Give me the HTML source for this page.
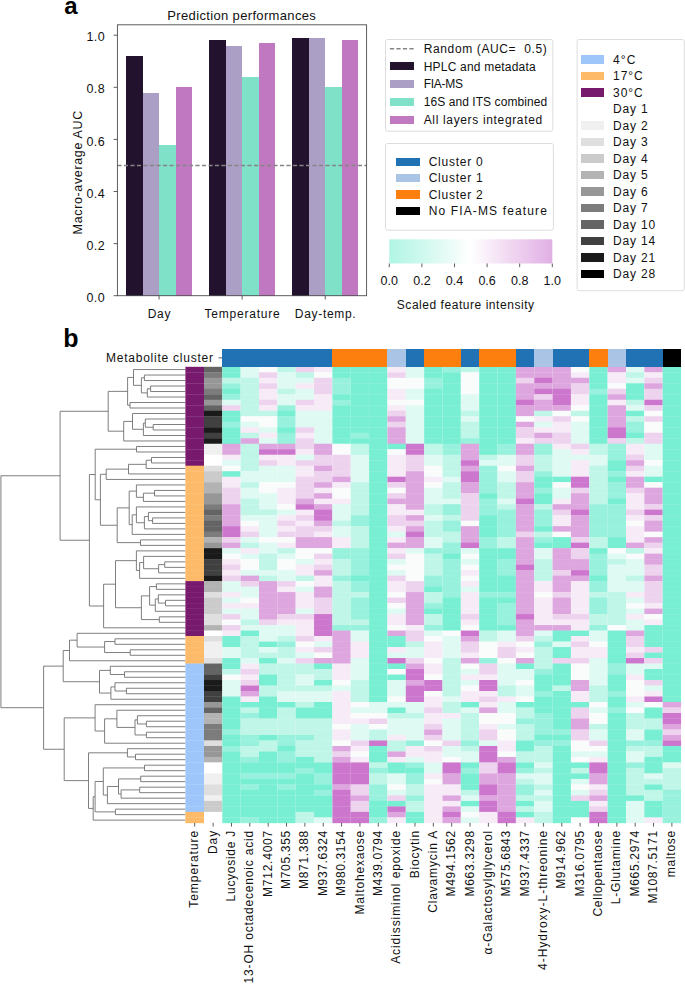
<!DOCTYPE html><html><head><meta charset="utf-8"><style>html,body{margin:0;padding:0;background:#fff;width:685px;height:984px;overflow:hidden}svg{display:block;font-family:"Liberation Sans",sans-serif}</style></head><body><svg width="685" height="984" viewBox="0 0 685 984" shape-rendering="crispEdges">
<rect width="685" height="984" fill="#fff"/>
<path d="M185.4 375.04H144.4V380.54H185.4M185.4 386.03H150.6V391.53H185.4M150.6 388.78H147.3V397.02H185.4M144.4 377.79H141.4V392.90H147.3M185.4 369.55H133.5V385.35H141.4M185.4 402.52H130.0V408.01H185.4M133.5 377.45H127.6V405.26H130.0M185.4 424.50H153.2V429.99H185.4M185.4 419.00H145.3V427.25H153.2M145.3 423.12H143.4V435.49H185.4M185.4 413.51H132.5V429.31H143.4M132.5 421.41H123.7V440.98H185.4M127.6 391.36H108.2V431.19H123.7M185.4 446.48H136.5V451.97H185.4M185.4 457.47H151.5V462.96H185.4M151.5 460.22H146.2V468.46H185.4M146.2 464.34H128.5V473.95H185.4M128.5 469.14H106.2V479.45H185.4M185.4 490.44H154.5V495.93H185.4M154.5 493.19H143.4V501.43H185.4M185.4 484.94H136.4V497.31H143.4M185.4 517.91H152.6V523.41H185.4M185.4 512.42H148.4V520.66H152.6M148.4 516.54H144.4V528.90H185.4M185.4 506.92H136.4V522.72H144.4M136.4 514.82H132.2V534.40H185.4M136.4 491.12H129.2V524.61H132.2M185.4 539.89H140.5V545.39H185.4M129.2 507.87H117.2V542.64H140.5M106.2 474.30H100.4V525.25H117.2M136.5 449.23H95.2V499.77H100.4M185.4 561.87H164.7V567.37H185.4M164.7 564.62H158.6V572.86H185.4M185.4 556.38H143.6V568.74H158.6M143.6 562.56H139.6V578.36H185.4M185.4 550.88H136.4V570.46H139.6M185.4 583.85H156.4V589.35H185.4M185.4 600.34H165.5V605.83H185.4M185.4 594.84H158.3V603.09H165.5M158.3 598.96H155.3V611.33H185.4M156.4 586.60H149.6V605.15H155.3M185.4 616.82H159.3V622.32H185.4M149.6 595.87H141.4V619.57H159.3M136.4 560.67H115.5V607.72H141.4M115.5 584.20H103.6V627.81H185.4M95.2 474.50H89.4V606.00H103.6M108.2 411.28H60.1V540.25H89.4M185.4 638.80H115.0V644.30H185.4M185.4 649.79H130.2V655.29H185.4M115.0 641.55H104.6V652.54H130.2M185.4 633.31H77.1V647.04H104.6M77.1 640.18H69.5V660.78H185.4M185.4 671.77H124.5V677.27H185.4M185.4 666.28H110.3V674.52H124.5M185.4 688.26H126.4V693.75H185.4M185.4 682.76H115.0V691.00H126.4M115.0 686.88H110.9V699.25H185.4M110.3 670.40H99.5V693.07H110.9M69.5 650.48H63.2V681.73H99.5M185.4 721.23H146.4V726.72H185.4M185.4 715.73H137.4V723.98H146.4M185.4 732.22H146.4V737.71H185.4M137.4 719.85H135.0V734.97H146.4M185.4 710.24H116.9V727.41H135.0M116.9 718.82H104.6V743.21H185.4M185.4 704.74H95.1V731.02H104.6M185.4 754.20H135.5V759.69H185.4M185.4 748.70H127.4V756.94H135.5M185.4 765.19H144.5V770.68H185.4M185.4 776.18H140.7V781.67H185.4M185.4 787.17H139.7V792.66H185.4M139.7 789.91H121.1V798.16H185.4M140.7 778.92H118.5V794.04H121.1M118.5 786.48H107.4V803.65H185.4M144.5 767.93H103.3V795.07H107.4M185.4 809.15H115.4V814.64H185.4M103.3 781.50H95.1V811.89H115.4M95.1 796.70H93.2V820.14H185.4M127.4 752.82H88.5V808.42H93.2M95.1 717.88H64.2V780.62H88.5M63.2 666.11H43.6V749.25H64.2M60.1 475.76H0.9V707.68H43.6" fill="none" stroke="#707070" stroke-width="0.9" shape-rendering="auto"/>
<g shape-rendering="auto"><rect x="185.4" y="366.80" width="18.60" height="5.795" fill="#771a6d"/><rect x="185.4" y="372.30" width="18.60" height="5.795" fill="#771a6d"/><rect x="185.4" y="377.79" width="18.60" height="5.795" fill="#771a6d"/><rect x="185.4" y="383.29" width="18.60" height="5.795" fill="#771a6d"/><rect x="185.4" y="388.78" width="18.60" height="5.795" fill="#771a6d"/><rect x="185.4" y="394.28" width="18.60" height="5.795" fill="#771a6d"/><rect x="185.4" y="399.77" width="18.60" height="5.795" fill="#771a6d"/><rect x="185.4" y="405.26" width="18.60" height="5.795" fill="#771a6d"/><rect x="185.4" y="410.76" width="18.60" height="5.795" fill="#771a6d"/><rect x="185.4" y="416.25" width="18.60" height="5.795" fill="#771a6d"/><rect x="185.4" y="421.75" width="18.60" height="5.795" fill="#771a6d"/><rect x="185.4" y="427.25" width="18.60" height="5.795" fill="#771a6d"/><rect x="185.4" y="432.74" width="18.60" height="5.795" fill="#771a6d"/><rect x="185.4" y="438.24" width="18.60" height="5.795" fill="#771a6d"/><rect x="185.4" y="443.73" width="18.60" height="5.795" fill="#771a6d"/><rect x="185.4" y="449.23" width="18.60" height="5.795" fill="#771a6d"/><rect x="185.4" y="454.72" width="18.60" height="5.795" fill="#771a6d"/><rect x="185.4" y="460.22" width="18.60" height="5.795" fill="#771a6d"/><rect x="185.4" y="465.71" width="18.60" height="5.795" fill="#fdbb69"/><rect x="185.4" y="471.21" width="18.60" height="5.795" fill="#fdbb69"/><rect x="185.4" y="476.70" width="18.60" height="5.795" fill="#fdbb69"/><rect x="185.4" y="482.19" width="18.60" height="5.795" fill="#fdbb69"/><rect x="185.4" y="487.69" width="18.60" height="5.795" fill="#fdbb69"/><rect x="185.4" y="493.19" width="18.60" height="5.795" fill="#fdbb69"/><rect x="185.4" y="498.68" width="18.60" height="5.795" fill="#fdbb69"/><rect x="185.4" y="504.18" width="18.60" height="5.795" fill="#fdbb69"/><rect x="185.4" y="509.67" width="18.60" height="5.795" fill="#fdbb69"/><rect x="185.4" y="515.16" width="18.60" height="5.795" fill="#fdbb69"/><rect x="185.4" y="520.66" width="18.60" height="5.795" fill="#fdbb69"/><rect x="185.4" y="526.15" width="18.60" height="5.795" fill="#fdbb69"/><rect x="185.4" y="531.65" width="18.60" height="5.795" fill="#fdbb69"/><rect x="185.4" y="537.14" width="18.60" height="5.795" fill="#fdbb69"/><rect x="185.4" y="542.64" width="18.60" height="5.795" fill="#fdbb69"/><rect x="185.4" y="548.13" width="18.60" height="5.795" fill="#fdbb69"/><rect x="185.4" y="553.63" width="18.60" height="5.795" fill="#fdbb69"/><rect x="185.4" y="559.12" width="18.60" height="5.795" fill="#fdbb69"/><rect x="185.4" y="564.62" width="18.60" height="5.795" fill="#fdbb69"/><rect x="185.4" y="570.12" width="18.60" height="5.795" fill="#fdbb69"/><rect x="185.4" y="575.61" width="18.60" height="5.795" fill="#fdbb69"/><rect x="185.4" y="581.11" width="18.60" height="5.795" fill="#771a6d"/><rect x="185.4" y="586.60" width="18.60" height="5.795" fill="#771a6d"/><rect x="185.4" y="592.10" width="18.60" height="5.795" fill="#771a6d"/><rect x="185.4" y="597.59" width="18.60" height="5.795" fill="#771a6d"/><rect x="185.4" y="603.09" width="18.60" height="5.795" fill="#771a6d"/><rect x="185.4" y="608.58" width="18.60" height="5.795" fill="#771a6d"/><rect x="185.4" y="614.08" width="18.60" height="5.795" fill="#771a6d"/><rect x="185.4" y="619.57" width="18.60" height="5.795" fill="#771a6d"/><rect x="185.4" y="625.07" width="18.60" height="5.795" fill="#771a6d"/><rect x="185.4" y="630.56" width="18.60" height="5.795" fill="#771a6d"/><rect x="185.4" y="636.06" width="18.60" height="5.795" fill="#fdbb69"/><rect x="185.4" y="641.55" width="18.60" height="5.795" fill="#fdbb69"/><rect x="185.4" y="647.05" width="18.60" height="5.795" fill="#fdbb69"/><rect x="185.4" y="652.54" width="18.60" height="5.795" fill="#fdbb69"/><rect x="185.4" y="658.04" width="18.60" height="5.795" fill="#fdbb69"/><rect x="185.4" y="663.53" width="18.60" height="5.795" fill="#9fc6fb"/><rect x="185.4" y="669.03" width="18.60" height="5.795" fill="#9fc6fb"/><rect x="185.4" y="674.52" width="18.60" height="5.795" fill="#9fc6fb"/><rect x="185.4" y="680.02" width="18.60" height="5.795" fill="#9fc6fb"/><rect x="185.4" y="685.51" width="18.60" height="5.795" fill="#9fc6fb"/><rect x="185.4" y="691.00" width="18.60" height="5.795" fill="#9fc6fb"/><rect x="185.4" y="696.50" width="18.60" height="5.795" fill="#9fc6fb"/><rect x="185.4" y="702.00" width="18.60" height="5.795" fill="#9fc6fb"/><rect x="185.4" y="707.49" width="18.60" height="5.795" fill="#9fc6fb"/><rect x="185.4" y="712.99" width="18.60" height="5.795" fill="#9fc6fb"/><rect x="185.4" y="718.48" width="18.60" height="5.795" fill="#9fc6fb"/><rect x="185.4" y="723.98" width="18.60" height="5.795" fill="#9fc6fb"/><rect x="185.4" y="729.47" width="18.60" height="5.795" fill="#9fc6fb"/><rect x="185.4" y="734.97" width="18.60" height="5.795" fill="#9fc6fb"/><rect x="185.4" y="740.46" width="18.60" height="5.795" fill="#9fc6fb"/><rect x="185.4" y="745.96" width="18.60" height="5.795" fill="#9fc6fb"/><rect x="185.4" y="751.45" width="18.60" height="5.795" fill="#9fc6fb"/><rect x="185.4" y="756.94" width="18.60" height="5.795" fill="#9fc6fb"/><rect x="185.4" y="762.44" width="18.60" height="5.795" fill="#9fc6fb"/><rect x="185.4" y="767.93" width="18.60" height="5.795" fill="#9fc6fb"/><rect x="185.4" y="773.43" width="18.60" height="5.795" fill="#9fc6fb"/><rect x="185.4" y="778.92" width="18.60" height="5.795" fill="#9fc6fb"/><rect x="185.4" y="784.42" width="18.60" height="5.795" fill="#9fc6fb"/><rect x="185.4" y="789.91" width="18.60" height="5.795" fill="#9fc6fb"/><rect x="185.4" y="795.41" width="18.60" height="5.795" fill="#9fc6fb"/><rect x="185.4" y="800.90" width="18.60" height="5.795" fill="#9fc6fb"/><rect x="185.4" y="806.40" width="18.60" height="5.795" fill="#9fc6fb"/><rect x="185.4" y="811.89" width="18.60" height="5.795" fill="#fdbb69"/><rect x="185.4" y="817.39" width="18.60" height="5.795" fill="#fdbb69"/><rect x="204.0" y="366.80" width="18.30" height="5.795" fill="#646464"/><rect x="204.0" y="372.30" width="18.30" height="5.795" fill="#7c7c7c"/><rect x="204.0" y="377.79" width="18.30" height="5.795" fill="#979797"/><rect x="204.0" y="383.29" width="18.30" height="5.795" fill="#979797"/><rect x="204.0" y="388.78" width="18.30" height="5.795" fill="#7c7c7c"/><rect x="204.0" y="394.28" width="18.30" height="5.795" fill="#646464"/><rect x="204.0" y="399.77" width="18.30" height="5.795" fill="#979797"/><rect x="204.0" y="405.26" width="18.30" height="5.795" fill="#646464"/><rect x="204.0" y="410.76" width="18.30" height="5.795" fill="#1a1a1a"/><rect x="204.0" y="416.25" width="18.30" height="5.795" fill="#404040"/><rect x="204.0" y="421.75" width="18.30" height="5.795" fill="#404040"/><rect x="204.0" y="427.25" width="18.30" height="5.795" fill="#1a1a1a"/><rect x="204.0" y="432.74" width="18.30" height="5.795" fill="#404040"/><rect x="204.0" y="438.24" width="18.30" height="5.795" fill="#1a1a1a"/><rect x="204.0" y="443.73" width="18.30" height="5.795" fill="#f0f0f0"/><rect x="204.0" y="449.23" width="18.30" height="5.795" fill="#f0f0f0"/><rect x="204.0" y="454.72" width="18.30" height="5.795" fill="#ffffff"/><rect x="204.0" y="460.22" width="18.30" height="5.795" fill="#ffffff"/><rect x="204.0" y="465.71" width="18.30" height="5.795" fill="#dfdfdf"/><rect x="204.0" y="471.21" width="18.30" height="5.795" fill="#cbcbcb"/><rect x="204.0" y="476.70" width="18.30" height="5.795" fill="#cbcbcb"/><rect x="204.0" y="482.19" width="18.30" height="5.795" fill="#b3b3b3"/><rect x="204.0" y="487.69" width="18.30" height="5.795" fill="#b3b3b3"/><rect x="204.0" y="493.19" width="18.30" height="5.795" fill="#979797"/><rect x="204.0" y="498.68" width="18.30" height="5.795" fill="#979797"/><rect x="204.0" y="504.18" width="18.30" height="5.795" fill="#7c7c7c"/><rect x="204.0" y="509.67" width="18.30" height="5.795" fill="#646464"/><rect x="204.0" y="515.16" width="18.30" height="5.795" fill="#7c7c7c"/><rect x="204.0" y="520.66" width="18.30" height="5.795" fill="#646464"/><rect x="204.0" y="526.15" width="18.30" height="5.795" fill="#646464"/><rect x="204.0" y="531.65" width="18.30" height="5.795" fill="#7c7c7c"/><rect x="204.0" y="537.14" width="18.30" height="5.795" fill="#b3b3b3"/><rect x="204.0" y="542.64" width="18.30" height="5.795" fill="#979797"/><rect x="204.0" y="548.13" width="18.30" height="5.795" fill="#1a1a1a"/><rect x="204.0" y="553.63" width="18.30" height="5.795" fill="#1a1a1a"/><rect x="204.0" y="559.12" width="18.30" height="5.795" fill="#404040"/><rect x="204.0" y="564.62" width="18.30" height="5.795" fill="#404040"/><rect x="204.0" y="570.12" width="18.30" height="5.795" fill="#404040"/><rect x="204.0" y="575.61" width="18.30" height="5.795" fill="#1a1a1a"/><rect x="204.0" y="581.11" width="18.30" height="5.795" fill="#b3b3b3"/><rect x="204.0" y="586.60" width="18.30" height="5.795" fill="#b3b3b3"/><rect x="204.0" y="592.10" width="18.30" height="5.795" fill="#dfdfdf"/><rect x="204.0" y="597.59" width="18.30" height="5.795" fill="#cbcbcb"/><rect x="204.0" y="603.09" width="18.30" height="5.795" fill="#cbcbcb"/><rect x="204.0" y="608.58" width="18.30" height="5.795" fill="#cbcbcb"/><rect x="204.0" y="614.08" width="18.30" height="5.795" fill="#dfdfdf"/><rect x="204.0" y="619.57" width="18.30" height="5.795" fill="#dfdfdf"/><rect x="204.0" y="625.07" width="18.30" height="5.795" fill="#b3b3b3"/><rect x="204.0" y="630.56" width="18.30" height="5.795" fill="#ffffff"/><rect x="204.0" y="636.06" width="18.30" height="5.795" fill="#dfdfdf"/><rect x="204.0" y="641.55" width="18.30" height="5.795" fill="#f0f0f0"/><rect x="204.0" y="647.05" width="18.30" height="5.795" fill="#f0f0f0"/><rect x="204.0" y="652.54" width="18.30" height="5.795" fill="#f0f0f0"/><rect x="204.0" y="658.04" width="18.30" height="5.795" fill="#dfdfdf"/><rect x="204.0" y="663.53" width="18.30" height="5.795" fill="#646464"/><rect x="204.0" y="669.03" width="18.30" height="5.795" fill="#646464"/><rect x="204.0" y="674.52" width="18.30" height="5.795" fill="#404040"/><rect x="204.0" y="680.02" width="18.30" height="5.795" fill="#1a1a1a"/><rect x="204.0" y="685.51" width="18.30" height="5.795" fill="#1a1a1a"/><rect x="204.0" y="691.00" width="18.30" height="5.795" fill="#404040"/><rect x="204.0" y="696.50" width="18.30" height="5.795" fill="#404040"/><rect x="204.0" y="702.00" width="18.30" height="5.795" fill="#979797"/><rect x="204.0" y="707.49" width="18.30" height="5.795" fill="#646464"/><rect x="204.0" y="712.99" width="18.30" height="5.795" fill="#b3b3b3"/><rect x="204.0" y="718.48" width="18.30" height="5.795" fill="#b3b3b3"/><rect x="204.0" y="723.98" width="18.30" height="5.795" fill="#7c7c7c"/><rect x="204.0" y="729.47" width="18.30" height="5.795" fill="#7c7c7c"/><rect x="204.0" y="734.97" width="18.30" height="5.795" fill="#7c7c7c"/><rect x="204.0" y="740.46" width="18.30" height="5.795" fill="#dfdfdf"/><rect x="204.0" y="745.96" width="18.30" height="5.795" fill="#979797"/><rect x="204.0" y="751.45" width="18.30" height="5.795" fill="#979797"/><rect x="204.0" y="756.94" width="18.30" height="5.795" fill="#b3b3b3"/><rect x="204.0" y="762.44" width="18.30" height="5.795" fill="#ffffff"/><rect x="204.0" y="767.93" width="18.30" height="5.795" fill="#ffffff"/><rect x="204.0" y="773.43" width="18.30" height="5.795" fill="#f0f0f0"/><rect x="204.0" y="778.92" width="18.30" height="5.795" fill="#f0f0f0"/><rect x="204.0" y="784.42" width="18.30" height="5.795" fill="#dfdfdf"/><rect x="204.0" y="789.91" width="18.30" height="5.795" fill="#dfdfdf"/><rect x="204.0" y="795.41" width="18.30" height="5.795" fill="#f0f0f0"/><rect x="204.0" y="800.90" width="18.30" height="5.795" fill="#cbcbcb"/><rect x="204.0" y="806.40" width="18.30" height="5.795" fill="#cbcbcb"/><rect x="204.0" y="811.89" width="18.30" height="5.795" fill="#ffffff"/><rect x="204.0" y="817.39" width="18.30" height="5.795" fill="#ffffff"/><rect x="222.30" y="366.80" width="18.35" height="5.795" fill="#78efd2"/><rect x="222.30" y="372.30" width="18.35" height="5.795" fill="#78efd2"/><rect x="222.30" y="377.79" width="18.35" height="5.795" fill="#c0f6e8"/><rect x="222.30" y="383.29" width="18.35" height="5.795" fill="#97f1dc"/><rect x="222.30" y="388.78" width="18.35" height="5.795" fill="#78efd2"/><rect x="222.30" y="394.28" width="18.35" height="5.795" fill="#97f1dc"/><rect x="222.30" y="399.77" width="18.35" height="5.795" fill="#dffaf3"/><rect x="222.30" y="405.26" width="18.35" height="5.795" fill="#eed3ee"/><rect x="222.30" y="410.76" width="18.35" height="5.795" fill="#78efd2"/><rect x="222.30" y="416.25" width="18.35" height="5.795" fill="#78efd2"/><rect x="222.30" y="421.75" width="18.35" height="5.795" fill="#97f1dc"/><rect x="222.30" y="427.25" width="18.35" height="5.795" fill="#78efd2"/><rect x="222.30" y="432.74" width="18.35" height="5.795" fill="#78efd2"/><rect x="222.30" y="438.24" width="18.35" height="5.795" fill="#78efd2"/><rect x="222.30" y="443.73" width="18.35" height="5.795" fill="#dea6de"/><rect x="222.30" y="449.23" width="18.35" height="5.795" fill="#dea6de"/><rect x="222.30" y="454.72" width="18.35" height="5.795" fill="#f6ebf6"/><rect x="222.30" y="460.22" width="18.35" height="5.795" fill="#dffaf3"/><rect x="222.30" y="465.71" width="18.35" height="5.795" fill="#fafcfc"/><rect x="222.30" y="471.21" width="18.35" height="5.795" fill="#78efd2"/><rect x="222.30" y="476.70" width="18.35" height="5.795" fill="#f6ebf6"/><rect x="222.30" y="482.19" width="18.35" height="5.795" fill="#f6ebf6"/><rect x="222.30" y="487.69" width="18.35" height="5.795" fill="#eed3ee"/><rect x="222.30" y="493.19" width="18.35" height="5.795" fill="#eed3ee"/><rect x="222.30" y="498.68" width="18.35" height="5.795" fill="#eed3ee"/><rect x="222.30" y="504.18" width="18.35" height="5.795" fill="#dea6de"/><rect x="222.30" y="509.67" width="18.35" height="5.795" fill="#dea6de"/><rect x="222.30" y="515.16" width="18.35" height="5.795" fill="#dea6de"/><rect x="222.30" y="520.66" width="18.35" height="5.795" fill="#dea6de"/><rect x="222.30" y="526.15" width="18.35" height="5.795" fill="#cd76cd"/><rect x="222.30" y="531.65" width="18.35" height="5.795" fill="#cd76cd"/><rect x="222.30" y="537.14" width="18.35" height="5.795" fill="#eed3ee"/><rect x="222.30" y="542.64" width="18.35" height="5.795" fill="#dea6de"/><rect x="222.30" y="548.13" width="18.35" height="5.795" fill="#dffaf3"/><rect x="222.30" y="553.63" width="18.35" height="5.795" fill="#fafcfc"/><rect x="222.30" y="559.12" width="18.35" height="5.795" fill="#f6ebf6"/><rect x="222.30" y="564.62" width="18.35" height="5.795" fill="#eed3ee"/><rect x="222.30" y="570.12" width="18.35" height="5.795" fill="#f6ebf6"/><rect x="222.30" y="575.61" width="18.35" height="5.795" fill="#eed3ee"/><rect x="222.30" y="581.11" width="18.35" height="5.795" fill="#dffaf3"/><rect x="222.30" y="586.60" width="18.35" height="5.795" fill="#dffaf3"/><rect x="222.30" y="592.10" width="18.35" height="5.795" fill="#f6ebf6"/><rect x="222.30" y="597.59" width="18.35" height="5.795" fill="#dffaf3"/><rect x="222.30" y="603.09" width="18.35" height="5.795" fill="#f6ebf6"/><rect x="222.30" y="608.58" width="18.35" height="5.795" fill="#dffaf3"/><rect x="222.30" y="614.08" width="18.35" height="5.795" fill="#eed3ee"/><rect x="222.30" y="619.57" width="18.35" height="5.795" fill="#fafcfc"/><rect x="222.30" y="625.07" width="18.35" height="5.795" fill="#eed3ee"/><rect x="222.30" y="630.56" width="18.35" height="5.795" fill="#f6ebf6"/><rect x="222.30" y="636.06" width="18.35" height="5.795" fill="#78efd2"/><rect x="222.30" y="641.55" width="18.35" height="5.795" fill="#78efd2"/><rect x="222.30" y="647.05" width="18.35" height="5.795" fill="#dffaf3"/><rect x="222.30" y="652.54" width="18.35" height="5.795" fill="#dffaf3"/><rect x="222.30" y="658.04" width="18.35" height="5.795" fill="#78efd2"/><rect x="222.30" y="663.53" width="18.35" height="5.795" fill="#78efd2"/><rect x="222.30" y="669.03" width="18.35" height="5.795" fill="#c0f6e8"/><rect x="222.30" y="674.52" width="18.35" height="5.795" fill="#fafcfc"/><rect x="222.30" y="680.02" width="18.35" height="5.795" fill="#dffaf3"/><rect x="222.30" y="685.51" width="18.35" height="5.795" fill="#dffaf3"/><rect x="222.30" y="691.00" width="18.35" height="5.795" fill="#dffaf3"/><rect x="222.30" y="696.50" width="18.35" height="5.795" fill="#78efd2"/><rect x="222.30" y="702.00" width="18.35" height="5.795" fill="#78efd2"/><rect x="222.30" y="707.49" width="18.35" height="5.795" fill="#78efd2"/><rect x="222.30" y="712.99" width="18.35" height="5.795" fill="#78efd2"/><rect x="222.30" y="718.48" width="18.35" height="5.795" fill="#78efd2"/><rect x="222.30" y="723.98" width="18.35" height="5.795" fill="#78efd2"/><rect x="222.30" y="729.47" width="18.35" height="5.795" fill="#97f1dc"/><rect x="222.30" y="734.97" width="18.35" height="5.795" fill="#78efd2"/><rect x="222.30" y="740.46" width="18.35" height="5.795" fill="#78efd2"/><rect x="222.30" y="745.96" width="18.35" height="5.795" fill="#97f1dc"/><rect x="222.30" y="751.45" width="18.35" height="5.795" fill="#78efd2"/><rect x="222.30" y="756.94" width="18.35" height="5.795" fill="#78efd2"/><rect x="222.30" y="762.44" width="18.35" height="5.795" fill="#78efd2"/><rect x="222.30" y="767.93" width="18.35" height="5.795" fill="#78efd2"/><rect x="222.30" y="773.43" width="18.35" height="5.795" fill="#78efd2"/><rect x="222.30" y="778.92" width="18.35" height="5.795" fill="#78efd2"/><rect x="222.30" y="784.42" width="18.35" height="5.795" fill="#78efd2"/><rect x="222.30" y="789.91" width="18.35" height="5.795" fill="#78efd2"/><rect x="222.30" y="795.41" width="18.35" height="5.795" fill="#78efd2"/><rect x="222.30" y="800.90" width="18.35" height="5.795" fill="#78efd2"/><rect x="222.30" y="806.40" width="18.35" height="5.795" fill="#78efd2"/><rect x="222.30" y="811.89" width="18.35" height="5.795" fill="#78efd2"/><rect x="222.30" y="817.39" width="18.35" height="5.795" fill="#78efd2"/><rect x="240.65" y="366.80" width="18.35" height="5.795" fill="#dffaf3"/><rect x="240.65" y="372.30" width="18.35" height="5.795" fill="#dffaf3"/><rect x="240.65" y="377.79" width="18.35" height="5.795" fill="#c0f6e8"/><rect x="240.65" y="383.29" width="18.35" height="5.795" fill="#c0f6e8"/><rect x="240.65" y="388.78" width="18.35" height="5.795" fill="#c0f6e8"/><rect x="240.65" y="394.28" width="18.35" height="5.795" fill="#c0f6e8"/><rect x="240.65" y="399.77" width="18.35" height="5.795" fill="#c0f6e8"/><rect x="240.65" y="405.26" width="18.35" height="5.795" fill="#c0f6e8"/><rect x="240.65" y="410.76" width="18.35" height="5.795" fill="#c0f6e8"/><rect x="240.65" y="416.25" width="18.35" height="5.795" fill="#fafcfc"/><rect x="240.65" y="421.75" width="18.35" height="5.795" fill="#dffaf3"/><rect x="240.65" y="427.25" width="18.35" height="5.795" fill="#f6ebf6"/><rect x="240.65" y="432.74" width="18.35" height="5.795" fill="#c0f6e8"/><rect x="240.65" y="438.24" width="18.35" height="5.795" fill="#dea6de"/><rect x="240.65" y="443.73" width="18.35" height="5.795" fill="#c0f6e8"/><rect x="240.65" y="449.23" width="18.35" height="5.795" fill="#c0f6e8"/><rect x="240.65" y="454.72" width="18.35" height="5.795" fill="#c0f6e8"/><rect x="240.65" y="460.22" width="18.35" height="5.795" fill="#c0f6e8"/><rect x="240.65" y="465.71" width="18.35" height="5.795" fill="#c0f6e8"/><rect x="240.65" y="471.21" width="18.35" height="5.795" fill="#dffaf3"/><rect x="240.65" y="476.70" width="18.35" height="5.795" fill="#dffaf3"/><rect x="240.65" y="482.19" width="18.35" height="5.795" fill="#c0f6e8"/><rect x="240.65" y="487.69" width="18.35" height="5.795" fill="#dffaf3"/><rect x="240.65" y="493.19" width="18.35" height="5.795" fill="#dffaf3"/><rect x="240.65" y="498.68" width="18.35" height="5.795" fill="#c0f6e8"/><rect x="240.65" y="504.18" width="18.35" height="5.795" fill="#c0f6e8"/><rect x="240.65" y="509.67" width="18.35" height="5.795" fill="#c0f6e8"/><rect x="240.65" y="515.16" width="18.35" height="5.795" fill="#dffaf3"/><rect x="240.65" y="520.66" width="18.35" height="5.795" fill="#fafcfc"/><rect x="240.65" y="526.15" width="18.35" height="5.795" fill="#f6ebf6"/><rect x="240.65" y="531.65" width="18.35" height="5.795" fill="#eed3ee"/><rect x="240.65" y="537.14" width="18.35" height="5.795" fill="#dffaf3"/><rect x="240.65" y="542.64" width="18.35" height="5.795" fill="#c0f6e8"/><rect x="240.65" y="548.13" width="18.35" height="5.795" fill="#f6ebf6"/><rect x="240.65" y="553.63" width="18.35" height="5.795" fill="#dffaf3"/><rect x="240.65" y="559.12" width="18.35" height="5.795" fill="#fafcfc"/><rect x="240.65" y="564.62" width="18.35" height="5.795" fill="#fafcfc"/><rect x="240.65" y="570.12" width="18.35" height="5.795" fill="#dffaf3"/><rect x="240.65" y="575.61" width="18.35" height="5.795" fill="#dea6de"/><rect x="240.65" y="581.11" width="18.35" height="5.795" fill="#eed3ee"/><rect x="240.65" y="586.60" width="18.35" height="5.795" fill="#dffaf3"/><rect x="240.65" y="592.10" width="18.35" height="5.795" fill="#dffaf3"/><rect x="240.65" y="597.59" width="18.35" height="5.795" fill="#fafcfc"/><rect x="240.65" y="603.09" width="18.35" height="5.795" fill="#f6ebf6"/><rect x="240.65" y="608.58" width="18.35" height="5.795" fill="#dffaf3"/><rect x="240.65" y="614.08" width="18.35" height="5.795" fill="#dffaf3"/><rect x="240.65" y="619.57" width="18.35" height="5.795" fill="#c0f6e8"/><rect x="240.65" y="625.07" width="18.35" height="5.795" fill="#dffaf3"/><rect x="240.65" y="630.56" width="18.35" height="5.795" fill="#78efd2"/><rect x="240.65" y="636.06" width="18.35" height="5.795" fill="#c0f6e8"/><rect x="240.65" y="641.55" width="18.35" height="5.795" fill="#c0f6e8"/><rect x="240.65" y="647.05" width="18.35" height="5.795" fill="#c0f6e8"/><rect x="240.65" y="652.54" width="18.35" height="5.795" fill="#c0f6e8"/><rect x="240.65" y="658.04" width="18.35" height="5.795" fill="#dffaf3"/><rect x="240.65" y="663.53" width="18.35" height="5.795" fill="#f6ebf6"/><rect x="240.65" y="669.03" width="18.35" height="5.795" fill="#eed3ee"/><rect x="240.65" y="674.52" width="18.35" height="5.795" fill="#f6ebf6"/><rect x="240.65" y="680.02" width="18.35" height="5.795" fill="#eed3ee"/><rect x="240.65" y="685.51" width="18.35" height="5.795" fill="#cd76cd"/><rect x="240.65" y="691.00" width="18.35" height="5.795" fill="#dea6de"/><rect x="240.65" y="696.50" width="18.35" height="5.795" fill="#f6ebf6"/><rect x="240.65" y="702.00" width="18.35" height="5.795" fill="#78efd2"/><rect x="240.65" y="707.49" width="18.35" height="5.795" fill="#c0f6e8"/><rect x="240.65" y="712.99" width="18.35" height="5.795" fill="#97f1dc"/><rect x="240.65" y="718.48" width="18.35" height="5.795" fill="#c0f6e8"/><rect x="240.65" y="723.98" width="18.35" height="5.795" fill="#c0f6e8"/><rect x="240.65" y="729.47" width="18.35" height="5.795" fill="#c0f6e8"/><rect x="240.65" y="734.97" width="18.35" height="5.795" fill="#97f1dc"/><rect x="240.65" y="740.46" width="18.35" height="5.795" fill="#97f1dc"/><rect x="240.65" y="745.96" width="18.35" height="5.795" fill="#c0f6e8"/><rect x="240.65" y="751.45" width="18.35" height="5.795" fill="#c0f6e8"/><rect x="240.65" y="756.94" width="18.35" height="5.795" fill="#97f1dc"/><rect x="240.65" y="762.44" width="18.35" height="5.795" fill="#78efd2"/><rect x="240.65" y="767.93" width="18.35" height="5.795" fill="#78efd2"/><rect x="240.65" y="773.43" width="18.35" height="5.795" fill="#97f1dc"/><rect x="240.65" y="778.92" width="18.35" height="5.795" fill="#78efd2"/><rect x="240.65" y="784.42" width="18.35" height="5.795" fill="#97f1dc"/><rect x="240.65" y="789.91" width="18.35" height="5.795" fill="#78efd2"/><rect x="240.65" y="795.41" width="18.35" height="5.795" fill="#78efd2"/><rect x="240.65" y="800.90" width="18.35" height="5.795" fill="#78efd2"/><rect x="240.65" y="806.40" width="18.35" height="5.795" fill="#78efd2"/><rect x="240.65" y="811.89" width="18.35" height="5.795" fill="#78efd2"/><rect x="240.65" y="817.39" width="18.35" height="5.795" fill="#97f1dc"/><rect x="259.00" y="366.80" width="18.35" height="5.795" fill="#fafcfc"/><rect x="259.00" y="372.30" width="18.35" height="5.795" fill="#eed3ee"/><rect x="259.00" y="377.79" width="18.35" height="5.795" fill="#f6ebf6"/><rect x="259.00" y="383.29" width="18.35" height="5.795" fill="#eed3ee"/><rect x="259.00" y="388.78" width="18.35" height="5.795" fill="#f6ebf6"/><rect x="259.00" y="394.28" width="18.35" height="5.795" fill="#f6ebf6"/><rect x="259.00" y="399.77" width="18.35" height="5.795" fill="#eed3ee"/><rect x="259.00" y="405.26" width="18.35" height="5.795" fill="#f6ebf6"/><rect x="259.00" y="410.76" width="18.35" height="5.795" fill="#c0f6e8"/><rect x="259.00" y="416.25" width="18.35" height="5.795" fill="#fafcfc"/><rect x="259.00" y="421.75" width="18.35" height="5.795" fill="#fafcfc"/><rect x="259.00" y="427.25" width="18.35" height="5.795" fill="#dffaf3"/><rect x="259.00" y="432.74" width="18.35" height="5.795" fill="#f6ebf6"/><rect x="259.00" y="438.24" width="18.35" height="5.795" fill="#dffaf3"/><rect x="259.00" y="443.73" width="18.35" height="5.795" fill="#dea6de"/><rect x="259.00" y="449.23" width="18.35" height="5.795" fill="#cd76cd"/><rect x="259.00" y="454.72" width="18.35" height="5.795" fill="#f6ebf6"/><rect x="259.00" y="460.22" width="18.35" height="5.795" fill="#eed3ee"/><rect x="259.00" y="465.71" width="18.35" height="5.795" fill="#dffaf3"/><rect x="259.00" y="471.21" width="18.35" height="5.795" fill="#dffaf3"/><rect x="259.00" y="476.70" width="18.35" height="5.795" fill="#dffaf3"/><rect x="259.00" y="482.19" width="18.35" height="5.795" fill="#fafcfc"/><rect x="259.00" y="487.69" width="18.35" height="5.795" fill="#fafcfc"/><rect x="259.00" y="493.19" width="18.35" height="5.795" fill="#dffaf3"/><rect x="259.00" y="498.68" width="18.35" height="5.795" fill="#dffaf3"/><rect x="259.00" y="504.18" width="18.35" height="5.795" fill="#dffaf3"/><rect x="259.00" y="509.67" width="18.35" height="5.795" fill="#c0f6e8"/><rect x="259.00" y="515.16" width="18.35" height="5.795" fill="#dffaf3"/><rect x="259.00" y="520.66" width="18.35" height="5.795" fill="#dffaf3"/><rect x="259.00" y="526.15" width="18.35" height="5.795" fill="#dffaf3"/><rect x="259.00" y="531.65" width="18.35" height="5.795" fill="#dffaf3"/><rect x="259.00" y="537.14" width="18.35" height="5.795" fill="#fafcfc"/><rect x="259.00" y="542.64" width="18.35" height="5.795" fill="#dffaf3"/><rect x="259.00" y="548.13" width="18.35" height="5.795" fill="#dffaf3"/><rect x="259.00" y="553.63" width="18.35" height="5.795" fill="#c0f6e8"/><rect x="259.00" y="559.12" width="18.35" height="5.795" fill="#c0f6e8"/><rect x="259.00" y="564.62" width="18.35" height="5.795" fill="#c0f6e8"/><rect x="259.00" y="570.12" width="18.35" height="5.795" fill="#dffaf3"/><rect x="259.00" y="575.61" width="18.35" height="5.795" fill="#c0f6e8"/><rect x="259.00" y="581.11" width="18.35" height="5.795" fill="#dea6de"/><rect x="259.00" y="586.60" width="18.35" height="5.795" fill="#dea6de"/><rect x="259.00" y="592.10" width="18.35" height="5.795" fill="#dea6de"/><rect x="259.00" y="597.59" width="18.35" height="5.795" fill="#dea6de"/><rect x="259.00" y="603.09" width="18.35" height="5.795" fill="#dea6de"/><rect x="259.00" y="608.58" width="18.35" height="5.795" fill="#dea6de"/><rect x="259.00" y="614.08" width="18.35" height="5.795" fill="#dea6de"/><rect x="259.00" y="619.57" width="18.35" height="5.795" fill="#eed3ee"/><rect x="259.00" y="625.07" width="18.35" height="5.795" fill="#dffaf3"/><rect x="259.00" y="630.56" width="18.35" height="5.795" fill="#dffaf3"/><rect x="259.00" y="636.06" width="18.35" height="5.795" fill="#dffaf3"/><rect x="259.00" y="641.55" width="18.35" height="5.795" fill="#78efd2"/><rect x="259.00" y="647.05" width="18.35" height="5.795" fill="#dffaf3"/><rect x="259.00" y="652.54" width="18.35" height="5.795" fill="#c0f6e8"/><rect x="259.00" y="658.04" width="18.35" height="5.795" fill="#78efd2"/><rect x="259.00" y="663.53" width="18.35" height="5.795" fill="#c0f6e8"/><rect x="259.00" y="669.03" width="18.35" height="5.795" fill="#c0f6e8"/><rect x="259.00" y="674.52" width="18.35" height="5.795" fill="#78efd2"/><rect x="259.00" y="680.02" width="18.35" height="5.795" fill="#78efd2"/><rect x="259.00" y="685.51" width="18.35" height="5.795" fill="#c0f6e8"/><rect x="259.00" y="691.00" width="18.35" height="5.795" fill="#c0f6e8"/><rect x="259.00" y="696.50" width="18.35" height="5.795" fill="#78efd2"/><rect x="259.00" y="702.00" width="18.35" height="5.795" fill="#78efd2"/><rect x="259.00" y="707.49" width="18.35" height="5.795" fill="#78efd2"/><rect x="259.00" y="712.99" width="18.35" height="5.795" fill="#78efd2"/><rect x="259.00" y="718.48" width="18.35" height="5.795" fill="#c0f6e8"/><rect x="259.00" y="723.98" width="18.35" height="5.795" fill="#c0f6e8"/><rect x="259.00" y="729.47" width="18.35" height="5.795" fill="#c0f6e8"/><rect x="259.00" y="734.97" width="18.35" height="5.795" fill="#78efd2"/><rect x="259.00" y="740.46" width="18.35" height="5.795" fill="#c0f6e8"/><rect x="259.00" y="745.96" width="18.35" height="5.795" fill="#c0f6e8"/><rect x="259.00" y="751.45" width="18.35" height="5.795" fill="#78efd2"/><rect x="259.00" y="756.94" width="18.35" height="5.795" fill="#78efd2"/><rect x="259.00" y="762.44" width="18.35" height="5.795" fill="#78efd2"/><rect x="259.00" y="767.93" width="18.35" height="5.795" fill="#78efd2"/><rect x="259.00" y="773.43" width="18.35" height="5.795" fill="#97f1dc"/><rect x="259.00" y="778.92" width="18.35" height="5.795" fill="#78efd2"/><rect x="259.00" y="784.42" width="18.35" height="5.795" fill="#78efd2"/><rect x="259.00" y="789.91" width="18.35" height="5.795" fill="#78efd2"/><rect x="259.00" y="795.41" width="18.35" height="5.795" fill="#78efd2"/><rect x="259.00" y="800.90" width="18.35" height="5.795" fill="#78efd2"/><rect x="259.00" y="806.40" width="18.35" height="5.795" fill="#78efd2"/><rect x="259.00" y="811.89" width="18.35" height="5.795" fill="#78efd2"/><rect x="259.00" y="817.39" width="18.35" height="5.795" fill="#78efd2"/><rect x="277.35" y="366.80" width="18.35" height="5.795" fill="#c0f6e8"/><rect x="277.35" y="372.30" width="18.35" height="5.795" fill="#dffaf3"/><rect x="277.35" y="377.79" width="18.35" height="5.795" fill="#dffaf3"/><rect x="277.35" y="383.29" width="18.35" height="5.795" fill="#dffaf3"/><rect x="277.35" y="388.78" width="18.35" height="5.795" fill="#c0f6e8"/><rect x="277.35" y="394.28" width="18.35" height="5.795" fill="#dffaf3"/><rect x="277.35" y="399.77" width="18.35" height="5.795" fill="#dffaf3"/><rect x="277.35" y="405.26" width="18.35" height="5.795" fill="#97f1dc"/><rect x="277.35" y="410.76" width="18.35" height="5.795" fill="#78efd2"/><rect x="277.35" y="416.25" width="18.35" height="5.795" fill="#97f1dc"/><rect x="277.35" y="421.75" width="18.35" height="5.795" fill="#97f1dc"/><rect x="277.35" y="427.25" width="18.35" height="5.795" fill="#78efd2"/><rect x="277.35" y="432.74" width="18.35" height="5.795" fill="#97f1dc"/><rect x="277.35" y="438.24" width="18.35" height="5.795" fill="#97f1dc"/><rect x="277.35" y="443.73" width="18.35" height="5.795" fill="#dea6de"/><rect x="277.35" y="449.23" width="18.35" height="5.795" fill="#cd76cd"/><rect x="277.35" y="454.72" width="18.35" height="5.795" fill="#f6ebf6"/><rect x="277.35" y="460.22" width="18.35" height="5.795" fill="#f6ebf6"/><rect x="277.35" y="465.71" width="18.35" height="5.795" fill="#dffaf3"/><rect x="277.35" y="471.21" width="18.35" height="5.795" fill="#dffaf3"/><rect x="277.35" y="476.70" width="18.35" height="5.795" fill="#dffaf3"/><rect x="277.35" y="482.19" width="18.35" height="5.795" fill="#fafcfc"/><rect x="277.35" y="487.69" width="18.35" height="5.795" fill="#f6ebf6"/><rect x="277.35" y="493.19" width="18.35" height="5.795" fill="#f6ebf6"/><rect x="277.35" y="498.68" width="18.35" height="5.795" fill="#f6ebf6"/><rect x="277.35" y="504.18" width="18.35" height="5.795" fill="#fafcfc"/><rect x="277.35" y="509.67" width="18.35" height="5.795" fill="#dffaf3"/><rect x="277.35" y="515.16" width="18.35" height="5.795" fill="#f6ebf6"/><rect x="277.35" y="520.66" width="18.35" height="5.795" fill="#eed3ee"/><rect x="277.35" y="526.15" width="18.35" height="5.795" fill="#f6ebf6"/><rect x="277.35" y="531.65" width="18.35" height="5.795" fill="#eed3ee"/><rect x="277.35" y="537.14" width="18.35" height="5.795" fill="#fafcfc"/><rect x="277.35" y="542.64" width="18.35" height="5.795" fill="#f6ebf6"/><rect x="277.35" y="548.13" width="18.35" height="5.795" fill="#c0f6e8"/><rect x="277.35" y="553.63" width="18.35" height="5.795" fill="#dffaf3"/><rect x="277.35" y="559.12" width="18.35" height="5.795" fill="#fafcfc"/><rect x="277.35" y="564.62" width="18.35" height="5.795" fill="#fafcfc"/><rect x="277.35" y="570.12" width="18.35" height="5.795" fill="#dffaf3"/><rect x="277.35" y="575.61" width="18.35" height="5.795" fill="#dffaf3"/><rect x="277.35" y="581.11" width="18.35" height="5.795" fill="#eed3ee"/><rect x="277.35" y="586.60" width="18.35" height="5.795" fill="#f6ebf6"/><rect x="277.35" y="592.10" width="18.35" height="5.795" fill="#dea6de"/><rect x="277.35" y="597.59" width="18.35" height="5.795" fill="#dea6de"/><rect x="277.35" y="603.09" width="18.35" height="5.795" fill="#dea6de"/><rect x="277.35" y="608.58" width="18.35" height="5.795" fill="#dea6de"/><rect x="277.35" y="614.08" width="18.35" height="5.795" fill="#eed3ee"/><rect x="277.35" y="619.57" width="18.35" height="5.795" fill="#f6ebf6"/><rect x="277.35" y="625.07" width="18.35" height="5.795" fill="#dffaf3"/><rect x="277.35" y="630.56" width="18.35" height="5.795" fill="#dffaf3"/><rect x="277.35" y="636.06" width="18.35" height="5.795" fill="#c0f6e8"/><rect x="277.35" y="641.55" width="18.35" height="5.795" fill="#97f1dc"/><rect x="277.35" y="647.05" width="18.35" height="5.795" fill="#c0f6e8"/><rect x="277.35" y="652.54" width="18.35" height="5.795" fill="#c0f6e8"/><rect x="277.35" y="658.04" width="18.35" height="5.795" fill="#dffaf3"/><rect x="277.35" y="663.53" width="18.35" height="5.795" fill="#c0f6e8"/><rect x="277.35" y="669.03" width="18.35" height="5.795" fill="#c0f6e8"/><rect x="277.35" y="674.52" width="18.35" height="5.795" fill="#c0f6e8"/><rect x="277.35" y="680.02" width="18.35" height="5.795" fill="#c0f6e8"/><rect x="277.35" y="685.51" width="18.35" height="5.795" fill="#c0f6e8"/><rect x="277.35" y="691.00" width="18.35" height="5.795" fill="#dffaf3"/><rect x="277.35" y="696.50" width="18.35" height="5.795" fill="#dffaf3"/><rect x="277.35" y="702.00" width="18.35" height="5.795" fill="#78efd2"/><rect x="277.35" y="707.49" width="18.35" height="5.795" fill="#c0f6e8"/><rect x="277.35" y="712.99" width="18.35" height="5.795" fill="#c0f6e8"/><rect x="277.35" y="718.48" width="18.35" height="5.795" fill="#c0f6e8"/><rect x="277.35" y="723.98" width="18.35" height="5.795" fill="#c0f6e8"/><rect x="277.35" y="729.47" width="18.35" height="5.795" fill="#c0f6e8"/><rect x="277.35" y="734.97" width="18.35" height="5.795" fill="#97f1dc"/><rect x="277.35" y="740.46" width="18.35" height="5.795" fill="#97f1dc"/><rect x="277.35" y="745.96" width="18.35" height="5.795" fill="#78efd2"/><rect x="277.35" y="751.45" width="18.35" height="5.795" fill="#97f1dc"/><rect x="277.35" y="756.94" width="18.35" height="5.795" fill="#97f1dc"/><rect x="277.35" y="762.44" width="18.35" height="5.795" fill="#78efd2"/><rect x="277.35" y="767.93" width="18.35" height="5.795" fill="#78efd2"/><rect x="277.35" y="773.43" width="18.35" height="5.795" fill="#97f1dc"/><rect x="277.35" y="778.92" width="18.35" height="5.795" fill="#78efd2"/><rect x="277.35" y="784.42" width="18.35" height="5.795" fill="#97f1dc"/><rect x="277.35" y="789.91" width="18.35" height="5.795" fill="#78efd2"/><rect x="277.35" y="795.41" width="18.35" height="5.795" fill="#78efd2"/><rect x="277.35" y="800.90" width="18.35" height="5.795" fill="#78efd2"/><rect x="277.35" y="806.40" width="18.35" height="5.795" fill="#78efd2"/><rect x="277.35" y="811.89" width="18.35" height="5.795" fill="#78efd2"/><rect x="277.35" y="817.39" width="18.35" height="5.795" fill="#78efd2"/><rect x="295.70" y="366.80" width="18.35" height="5.795" fill="#eed3ee"/><rect x="295.70" y="372.30" width="18.35" height="5.795" fill="#c0f6e8"/><rect x="295.70" y="377.79" width="18.35" height="5.795" fill="#dffaf3"/><rect x="295.70" y="383.29" width="18.35" height="5.795" fill="#f6ebf6"/><rect x="295.70" y="388.78" width="18.35" height="5.795" fill="#dffaf3"/><rect x="295.70" y="394.28" width="18.35" height="5.795" fill="#dffaf3"/><rect x="295.70" y="399.77" width="18.35" height="5.795" fill="#eed3ee"/><rect x="295.70" y="405.26" width="18.35" height="5.795" fill="#f6ebf6"/><rect x="295.70" y="410.76" width="18.35" height="5.795" fill="#dffaf3"/><rect x="295.70" y="416.25" width="18.35" height="5.795" fill="#dffaf3"/><rect x="295.70" y="421.75" width="18.35" height="5.795" fill="#dffaf3"/><rect x="295.70" y="427.25" width="18.35" height="5.795" fill="#eed3ee"/><rect x="295.70" y="432.74" width="18.35" height="5.795" fill="#f6ebf6"/><rect x="295.70" y="438.24" width="18.35" height="5.795" fill="#eed3ee"/><rect x="295.70" y="443.73" width="18.35" height="5.795" fill="#eed3ee"/><rect x="295.70" y="449.23" width="18.35" height="5.795" fill="#f6ebf6"/><rect x="295.70" y="454.72" width="18.35" height="5.795" fill="#dffaf3"/><rect x="295.70" y="460.22" width="18.35" height="5.795" fill="#eed3ee"/><rect x="295.70" y="465.71" width="18.35" height="5.795" fill="#f6ebf6"/><rect x="295.70" y="471.21" width="18.35" height="5.795" fill="#f6ebf6"/><rect x="295.70" y="476.70" width="18.35" height="5.795" fill="#eed3ee"/><rect x="295.70" y="482.19" width="18.35" height="5.795" fill="#eed3ee"/><rect x="295.70" y="487.69" width="18.35" height="5.795" fill="#eed3ee"/><rect x="295.70" y="493.19" width="18.35" height="5.795" fill="#eed3ee"/><rect x="295.70" y="498.68" width="18.35" height="5.795" fill="#dea6de"/><rect x="295.70" y="504.18" width="18.35" height="5.795" fill="#cd76cd"/><rect x="295.70" y="509.67" width="18.35" height="5.795" fill="#f6ebf6"/><rect x="295.70" y="515.16" width="18.35" height="5.795" fill="#eed3ee"/><rect x="295.70" y="520.66" width="18.35" height="5.795" fill="#f6ebf6"/><rect x="295.70" y="526.15" width="18.35" height="5.795" fill="#eed3ee"/><rect x="295.70" y="531.65" width="18.35" height="5.795" fill="#eed3ee"/><rect x="295.70" y="537.14" width="18.35" height="5.795" fill="#dea6de"/><rect x="295.70" y="542.64" width="18.35" height="5.795" fill="#dea6de"/><rect x="295.70" y="548.13" width="18.35" height="5.795" fill="#fafcfc"/><rect x="295.70" y="553.63" width="18.35" height="5.795" fill="#fafcfc"/><rect x="295.70" y="559.12" width="18.35" height="5.795" fill="#dffaf3"/><rect x="295.70" y="564.62" width="18.35" height="5.795" fill="#f6ebf6"/><rect x="295.70" y="570.12" width="18.35" height="5.795" fill="#f6ebf6"/><rect x="295.70" y="575.61" width="18.35" height="5.795" fill="#c0f6e8"/><rect x="295.70" y="581.11" width="18.35" height="5.795" fill="#fafcfc"/><rect x="295.70" y="586.60" width="18.35" height="5.795" fill="#dffaf3"/><rect x="295.70" y="592.10" width="18.35" height="5.795" fill="#f6ebf6"/><rect x="295.70" y="597.59" width="18.35" height="5.795" fill="#f6ebf6"/><rect x="295.70" y="603.09" width="18.35" height="5.795" fill="#f6ebf6"/><rect x="295.70" y="608.58" width="18.35" height="5.795" fill="#dffaf3"/><rect x="295.70" y="614.08" width="18.35" height="5.795" fill="#eed3ee"/><rect x="295.70" y="619.57" width="18.35" height="5.795" fill="#f6ebf6"/><rect x="295.70" y="625.07" width="18.35" height="5.795" fill="#f6ebf6"/><rect x="295.70" y="630.56" width="18.35" height="5.795" fill="#f6ebf6"/><rect x="295.70" y="636.06" width="18.35" height="5.795" fill="#eed3ee"/><rect x="295.70" y="641.55" width="18.35" height="5.795" fill="#fafcfc"/><rect x="295.70" y="647.05" width="18.35" height="5.795" fill="#f6ebf6"/><rect x="295.70" y="652.54" width="18.35" height="5.795" fill="#dffaf3"/><rect x="295.70" y="658.04" width="18.35" height="5.795" fill="#eed3ee"/><rect x="295.70" y="663.53" width="18.35" height="5.795" fill="#c0f6e8"/><rect x="295.70" y="669.03" width="18.35" height="5.795" fill="#c0f6e8"/><rect x="295.70" y="674.52" width="18.35" height="5.795" fill="#dffaf3"/><rect x="295.70" y="680.02" width="18.35" height="5.795" fill="#dffaf3"/><rect x="295.70" y="685.51" width="18.35" height="5.795" fill="#c0f6e8"/><rect x="295.70" y="691.00" width="18.35" height="5.795" fill="#dffaf3"/><rect x="295.70" y="696.50" width="18.35" height="5.795" fill="#dffaf3"/><rect x="295.70" y="702.00" width="18.35" height="5.795" fill="#c0f6e8"/><rect x="295.70" y="707.49" width="18.35" height="5.795" fill="#78efd2"/><rect x="295.70" y="712.99" width="18.35" height="5.795" fill="#78efd2"/><rect x="295.70" y="718.48" width="18.35" height="5.795" fill="#c0f6e8"/><rect x="295.70" y="723.98" width="18.35" height="5.795" fill="#c0f6e8"/><rect x="295.70" y="729.47" width="18.35" height="5.795" fill="#c0f6e8"/><rect x="295.70" y="734.97" width="18.35" height="5.795" fill="#97f1dc"/><rect x="295.70" y="740.46" width="18.35" height="5.795" fill="#c0f6e8"/><rect x="295.70" y="745.96" width="18.35" height="5.795" fill="#c0f6e8"/><rect x="295.70" y="751.45" width="18.35" height="5.795" fill="#c0f6e8"/><rect x="295.70" y="756.94" width="18.35" height="5.795" fill="#78efd2"/><rect x="295.70" y="762.44" width="18.35" height="5.795" fill="#78efd2"/><rect x="295.70" y="767.93" width="18.35" height="5.795" fill="#97f1dc"/><rect x="295.70" y="773.43" width="18.35" height="5.795" fill="#78efd2"/><rect x="295.70" y="778.92" width="18.35" height="5.795" fill="#78efd2"/><rect x="295.70" y="784.42" width="18.35" height="5.795" fill="#78efd2"/><rect x="295.70" y="789.91" width="18.35" height="5.795" fill="#78efd2"/><rect x="295.70" y="795.41" width="18.35" height="5.795" fill="#78efd2"/><rect x="295.70" y="800.90" width="18.35" height="5.795" fill="#78efd2"/><rect x="295.70" y="806.40" width="18.35" height="5.795" fill="#78efd2"/><rect x="295.70" y="811.89" width="18.35" height="5.795" fill="#c0f6e8"/><rect x="295.70" y="817.39" width="18.35" height="5.795" fill="#c0f6e8"/><rect x="314.05" y="366.80" width="18.35" height="5.795" fill="#f6ebf6"/><rect x="314.05" y="372.30" width="18.35" height="5.795" fill="#fafcfc"/><rect x="314.05" y="377.79" width="18.35" height="5.795" fill="#eed3ee"/><rect x="314.05" y="383.29" width="18.35" height="5.795" fill="#eed3ee"/><rect x="314.05" y="388.78" width="18.35" height="5.795" fill="#eed3ee"/><rect x="314.05" y="394.28" width="18.35" height="5.795" fill="#f6ebf6"/><rect x="314.05" y="399.77" width="18.35" height="5.795" fill="#f6ebf6"/><rect x="314.05" y="405.26" width="18.35" height="5.795" fill="#f6ebf6"/><rect x="314.05" y="410.76" width="18.35" height="5.795" fill="#dffaf3"/><rect x="314.05" y="416.25" width="18.35" height="5.795" fill="#dffaf3"/><rect x="314.05" y="421.75" width="18.35" height="5.795" fill="#dffaf3"/><rect x="314.05" y="427.25" width="18.35" height="5.795" fill="#dffaf3"/><rect x="314.05" y="432.74" width="18.35" height="5.795" fill="#dffaf3"/><rect x="314.05" y="438.24" width="18.35" height="5.795" fill="#dffaf3"/><rect x="314.05" y="443.73" width="18.35" height="5.795" fill="#dea6de"/><rect x="314.05" y="449.23" width="18.35" height="5.795" fill="#dea6de"/><rect x="314.05" y="454.72" width="18.35" height="5.795" fill="#eed3ee"/><rect x="314.05" y="460.22" width="18.35" height="5.795" fill="#eed3ee"/><rect x="314.05" y="465.71" width="18.35" height="5.795" fill="#dea6de"/><rect x="314.05" y="471.21" width="18.35" height="5.795" fill="#eed3ee"/><rect x="314.05" y="476.70" width="18.35" height="5.795" fill="#eed3ee"/><rect x="314.05" y="482.19" width="18.35" height="5.795" fill="#dea6de"/><rect x="314.05" y="487.69" width="18.35" height="5.795" fill="#f6ebf6"/><rect x="314.05" y="493.19" width="18.35" height="5.795" fill="#dea6de"/><rect x="314.05" y="498.68" width="18.35" height="5.795" fill="#f6ebf6"/><rect x="314.05" y="504.18" width="18.35" height="5.795" fill="#dea6de"/><rect x="314.05" y="509.67" width="18.35" height="5.795" fill="#cd76cd"/><rect x="314.05" y="515.16" width="18.35" height="5.795" fill="#cd76cd"/><rect x="314.05" y="520.66" width="18.35" height="5.795" fill="#dea6de"/><rect x="314.05" y="526.15" width="18.35" height="5.795" fill="#eed3ee"/><rect x="314.05" y="531.65" width="18.35" height="5.795" fill="#f6ebf6"/><rect x="314.05" y="537.14" width="18.35" height="5.795" fill="#dea6de"/><rect x="314.05" y="542.64" width="18.35" height="5.795" fill="#dea6de"/><rect x="314.05" y="548.13" width="18.35" height="5.795" fill="#fafcfc"/><rect x="314.05" y="553.63" width="18.35" height="5.795" fill="#eed3ee"/><rect x="314.05" y="559.12" width="18.35" height="5.795" fill="#f6ebf6"/><rect x="314.05" y="564.62" width="18.35" height="5.795" fill="#eed3ee"/><rect x="314.05" y="570.12" width="18.35" height="5.795" fill="#dea6de"/><rect x="314.05" y="575.61" width="18.35" height="5.795" fill="#f6ebf6"/><rect x="314.05" y="581.11" width="18.35" height="5.795" fill="#f6ebf6"/><rect x="314.05" y="586.60" width="18.35" height="5.795" fill="#dea6de"/><rect x="314.05" y="592.10" width="18.35" height="5.795" fill="#dea6de"/><rect x="314.05" y="597.59" width="18.35" height="5.795" fill="#eed3ee"/><rect x="314.05" y="603.09" width="18.35" height="5.795" fill="#eed3ee"/><rect x="314.05" y="608.58" width="18.35" height="5.795" fill="#eed3ee"/><rect x="314.05" y="614.08" width="18.35" height="5.795" fill="#cd76cd"/><rect x="314.05" y="619.57" width="18.35" height="5.795" fill="#cd76cd"/><rect x="314.05" y="625.07" width="18.35" height="5.795" fill="#cd76cd"/><rect x="314.05" y="630.56" width="18.35" height="5.795" fill="#cd76cd"/><rect x="314.05" y="636.06" width="18.35" height="5.795" fill="#f6ebf6"/><rect x="314.05" y="641.55" width="18.35" height="5.795" fill="#dffaf3"/><rect x="314.05" y="647.05" width="18.35" height="5.795" fill="#eed3ee"/><rect x="314.05" y="652.54" width="18.35" height="5.795" fill="#fafcfc"/><rect x="314.05" y="658.04" width="18.35" height="5.795" fill="#dea6de"/><rect x="314.05" y="663.53" width="18.35" height="5.795" fill="#78efd2"/><rect x="314.05" y="669.03" width="18.35" height="5.795" fill="#c0f6e8"/><rect x="314.05" y="674.52" width="18.35" height="5.795" fill="#c0f6e8"/><rect x="314.05" y="680.02" width="18.35" height="5.795" fill="#78efd2"/><rect x="314.05" y="685.51" width="18.35" height="5.795" fill="#c0f6e8"/><rect x="314.05" y="691.00" width="18.35" height="5.795" fill="#dffaf3"/><rect x="314.05" y="696.50" width="18.35" height="5.795" fill="#dffaf3"/><rect x="314.05" y="702.00" width="18.35" height="5.795" fill="#78efd2"/><rect x="314.05" y="707.49" width="18.35" height="5.795" fill="#78efd2"/><rect x="314.05" y="712.99" width="18.35" height="5.795" fill="#78efd2"/><rect x="314.05" y="718.48" width="18.35" height="5.795" fill="#c0f6e8"/><rect x="314.05" y="723.98" width="18.35" height="5.795" fill="#c0f6e8"/><rect x="314.05" y="729.47" width="18.35" height="5.795" fill="#c0f6e8"/><rect x="314.05" y="734.97" width="18.35" height="5.795" fill="#c0f6e8"/><rect x="314.05" y="740.46" width="18.35" height="5.795" fill="#c0f6e8"/><rect x="314.05" y="745.96" width="18.35" height="5.795" fill="#c0f6e8"/><rect x="314.05" y="751.45" width="18.35" height="5.795" fill="#c0f6e8"/><rect x="314.05" y="756.94" width="18.35" height="5.795" fill="#c0f6e8"/><rect x="314.05" y="762.44" width="18.35" height="5.795" fill="#78efd2"/><rect x="314.05" y="767.93" width="18.35" height="5.795" fill="#78efd2"/><rect x="314.05" y="773.43" width="18.35" height="5.795" fill="#97f1dc"/><rect x="314.05" y="778.92" width="18.35" height="5.795" fill="#97f1dc"/><rect x="314.05" y="784.42" width="18.35" height="5.795" fill="#78efd2"/><rect x="314.05" y="789.91" width="18.35" height="5.795" fill="#97f1dc"/><rect x="314.05" y="795.41" width="18.35" height="5.795" fill="#78efd2"/><rect x="314.05" y="800.90" width="18.35" height="5.795" fill="#78efd2"/><rect x="314.05" y="806.40" width="18.35" height="5.795" fill="#78efd2"/><rect x="314.05" y="811.89" width="18.35" height="5.795" fill="#78efd2"/><rect x="314.05" y="817.39" width="18.35" height="5.795" fill="#dffaf3"/><rect x="332.40" y="366.80" width="18.35" height="5.795" fill="#78efd2"/><rect x="332.40" y="372.30" width="18.35" height="5.795" fill="#78efd2"/><rect x="332.40" y="377.79" width="18.35" height="5.795" fill="#97f1dc"/><rect x="332.40" y="383.29" width="18.35" height="5.795" fill="#97f1dc"/><rect x="332.40" y="388.78" width="18.35" height="5.795" fill="#97f1dc"/><rect x="332.40" y="394.28" width="18.35" height="5.795" fill="#78efd2"/><rect x="332.40" y="399.77" width="18.35" height="5.795" fill="#97f1dc"/><rect x="332.40" y="405.26" width="18.35" height="5.795" fill="#78efd2"/><rect x="332.40" y="410.76" width="18.35" height="5.795" fill="#78efd2"/><rect x="332.40" y="416.25" width="18.35" height="5.795" fill="#78efd2"/><rect x="332.40" y="421.75" width="18.35" height="5.795" fill="#78efd2"/><rect x="332.40" y="427.25" width="18.35" height="5.795" fill="#78efd2"/><rect x="332.40" y="432.74" width="18.35" height="5.795" fill="#78efd2"/><rect x="332.40" y="438.24" width="18.35" height="5.795" fill="#78efd2"/><rect x="332.40" y="443.73" width="18.35" height="5.795" fill="#fafcfc"/><rect x="332.40" y="449.23" width="18.35" height="5.795" fill="#fafcfc"/><rect x="332.40" y="454.72" width="18.35" height="5.795" fill="#eed3ee"/><rect x="332.40" y="460.22" width="18.35" height="5.795" fill="#eed3ee"/><rect x="332.40" y="465.71" width="18.35" height="5.795" fill="#eed3ee"/><rect x="332.40" y="471.21" width="18.35" height="5.795" fill="#eed3ee"/><rect x="332.40" y="476.70" width="18.35" height="5.795" fill="#dea6de"/><rect x="332.40" y="482.19" width="18.35" height="5.795" fill="#f6ebf6"/><rect x="332.40" y="487.69" width="18.35" height="5.795" fill="#fafcfc"/><rect x="332.40" y="493.19" width="18.35" height="5.795" fill="#fafcfc"/><rect x="332.40" y="498.68" width="18.35" height="5.795" fill="#f6ebf6"/><rect x="332.40" y="504.18" width="18.35" height="5.795" fill="#dffaf3"/><rect x="332.40" y="509.67" width="18.35" height="5.795" fill="#dffaf3"/><rect x="332.40" y="515.16" width="18.35" height="5.795" fill="#dffaf3"/><rect x="332.40" y="520.66" width="18.35" height="5.795" fill="#c0f6e8"/><rect x="332.40" y="526.15" width="18.35" height="5.795" fill="#dffaf3"/><rect x="332.40" y="531.65" width="18.35" height="5.795" fill="#dffaf3"/><rect x="332.40" y="537.14" width="18.35" height="5.795" fill="#f6ebf6"/><rect x="332.40" y="542.64" width="18.35" height="5.795" fill="#f6ebf6"/><rect x="332.40" y="548.13" width="18.35" height="5.795" fill="#97f1dc"/><rect x="332.40" y="553.63" width="18.35" height="5.795" fill="#97f1dc"/><rect x="332.40" y="559.12" width="18.35" height="5.795" fill="#c0f6e8"/><rect x="332.40" y="564.62" width="18.35" height="5.795" fill="#c0f6e8"/><rect x="332.40" y="570.12" width="18.35" height="5.795" fill="#c0f6e8"/><rect x="332.40" y="575.61" width="18.35" height="5.795" fill="#97f1dc"/><rect x="332.40" y="581.11" width="18.35" height="5.795" fill="#c0f6e8"/><rect x="332.40" y="586.60" width="18.35" height="5.795" fill="#c0f6e8"/><rect x="332.40" y="592.10" width="18.35" height="5.795" fill="#c0f6e8"/><rect x="332.40" y="597.59" width="18.35" height="5.795" fill="#c0f6e8"/><rect x="332.40" y="603.09" width="18.35" height="5.795" fill="#c0f6e8"/><rect x="332.40" y="608.58" width="18.35" height="5.795" fill="#c0f6e8"/><rect x="332.40" y="614.08" width="18.35" height="5.795" fill="#c0f6e8"/><rect x="332.40" y="619.57" width="18.35" height="5.795" fill="#c0f6e8"/><rect x="332.40" y="625.07" width="18.35" height="5.795" fill="#97f1dc"/><rect x="332.40" y="630.56" width="18.35" height="5.795" fill="#dea6de"/><rect x="332.40" y="636.06" width="18.35" height="5.795" fill="#dea6de"/><rect x="332.40" y="641.55" width="18.35" height="5.795" fill="#dea6de"/><rect x="332.40" y="647.05" width="18.35" height="5.795" fill="#dea6de"/><rect x="332.40" y="652.54" width="18.35" height="5.795" fill="#dea6de"/><rect x="332.40" y="658.04" width="18.35" height="5.795" fill="#dea6de"/><rect x="332.40" y="663.53" width="18.35" height="5.795" fill="#f6ebf6"/><rect x="332.40" y="669.03" width="18.35" height="5.795" fill="#f6ebf6"/><rect x="332.40" y="674.52" width="18.35" height="5.795" fill="#f6ebf6"/><rect x="332.40" y="680.02" width="18.35" height="5.795" fill="#fafcfc"/><rect x="332.40" y="685.51" width="18.35" height="5.795" fill="#dffaf3"/><rect x="332.40" y="691.00" width="18.35" height="5.795" fill="#f6ebf6"/><rect x="332.40" y="696.50" width="18.35" height="5.795" fill="#f6ebf6"/><rect x="332.40" y="702.00" width="18.35" height="5.795" fill="#f6ebf6"/><rect x="332.40" y="707.49" width="18.35" height="5.795" fill="#f6ebf6"/><rect x="332.40" y="712.99" width="18.35" height="5.795" fill="#f6ebf6"/><rect x="332.40" y="718.48" width="18.35" height="5.795" fill="#f6ebf6"/><rect x="332.40" y="723.98" width="18.35" height="5.795" fill="#fafcfc"/><rect x="332.40" y="729.47" width="18.35" height="5.795" fill="#f6ebf6"/><rect x="332.40" y="734.97" width="18.35" height="5.795" fill="#f6ebf6"/><rect x="332.40" y="740.46" width="18.35" height="5.795" fill="#fafcfc"/><rect x="332.40" y="745.96" width="18.35" height="5.795" fill="#dea6de"/><rect x="332.40" y="751.45" width="18.35" height="5.795" fill="#eed3ee"/><rect x="332.40" y="756.94" width="18.35" height="5.795" fill="#dea6de"/><rect x="332.40" y="762.44" width="18.35" height="5.795" fill="#cd76cd"/><rect x="332.40" y="767.93" width="18.35" height="5.795" fill="#cd76cd"/><rect x="332.40" y="773.43" width="18.35" height="5.795" fill="#cd76cd"/><rect x="332.40" y="778.92" width="18.35" height="5.795" fill="#cd76cd"/><rect x="332.40" y="784.42" width="18.35" height="5.795" fill="#dea6de"/><rect x="332.40" y="789.91" width="18.35" height="5.795" fill="#cd76cd"/><rect x="332.40" y="795.41" width="18.35" height="5.795" fill="#cd76cd"/><rect x="332.40" y="800.90" width="18.35" height="5.795" fill="#cd76cd"/><rect x="332.40" y="806.40" width="18.35" height="5.795" fill="#cd76cd"/><rect x="332.40" y="811.89" width="18.35" height="5.795" fill="#cd76cd"/><rect x="332.40" y="817.39" width="18.35" height="5.795" fill="#cd76cd"/><rect x="350.75" y="366.80" width="18.35" height="5.795" fill="#78efd2"/><rect x="350.75" y="372.30" width="18.35" height="5.795" fill="#78efd2"/><rect x="350.75" y="377.79" width="18.35" height="5.795" fill="#78efd2"/><rect x="350.75" y="383.29" width="18.35" height="5.795" fill="#78efd2"/><rect x="350.75" y="388.78" width="18.35" height="5.795" fill="#78efd2"/><rect x="350.75" y="394.28" width="18.35" height="5.795" fill="#78efd2"/><rect x="350.75" y="399.77" width="18.35" height="5.795" fill="#78efd2"/><rect x="350.75" y="405.26" width="18.35" height="5.795" fill="#78efd2"/><rect x="350.75" y="410.76" width="18.35" height="5.795" fill="#78efd2"/><rect x="350.75" y="416.25" width="18.35" height="5.795" fill="#78efd2"/><rect x="350.75" y="421.75" width="18.35" height="5.795" fill="#78efd2"/><rect x="350.75" y="427.25" width="18.35" height="5.795" fill="#78efd2"/><rect x="350.75" y="432.74" width="18.35" height="5.795" fill="#97f1dc"/><rect x="350.75" y="438.24" width="18.35" height="5.795" fill="#78efd2"/><rect x="350.75" y="443.73" width="18.35" height="5.795" fill="#c0f6e8"/><rect x="350.75" y="449.23" width="18.35" height="5.795" fill="#c0f6e8"/><rect x="350.75" y="454.72" width="18.35" height="5.795" fill="#dffaf3"/><rect x="350.75" y="460.22" width="18.35" height="5.795" fill="#dffaf3"/><rect x="350.75" y="465.71" width="18.35" height="5.795" fill="#dffaf3"/><rect x="350.75" y="471.21" width="18.35" height="5.795" fill="#dffaf3"/><rect x="350.75" y="476.70" width="18.35" height="5.795" fill="#dffaf3"/><rect x="350.75" y="482.19" width="18.35" height="5.795" fill="#c0f6e8"/><rect x="350.75" y="487.69" width="18.35" height="5.795" fill="#c0f6e8"/><rect x="350.75" y="493.19" width="18.35" height="5.795" fill="#c0f6e8"/><rect x="350.75" y="498.68" width="18.35" height="5.795" fill="#c0f6e8"/><rect x="350.75" y="504.18" width="18.35" height="5.795" fill="#c0f6e8"/><rect x="350.75" y="509.67" width="18.35" height="5.795" fill="#c0f6e8"/><rect x="350.75" y="515.16" width="18.35" height="5.795" fill="#97f1dc"/><rect x="350.75" y="520.66" width="18.35" height="5.795" fill="#97f1dc"/><rect x="350.75" y="526.15" width="18.35" height="5.795" fill="#c0f6e8"/><rect x="350.75" y="531.65" width="18.35" height="5.795" fill="#c0f6e8"/><rect x="350.75" y="537.14" width="18.35" height="5.795" fill="#c0f6e8"/><rect x="350.75" y="542.64" width="18.35" height="5.795" fill="#c0f6e8"/><rect x="350.75" y="548.13" width="18.35" height="5.795" fill="#97f1dc"/><rect x="350.75" y="553.63" width="18.35" height="5.795" fill="#97f1dc"/><rect x="350.75" y="559.12" width="18.35" height="5.795" fill="#97f1dc"/><rect x="350.75" y="564.62" width="18.35" height="5.795" fill="#97f1dc"/><rect x="350.75" y="570.12" width="18.35" height="5.795" fill="#97f1dc"/><rect x="350.75" y="575.61" width="18.35" height="5.795" fill="#78efd2"/><rect x="350.75" y="581.11" width="18.35" height="5.795" fill="#97f1dc"/><rect x="350.75" y="586.60" width="18.35" height="5.795" fill="#97f1dc"/><rect x="350.75" y="592.10" width="18.35" height="5.795" fill="#c0f6e8"/><rect x="350.75" y="597.59" width="18.35" height="5.795" fill="#97f1dc"/><rect x="350.75" y="603.09" width="18.35" height="5.795" fill="#97f1dc"/><rect x="350.75" y="608.58" width="18.35" height="5.795" fill="#97f1dc"/><rect x="350.75" y="614.08" width="18.35" height="5.795" fill="#97f1dc"/><rect x="350.75" y="619.57" width="18.35" height="5.795" fill="#c0f6e8"/><rect x="350.75" y="625.07" width="18.35" height="5.795" fill="#97f1dc"/><rect x="350.75" y="630.56" width="18.35" height="5.795" fill="#dffaf3"/><rect x="350.75" y="636.06" width="18.35" height="5.795" fill="#dffaf3"/><rect x="350.75" y="641.55" width="18.35" height="5.795" fill="#f6ebf6"/><rect x="350.75" y="647.05" width="18.35" height="5.795" fill="#f6ebf6"/><rect x="350.75" y="652.54" width="18.35" height="5.795" fill="#f6ebf6"/><rect x="350.75" y="658.04" width="18.35" height="5.795" fill="#dffaf3"/><rect x="350.75" y="663.53" width="18.35" height="5.795" fill="#dffaf3"/><rect x="350.75" y="669.03" width="18.35" height="5.795" fill="#dffaf3"/><rect x="350.75" y="674.52" width="18.35" height="5.795" fill="#dffaf3"/><rect x="350.75" y="680.02" width="18.35" height="5.795" fill="#c0f6e8"/><rect x="350.75" y="685.51" width="18.35" height="5.795" fill="#c0f6e8"/><rect x="350.75" y="691.00" width="18.35" height="5.795" fill="#c0f6e8"/><rect x="350.75" y="696.50" width="18.35" height="5.795" fill="#c0f6e8"/><rect x="350.75" y="702.00" width="18.35" height="5.795" fill="#fafcfc"/><rect x="350.75" y="707.49" width="18.35" height="5.795" fill="#dffaf3"/><rect x="350.75" y="712.99" width="18.35" height="5.795" fill="#fafcfc"/><rect x="350.75" y="718.48" width="18.35" height="5.795" fill="#f6ebf6"/><rect x="350.75" y="723.98" width="18.35" height="5.795" fill="#dffaf3"/><rect x="350.75" y="729.47" width="18.35" height="5.795" fill="#dffaf3"/><rect x="350.75" y="734.97" width="18.35" height="5.795" fill="#dffaf3"/><rect x="350.75" y="740.46" width="18.35" height="5.795" fill="#eed3ee"/><rect x="350.75" y="745.96" width="18.35" height="5.795" fill="#f6ebf6"/><rect x="350.75" y="751.45" width="18.35" height="5.795" fill="#fafcfc"/><rect x="350.75" y="756.94" width="18.35" height="5.795" fill="#f6ebf6"/><rect x="350.75" y="762.44" width="18.35" height="5.795" fill="#cd76cd"/><rect x="350.75" y="767.93" width="18.35" height="5.795" fill="#cd76cd"/><rect x="350.75" y="773.43" width="18.35" height="5.795" fill="#cd76cd"/><rect x="350.75" y="778.92" width="18.35" height="5.795" fill="#cd76cd"/><rect x="350.75" y="784.42" width="18.35" height="5.795" fill="#eed3ee"/><rect x="350.75" y="789.91" width="18.35" height="5.795" fill="#eed3ee"/><rect x="350.75" y="795.41" width="18.35" height="5.795" fill="#dea6de"/><rect x="350.75" y="800.90" width="18.35" height="5.795" fill="#eed3ee"/><rect x="350.75" y="806.40" width="18.35" height="5.795" fill="#eed3ee"/><rect x="350.75" y="811.89" width="18.35" height="5.795" fill="#cd76cd"/><rect x="350.75" y="817.39" width="18.35" height="5.795" fill="#cd76cd"/><rect x="369.10" y="366.80" width="18.35" height="5.795" fill="#78efd2"/><rect x="369.10" y="372.30" width="18.35" height="5.795" fill="#78efd2"/><rect x="369.10" y="377.79" width="18.35" height="5.795" fill="#78efd2"/><rect x="369.10" y="383.29" width="18.35" height="5.795" fill="#78efd2"/><rect x="369.10" y="388.78" width="18.35" height="5.795" fill="#78efd2"/><rect x="369.10" y="394.28" width="18.35" height="5.795" fill="#78efd2"/><rect x="369.10" y="399.77" width="18.35" height="5.795" fill="#78efd2"/><rect x="369.10" y="405.26" width="18.35" height="5.795" fill="#78efd2"/><rect x="369.10" y="410.76" width="18.35" height="5.795" fill="#78efd2"/><rect x="369.10" y="416.25" width="18.35" height="5.795" fill="#78efd2"/><rect x="369.10" y="421.75" width="18.35" height="5.795" fill="#78efd2"/><rect x="369.10" y="427.25" width="18.35" height="5.795" fill="#78efd2"/><rect x="369.10" y="432.74" width="18.35" height="5.795" fill="#78efd2"/><rect x="369.10" y="438.24" width="18.35" height="5.795" fill="#78efd2"/><rect x="369.10" y="443.73" width="18.35" height="5.795" fill="#78efd2"/><rect x="369.10" y="449.23" width="18.35" height="5.795" fill="#78efd2"/><rect x="369.10" y="454.72" width="18.35" height="5.795" fill="#78efd2"/><rect x="369.10" y="460.22" width="18.35" height="5.795" fill="#78efd2"/><rect x="369.10" y="465.71" width="18.35" height="5.795" fill="#78efd2"/><rect x="369.10" y="471.21" width="18.35" height="5.795" fill="#78efd2"/><rect x="369.10" y="476.70" width="18.35" height="5.795" fill="#78efd2"/><rect x="369.10" y="482.19" width="18.35" height="5.795" fill="#78efd2"/><rect x="369.10" y="487.69" width="18.35" height="5.795" fill="#78efd2"/><rect x="369.10" y="493.19" width="18.35" height="5.795" fill="#78efd2"/><rect x="369.10" y="498.68" width="18.35" height="5.795" fill="#78efd2"/><rect x="369.10" y="504.18" width="18.35" height="5.795" fill="#78efd2"/><rect x="369.10" y="509.67" width="18.35" height="5.795" fill="#78efd2"/><rect x="369.10" y="515.16" width="18.35" height="5.795" fill="#78efd2"/><rect x="369.10" y="520.66" width="18.35" height="5.795" fill="#78efd2"/><rect x="369.10" y="526.15" width="18.35" height="5.795" fill="#78efd2"/><rect x="369.10" y="531.65" width="18.35" height="5.795" fill="#78efd2"/><rect x="369.10" y="537.14" width="18.35" height="5.795" fill="#78efd2"/><rect x="369.10" y="542.64" width="18.35" height="5.795" fill="#78efd2"/><rect x="369.10" y="548.13" width="18.35" height="5.795" fill="#78efd2"/><rect x="369.10" y="553.63" width="18.35" height="5.795" fill="#78efd2"/><rect x="369.10" y="559.12" width="18.35" height="5.795" fill="#78efd2"/><rect x="369.10" y="564.62" width="18.35" height="5.795" fill="#78efd2"/><rect x="369.10" y="570.12" width="18.35" height="5.795" fill="#78efd2"/><rect x="369.10" y="575.61" width="18.35" height="5.795" fill="#78efd2"/><rect x="369.10" y="581.11" width="18.35" height="5.795" fill="#78efd2"/><rect x="369.10" y="586.60" width="18.35" height="5.795" fill="#78efd2"/><rect x="369.10" y="592.10" width="18.35" height="5.795" fill="#78efd2"/><rect x="369.10" y="597.59" width="18.35" height="5.795" fill="#78efd2"/><rect x="369.10" y="603.09" width="18.35" height="5.795" fill="#78efd2"/><rect x="369.10" y="608.58" width="18.35" height="5.795" fill="#78efd2"/><rect x="369.10" y="614.08" width="18.35" height="5.795" fill="#78efd2"/><rect x="369.10" y="619.57" width="18.35" height="5.795" fill="#78efd2"/><rect x="369.10" y="625.07" width="18.35" height="5.795" fill="#78efd2"/><rect x="369.10" y="630.56" width="18.35" height="5.795" fill="#78efd2"/><rect x="369.10" y="636.06" width="18.35" height="5.795" fill="#78efd2"/><rect x="369.10" y="641.55" width="18.35" height="5.795" fill="#78efd2"/><rect x="369.10" y="647.05" width="18.35" height="5.795" fill="#78efd2"/><rect x="369.10" y="652.54" width="18.35" height="5.795" fill="#78efd2"/><rect x="369.10" y="658.04" width="18.35" height="5.795" fill="#78efd2"/><rect x="369.10" y="663.53" width="18.35" height="5.795" fill="#78efd2"/><rect x="369.10" y="669.03" width="18.35" height="5.795" fill="#78efd2"/><rect x="369.10" y="674.52" width="18.35" height="5.795" fill="#78efd2"/><rect x="369.10" y="680.02" width="18.35" height="5.795" fill="#78efd2"/><rect x="369.10" y="685.51" width="18.35" height="5.795" fill="#78efd2"/><rect x="369.10" y="691.00" width="18.35" height="5.795" fill="#78efd2"/><rect x="369.10" y="696.50" width="18.35" height="5.795" fill="#78efd2"/><rect x="369.10" y="702.00" width="18.35" height="5.795" fill="#dffaf3"/><rect x="369.10" y="707.49" width="18.35" height="5.795" fill="#dffaf3"/><rect x="369.10" y="712.99" width="18.35" height="5.795" fill="#fafcfc"/><rect x="369.10" y="718.48" width="18.35" height="5.795" fill="#eed3ee"/><rect x="369.10" y="723.98" width="18.35" height="5.795" fill="#fafcfc"/><rect x="369.10" y="729.47" width="18.35" height="5.795" fill="#c0f6e8"/><rect x="369.10" y="734.97" width="18.35" height="5.795" fill="#c0f6e8"/><rect x="369.10" y="740.46" width="18.35" height="5.795" fill="#cd76cd"/><rect x="369.10" y="745.96" width="18.35" height="5.795" fill="#78efd2"/><rect x="369.10" y="751.45" width="18.35" height="5.795" fill="#78efd2"/><rect x="369.10" y="756.94" width="18.35" height="5.795" fill="#78efd2"/><rect x="369.10" y="762.44" width="18.35" height="5.795" fill="#c0f6e8"/><rect x="369.10" y="767.93" width="18.35" height="5.795" fill="#97f1dc"/><rect x="369.10" y="773.43" width="18.35" height="5.795" fill="#c0f6e8"/><rect x="369.10" y="778.92" width="18.35" height="5.795" fill="#c0f6e8"/><rect x="369.10" y="784.42" width="18.35" height="5.795" fill="#97f1dc"/><rect x="369.10" y="789.91" width="18.35" height="5.795" fill="#97f1dc"/><rect x="369.10" y="795.41" width="18.35" height="5.795" fill="#97f1dc"/><rect x="369.10" y="800.90" width="18.35" height="5.795" fill="#78efd2"/><rect x="369.10" y="806.40" width="18.35" height="5.795" fill="#78efd2"/><rect x="369.10" y="811.89" width="18.35" height="5.795" fill="#78efd2"/><rect x="369.10" y="817.39" width="18.35" height="5.795" fill="#97f1dc"/><rect x="387.45" y="366.80" width="18.35" height="5.795" fill="#f6ebf6"/><rect x="387.45" y="372.30" width="18.35" height="5.795" fill="#eed3ee"/><rect x="387.45" y="377.79" width="18.35" height="5.795" fill="#fafcfc"/><rect x="387.45" y="383.29" width="18.35" height="5.795" fill="#fafcfc"/><rect x="387.45" y="388.78" width="18.35" height="5.795" fill="#f6ebf6"/><rect x="387.45" y="394.28" width="18.35" height="5.795" fill="#f6ebf6"/><rect x="387.45" y="399.77" width="18.35" height="5.795" fill="#fafcfc"/><rect x="387.45" y="405.26" width="18.35" height="5.795" fill="#f6ebf6"/><rect x="387.45" y="410.76" width="18.35" height="5.795" fill="#eed3ee"/><rect x="387.45" y="416.25" width="18.35" height="5.795" fill="#dea6de"/><rect x="387.45" y="421.75" width="18.35" height="5.795" fill="#eed3ee"/><rect x="387.45" y="427.25" width="18.35" height="5.795" fill="#dea6de"/><rect x="387.45" y="432.74" width="18.35" height="5.795" fill="#dea6de"/><rect x="387.45" y="438.24" width="18.35" height="5.795" fill="#dea6de"/><rect x="387.45" y="443.73" width="18.35" height="5.795" fill="#78efd2"/><rect x="387.45" y="449.23" width="18.35" height="5.795" fill="#fafcfc"/><rect x="387.45" y="454.72" width="18.35" height="5.795" fill="#f6ebf6"/><rect x="387.45" y="460.22" width="18.35" height="5.795" fill="#f6ebf6"/><rect x="387.45" y="465.71" width="18.35" height="5.795" fill="#f6ebf6"/><rect x="387.45" y="471.21" width="18.35" height="5.795" fill="#f6ebf6"/><rect x="387.45" y="476.70" width="18.35" height="5.795" fill="#cd76cd"/><rect x="387.45" y="482.19" width="18.35" height="5.795" fill="#eed3ee"/><rect x="387.45" y="487.69" width="18.35" height="5.795" fill="#fafcfc"/><rect x="387.45" y="493.19" width="18.35" height="5.795" fill="#eed3ee"/><rect x="387.45" y="498.68" width="18.35" height="5.795" fill="#dea6de"/><rect x="387.45" y="504.18" width="18.35" height="5.795" fill="#f6ebf6"/><rect x="387.45" y="509.67" width="18.35" height="5.795" fill="#f6ebf6"/><rect x="387.45" y="515.16" width="18.35" height="5.795" fill="#eed3ee"/><rect x="387.45" y="520.66" width="18.35" height="5.795" fill="#eed3ee"/><rect x="387.45" y="526.15" width="18.35" height="5.795" fill="#f6ebf6"/><rect x="387.45" y="531.65" width="18.35" height="5.795" fill="#dffaf3"/><rect x="387.45" y="537.14" width="18.35" height="5.795" fill="#f6ebf6"/><rect x="387.45" y="542.64" width="18.35" height="5.795" fill="#dea6de"/><rect x="387.45" y="548.13" width="18.35" height="5.795" fill="#f6ebf6"/><rect x="387.45" y="553.63" width="18.35" height="5.795" fill="#eed3ee"/><rect x="387.45" y="559.12" width="18.35" height="5.795" fill="#dffaf3"/><rect x="387.45" y="564.62" width="18.35" height="5.795" fill="#fafcfc"/><rect x="387.45" y="570.12" width="18.35" height="5.795" fill="#dffaf3"/><rect x="387.45" y="575.61" width="18.35" height="5.795" fill="#eed3ee"/><rect x="387.45" y="581.11" width="18.35" height="5.795" fill="#f6ebf6"/><rect x="387.45" y="586.60" width="18.35" height="5.795" fill="#f6ebf6"/><rect x="387.45" y="592.10" width="18.35" height="5.795" fill="#fafcfc"/><rect x="387.45" y="597.59" width="18.35" height="5.795" fill="#eed3ee"/><rect x="387.45" y="603.09" width="18.35" height="5.795" fill="#fafcfc"/><rect x="387.45" y="608.58" width="18.35" height="5.795" fill="#dffaf3"/><rect x="387.45" y="614.08" width="18.35" height="5.795" fill="#f6ebf6"/><rect x="387.45" y="619.57" width="18.35" height="5.795" fill="#f6ebf6"/><rect x="387.45" y="625.07" width="18.35" height="5.795" fill="#fafcfc"/><rect x="387.45" y="630.56" width="18.35" height="5.795" fill="#dea6de"/><rect x="387.45" y="636.06" width="18.35" height="5.795" fill="#78efd2"/><rect x="387.45" y="641.55" width="18.35" height="5.795" fill="#78efd2"/><rect x="387.45" y="647.05" width="18.35" height="5.795" fill="#f6ebf6"/><rect x="387.45" y="652.54" width="18.35" height="5.795" fill="#dffaf3"/><rect x="387.45" y="658.04" width="18.35" height="5.795" fill="#cd76cd"/><rect x="387.45" y="663.53" width="18.35" height="5.795" fill="#78efd2"/><rect x="387.45" y="669.03" width="18.35" height="5.795" fill="#fafcfc"/><rect x="387.45" y="674.52" width="18.35" height="5.795" fill="#78efd2"/><rect x="387.45" y="680.02" width="18.35" height="5.795" fill="#dffaf3"/><rect x="387.45" y="685.51" width="18.35" height="5.795" fill="#dffaf3"/><rect x="387.45" y="691.00" width="18.35" height="5.795" fill="#dffaf3"/><rect x="387.45" y="696.50" width="18.35" height="5.795" fill="#fafcfc"/><rect x="387.45" y="702.00" width="18.35" height="5.795" fill="#dffaf3"/><rect x="387.45" y="707.49" width="18.35" height="5.795" fill="#78efd2"/><rect x="387.45" y="712.99" width="18.35" height="5.795" fill="#c0f6e8"/><rect x="387.45" y="718.48" width="18.35" height="5.795" fill="#dffaf3"/><rect x="387.45" y="723.98" width="18.35" height="5.795" fill="#dffaf3"/><rect x="387.45" y="729.47" width="18.35" height="5.795" fill="#dffaf3"/><rect x="387.45" y="734.97" width="18.35" height="5.795" fill="#f6ebf6"/><rect x="387.45" y="740.46" width="18.35" height="5.795" fill="#c0f6e8"/><rect x="387.45" y="745.96" width="18.35" height="5.795" fill="#c0f6e8"/><rect x="387.45" y="751.45" width="18.35" height="5.795" fill="#dea6de"/><rect x="387.45" y="756.94" width="18.35" height="5.795" fill="#f6ebf6"/><rect x="387.45" y="762.44" width="18.35" height="5.795" fill="#78efd2"/><rect x="387.45" y="767.93" width="18.35" height="5.795" fill="#78efd2"/><rect x="387.45" y="773.43" width="18.35" height="5.795" fill="#dffaf3"/><rect x="387.45" y="778.92" width="18.35" height="5.795" fill="#dffaf3"/><rect x="387.45" y="784.42" width="18.35" height="5.795" fill="#fafcfc"/><rect x="387.45" y="789.91" width="18.35" height="5.795" fill="#dffaf3"/><rect x="387.45" y="795.41" width="18.35" height="5.795" fill="#eed3ee"/><rect x="387.45" y="800.90" width="18.35" height="5.795" fill="#78efd2"/><rect x="387.45" y="806.40" width="18.35" height="5.795" fill="#cd76cd"/><rect x="387.45" y="811.89" width="18.35" height="5.795" fill="#dea6de"/><rect x="387.45" y="817.39" width="18.35" height="5.795" fill="#f6ebf6"/><rect x="405.80" y="366.80" width="18.35" height="5.795" fill="#dffaf3"/><rect x="405.80" y="372.30" width="18.35" height="5.795" fill="#dffaf3"/><rect x="405.80" y="377.79" width="18.35" height="5.795" fill="#fafcfc"/><rect x="405.80" y="383.29" width="18.35" height="5.795" fill="#fafcfc"/><rect x="405.80" y="388.78" width="18.35" height="5.795" fill="#dffaf3"/><rect x="405.80" y="394.28" width="18.35" height="5.795" fill="#dffaf3"/><rect x="405.80" y="399.77" width="18.35" height="5.795" fill="#fafcfc"/><rect x="405.80" y="405.26" width="18.35" height="5.795" fill="#dffaf3"/><rect x="405.80" y="410.76" width="18.35" height="5.795" fill="#dffaf3"/><rect x="405.80" y="416.25" width="18.35" height="5.795" fill="#dffaf3"/><rect x="405.80" y="421.75" width="18.35" height="5.795" fill="#dffaf3"/><rect x="405.80" y="427.25" width="18.35" height="5.795" fill="#dffaf3"/><rect x="405.80" y="432.74" width="18.35" height="5.795" fill="#dffaf3"/><rect x="405.80" y="438.24" width="18.35" height="5.795" fill="#dffaf3"/><rect x="405.80" y="443.73" width="18.35" height="5.795" fill="#cd76cd"/><rect x="405.80" y="449.23" width="18.35" height="5.795" fill="#cd76cd"/><rect x="405.80" y="454.72" width="18.35" height="5.795" fill="#eed3ee"/><rect x="405.80" y="460.22" width="18.35" height="5.795" fill="#eed3ee"/><rect x="405.80" y="465.71" width="18.35" height="5.795" fill="#eed3ee"/><rect x="405.80" y="471.21" width="18.35" height="5.795" fill="#dea6de"/><rect x="405.80" y="476.70" width="18.35" height="5.795" fill="#dea6de"/><rect x="405.80" y="482.19" width="18.35" height="5.795" fill="#dea6de"/><rect x="405.80" y="487.69" width="18.35" height="5.795" fill="#dea6de"/><rect x="405.80" y="493.19" width="18.35" height="5.795" fill="#dea6de"/><rect x="405.80" y="498.68" width="18.35" height="5.795" fill="#dea6de"/><rect x="405.80" y="504.18" width="18.35" height="5.795" fill="#dea6de"/><rect x="405.80" y="509.67" width="18.35" height="5.795" fill="#f6ebf6"/><rect x="405.80" y="515.16" width="18.35" height="5.795" fill="#dea6de"/><rect x="405.80" y="520.66" width="18.35" height="5.795" fill="#eed3ee"/><rect x="405.80" y="526.15" width="18.35" height="5.795" fill="#dea6de"/><rect x="405.80" y="531.65" width="18.35" height="5.795" fill="#cd76cd"/><rect x="405.80" y="537.14" width="18.35" height="5.795" fill="#dea6de"/><rect x="405.80" y="542.64" width="18.35" height="5.795" fill="#dea6de"/><rect x="405.80" y="548.13" width="18.35" height="5.795" fill="#dffaf3"/><rect x="405.80" y="553.63" width="18.35" height="5.795" fill="#fafcfc"/><rect x="405.80" y="559.12" width="18.35" height="5.795" fill="#fafcfc"/><rect x="405.80" y="564.62" width="18.35" height="5.795" fill="#fafcfc"/><rect x="405.80" y="570.12" width="18.35" height="5.795" fill="#fafcfc"/><rect x="405.80" y="575.61" width="18.35" height="5.795" fill="#fafcfc"/><rect x="405.80" y="581.11" width="18.35" height="5.795" fill="#eed3ee"/><rect x="405.80" y="586.60" width="18.35" height="5.795" fill="#eed3ee"/><rect x="405.80" y="592.10" width="18.35" height="5.795" fill="#dea6de"/><rect x="405.80" y="597.59" width="18.35" height="5.795" fill="#dea6de"/><rect x="405.80" y="603.09" width="18.35" height="5.795" fill="#dea6de"/><rect x="405.80" y="608.58" width="18.35" height="5.795" fill="#dea6de"/><rect x="405.80" y="614.08" width="18.35" height="5.795" fill="#dea6de"/><rect x="405.80" y="619.57" width="18.35" height="5.795" fill="#dea6de"/><rect x="405.80" y="625.07" width="18.35" height="5.795" fill="#f6ebf6"/><rect x="405.80" y="630.56" width="18.35" height="5.795" fill="#eed3ee"/><rect x="405.80" y="636.06" width="18.35" height="5.795" fill="#eed3ee"/><rect x="405.80" y="641.55" width="18.35" height="5.795" fill="#c0f6e8"/><rect x="405.80" y="647.05" width="18.35" height="5.795" fill="#dffaf3"/><rect x="405.80" y="652.54" width="18.35" height="5.795" fill="#dffaf3"/><rect x="405.80" y="658.04" width="18.35" height="5.795" fill="#eed3ee"/><rect x="405.80" y="663.53" width="18.35" height="5.795" fill="#dea6de"/><rect x="405.80" y="669.03" width="18.35" height="5.795" fill="#cd76cd"/><rect x="405.80" y="674.52" width="18.35" height="5.795" fill="#cd76cd"/><rect x="405.80" y="680.02" width="18.35" height="5.795" fill="#dea6de"/><rect x="405.80" y="685.51" width="18.35" height="5.795" fill="#cd76cd"/><rect x="405.80" y="691.00" width="18.35" height="5.795" fill="#cd76cd"/><rect x="405.80" y="696.50" width="18.35" height="5.795" fill="#cd76cd"/><rect x="405.80" y="702.00" width="18.35" height="5.795" fill="#dffaf3"/><rect x="405.80" y="707.49" width="18.35" height="5.795" fill="#dffaf3"/><rect x="405.80" y="712.99" width="18.35" height="5.795" fill="#c0f6e8"/><rect x="405.80" y="718.48" width="18.35" height="5.795" fill="#dffaf3"/><rect x="405.80" y="723.98" width="18.35" height="5.795" fill="#dffaf3"/><rect x="405.80" y="729.47" width="18.35" height="5.795" fill="#dffaf3"/><rect x="405.80" y="734.97" width="18.35" height="5.795" fill="#dffaf3"/><rect x="405.80" y="740.46" width="18.35" height="5.795" fill="#97f1dc"/><rect x="405.80" y="745.96" width="18.35" height="5.795" fill="#f6ebf6"/><rect x="405.80" y="751.45" width="18.35" height="5.795" fill="#f6ebf6"/><rect x="405.80" y="756.94" width="18.35" height="5.795" fill="#dffaf3"/><rect x="405.80" y="762.44" width="18.35" height="5.795" fill="#97f1dc"/><rect x="405.80" y="767.93" width="18.35" height="5.795" fill="#78efd2"/><rect x="405.80" y="773.43" width="18.35" height="5.795" fill="#97f1dc"/><rect x="405.80" y="778.92" width="18.35" height="5.795" fill="#97f1dc"/><rect x="405.80" y="784.42" width="18.35" height="5.795" fill="#c0f6e8"/><rect x="405.80" y="789.91" width="18.35" height="5.795" fill="#c0f6e8"/><rect x="405.80" y="795.41" width="18.35" height="5.795" fill="#97f1dc"/><rect x="405.80" y="800.90" width="18.35" height="5.795" fill="#c0f6e8"/><rect x="405.80" y="806.40" width="18.35" height="5.795" fill="#c0f6e8"/><rect x="405.80" y="811.89" width="18.35" height="5.795" fill="#78efd2"/><rect x="405.80" y="817.39" width="18.35" height="5.795" fill="#78efd2"/><rect x="424.15" y="366.80" width="18.35" height="5.795" fill="#78efd2"/><rect x="424.15" y="372.30" width="18.35" height="5.795" fill="#78efd2"/><rect x="424.15" y="377.79" width="18.35" height="5.795" fill="#97f1dc"/><rect x="424.15" y="383.29" width="18.35" height="5.795" fill="#97f1dc"/><rect x="424.15" y="388.78" width="18.35" height="5.795" fill="#78efd2"/><rect x="424.15" y="394.28" width="18.35" height="5.795" fill="#78efd2"/><rect x="424.15" y="399.77" width="18.35" height="5.795" fill="#78efd2"/><rect x="424.15" y="405.26" width="18.35" height="5.795" fill="#78efd2"/><rect x="424.15" y="410.76" width="18.35" height="5.795" fill="#78efd2"/><rect x="424.15" y="416.25" width="18.35" height="5.795" fill="#78efd2"/><rect x="424.15" y="421.75" width="18.35" height="5.795" fill="#78efd2"/><rect x="424.15" y="427.25" width="18.35" height="5.795" fill="#78efd2"/><rect x="424.15" y="432.74" width="18.35" height="5.795" fill="#78efd2"/><rect x="424.15" y="438.24" width="18.35" height="5.795" fill="#78efd2"/><rect x="424.15" y="443.73" width="18.35" height="5.795" fill="#c0f6e8"/><rect x="424.15" y="449.23" width="18.35" height="5.795" fill="#c0f6e8"/><rect x="424.15" y="454.72" width="18.35" height="5.795" fill="#dffaf3"/><rect x="424.15" y="460.22" width="18.35" height="5.795" fill="#dffaf3"/><rect x="424.15" y="465.71" width="18.35" height="5.795" fill="#fafcfc"/><rect x="424.15" y="471.21" width="18.35" height="5.795" fill="#fafcfc"/><rect x="424.15" y="476.70" width="18.35" height="5.795" fill="#f6ebf6"/><rect x="424.15" y="482.19" width="18.35" height="5.795" fill="#fafcfc"/><rect x="424.15" y="487.69" width="18.35" height="5.795" fill="#dffaf3"/><rect x="424.15" y="493.19" width="18.35" height="5.795" fill="#dffaf3"/><rect x="424.15" y="498.68" width="18.35" height="5.795" fill="#dffaf3"/><rect x="424.15" y="504.18" width="18.35" height="5.795" fill="#c0f6e8"/><rect x="424.15" y="509.67" width="18.35" height="5.795" fill="#c0f6e8"/><rect x="424.15" y="515.16" width="18.35" height="5.795" fill="#dffaf3"/><rect x="424.15" y="520.66" width="18.35" height="5.795" fill="#c0f6e8"/><rect x="424.15" y="526.15" width="18.35" height="5.795" fill="#c0f6e8"/><rect x="424.15" y="531.65" width="18.35" height="5.795" fill="#c0f6e8"/><rect x="424.15" y="537.14" width="18.35" height="5.795" fill="#dffaf3"/><rect x="424.15" y="542.64" width="18.35" height="5.795" fill="#dffaf3"/><rect x="424.15" y="548.13" width="18.35" height="5.795" fill="#97f1dc"/><rect x="424.15" y="553.63" width="18.35" height="5.795" fill="#c0f6e8"/><rect x="424.15" y="559.12" width="18.35" height="5.795" fill="#c0f6e8"/><rect x="424.15" y="564.62" width="18.35" height="5.795" fill="#c0f6e8"/><rect x="424.15" y="570.12" width="18.35" height="5.795" fill="#c0f6e8"/><rect x="424.15" y="575.61" width="18.35" height="5.795" fill="#97f1dc"/><rect x="424.15" y="581.11" width="18.35" height="5.795" fill="#97f1dc"/><rect x="424.15" y="586.60" width="18.35" height="5.795" fill="#78efd2"/><rect x="424.15" y="592.10" width="18.35" height="5.795" fill="#c0f6e8"/><rect x="424.15" y="597.59" width="18.35" height="5.795" fill="#c0f6e8"/><rect x="424.15" y="603.09" width="18.35" height="5.795" fill="#97f1dc"/><rect x="424.15" y="608.58" width="18.35" height="5.795" fill="#78efd2"/><rect x="424.15" y="614.08" width="18.35" height="5.795" fill="#c0f6e8"/><rect x="424.15" y="619.57" width="18.35" height="5.795" fill="#c0f6e8"/><rect x="424.15" y="625.07" width="18.35" height="5.795" fill="#97f1dc"/><rect x="424.15" y="630.56" width="18.35" height="5.795" fill="#dffaf3"/><rect x="424.15" y="636.06" width="18.35" height="5.795" fill="#fafcfc"/><rect x="424.15" y="641.55" width="18.35" height="5.795" fill="#f6ebf6"/><rect x="424.15" y="647.05" width="18.35" height="5.795" fill="#f6ebf6"/><rect x="424.15" y="652.54" width="18.35" height="5.795" fill="#f6ebf6"/><rect x="424.15" y="658.04" width="18.35" height="5.795" fill="#fafcfc"/><rect x="424.15" y="663.53" width="18.35" height="5.795" fill="#f6ebf6"/><rect x="424.15" y="669.03" width="18.35" height="5.795" fill="#f6ebf6"/><rect x="424.15" y="674.52" width="18.35" height="5.795" fill="#fafcfc"/><rect x="424.15" y="680.02" width="18.35" height="5.795" fill="#cd76cd"/><rect x="424.15" y="685.51" width="18.35" height="5.795" fill="#cd76cd"/><rect x="424.15" y="691.00" width="18.35" height="5.795" fill="#fafcfc"/><rect x="424.15" y="696.50" width="18.35" height="5.795" fill="#f6ebf6"/><rect x="424.15" y="702.00" width="18.35" height="5.795" fill="#f6ebf6"/><rect x="424.15" y="707.49" width="18.35" height="5.795" fill="#eed3ee"/><rect x="424.15" y="712.99" width="18.35" height="5.795" fill="#f6ebf6"/><rect x="424.15" y="718.48" width="18.35" height="5.795" fill="#f6ebf6"/><rect x="424.15" y="723.98" width="18.35" height="5.795" fill="#eed3ee"/><rect x="424.15" y="729.47" width="18.35" height="5.795" fill="#dea6de"/><rect x="424.15" y="734.97" width="18.35" height="5.795" fill="#eed3ee"/><rect x="424.15" y="740.46" width="18.35" height="5.795" fill="#fafcfc"/><rect x="424.15" y="745.96" width="18.35" height="5.795" fill="#eed3ee"/><rect x="424.15" y="751.45" width="18.35" height="5.795" fill="#f6ebf6"/><rect x="424.15" y="756.94" width="18.35" height="5.795" fill="#f6ebf6"/><rect x="424.15" y="762.44" width="18.35" height="5.795" fill="#dffaf3"/><rect x="424.15" y="767.93" width="18.35" height="5.795" fill="#dffaf3"/><rect x="424.15" y="773.43" width="18.35" height="5.795" fill="#f6ebf6"/><rect x="424.15" y="778.92" width="18.35" height="5.795" fill="#fafcfc"/><rect x="424.15" y="784.42" width="18.35" height="5.795" fill="#f6ebf6"/><rect x="424.15" y="789.91" width="18.35" height="5.795" fill="#f6ebf6"/><rect x="424.15" y="795.41" width="18.35" height="5.795" fill="#f6ebf6"/><rect x="424.15" y="800.90" width="18.35" height="5.795" fill="#f6ebf6"/><rect x="424.15" y="806.40" width="18.35" height="5.795" fill="#f6ebf6"/><rect x="424.15" y="811.89" width="18.35" height="5.795" fill="#f6ebf6"/><rect x="424.15" y="817.39" width="18.35" height="5.795" fill="#f6ebf6"/><rect x="442.50" y="366.80" width="18.35" height="5.795" fill="#97f1dc"/><rect x="442.50" y="372.30" width="18.35" height="5.795" fill="#78efd2"/><rect x="442.50" y="377.79" width="18.35" height="5.795" fill="#78efd2"/><rect x="442.50" y="383.29" width="18.35" height="5.795" fill="#78efd2"/><rect x="442.50" y="388.78" width="18.35" height="5.795" fill="#78efd2"/><rect x="442.50" y="394.28" width="18.35" height="5.795" fill="#78efd2"/><rect x="442.50" y="399.77" width="18.35" height="5.795" fill="#78efd2"/><rect x="442.50" y="405.26" width="18.35" height="5.795" fill="#78efd2"/><rect x="442.50" y="410.76" width="18.35" height="5.795" fill="#78efd2"/><rect x="442.50" y="416.25" width="18.35" height="5.795" fill="#78efd2"/><rect x="442.50" y="421.75" width="18.35" height="5.795" fill="#78efd2"/><rect x="442.50" y="427.25" width="18.35" height="5.795" fill="#78efd2"/><rect x="442.50" y="432.74" width="18.35" height="5.795" fill="#78efd2"/><rect x="442.50" y="438.24" width="18.35" height="5.795" fill="#78efd2"/><rect x="442.50" y="443.73" width="18.35" height="5.795" fill="#97f1dc"/><rect x="442.50" y="449.23" width="18.35" height="5.795" fill="#97f1dc"/><rect x="442.50" y="454.72" width="18.35" height="5.795" fill="#c0f6e8"/><rect x="442.50" y="460.22" width="18.35" height="5.795" fill="#c0f6e8"/><rect x="442.50" y="465.71" width="18.35" height="5.795" fill="#c0f6e8"/><rect x="442.50" y="471.21" width="18.35" height="5.795" fill="#c0f6e8"/><rect x="442.50" y="476.70" width="18.35" height="5.795" fill="#dffaf3"/><rect x="442.50" y="482.19" width="18.35" height="5.795" fill="#c0f6e8"/><rect x="442.50" y="487.69" width="18.35" height="5.795" fill="#c0f6e8"/><rect x="442.50" y="493.19" width="18.35" height="5.795" fill="#c0f6e8"/><rect x="442.50" y="498.68" width="18.35" height="5.795" fill="#dffaf3"/><rect x="442.50" y="504.18" width="18.35" height="5.795" fill="#97f1dc"/><rect x="442.50" y="509.67" width="18.35" height="5.795" fill="#97f1dc"/><rect x="442.50" y="515.16" width="18.35" height="5.795" fill="#c0f6e8"/><rect x="442.50" y="520.66" width="18.35" height="5.795" fill="#97f1dc"/><rect x="442.50" y="526.15" width="18.35" height="5.795" fill="#97f1dc"/><rect x="442.50" y="531.65" width="18.35" height="5.795" fill="#c0f6e8"/><rect x="442.50" y="537.14" width="18.35" height="5.795" fill="#c0f6e8"/><rect x="442.50" y="542.64" width="18.35" height="5.795" fill="#97f1dc"/><rect x="442.50" y="548.13" width="18.35" height="5.795" fill="#97f1dc"/><rect x="442.50" y="553.63" width="18.35" height="5.795" fill="#78efd2"/><rect x="442.50" y="559.12" width="18.35" height="5.795" fill="#97f1dc"/><rect x="442.50" y="564.62" width="18.35" height="5.795" fill="#97f1dc"/><rect x="442.50" y="570.12" width="18.35" height="5.795" fill="#97f1dc"/><rect x="442.50" y="575.61" width="18.35" height="5.795" fill="#97f1dc"/><rect x="442.50" y="581.11" width="18.35" height="5.795" fill="#97f1dc"/><rect x="442.50" y="586.60" width="18.35" height="5.795" fill="#97f1dc"/><rect x="442.50" y="592.10" width="18.35" height="5.795" fill="#97f1dc"/><rect x="442.50" y="597.59" width="18.35" height="5.795" fill="#78efd2"/><rect x="442.50" y="603.09" width="18.35" height="5.795" fill="#78efd2"/><rect x="442.50" y="608.58" width="18.35" height="5.795" fill="#78efd2"/><rect x="442.50" y="614.08" width="18.35" height="5.795" fill="#78efd2"/><rect x="442.50" y="619.57" width="18.35" height="5.795" fill="#78efd2"/><rect x="442.50" y="625.07" width="18.35" height="5.795" fill="#78efd2"/><rect x="442.50" y="630.56" width="18.35" height="5.795" fill="#fafcfc"/><rect x="442.50" y="636.06" width="18.35" height="5.795" fill="#dffaf3"/><rect x="442.50" y="641.55" width="18.35" height="5.795" fill="#dffaf3"/><rect x="442.50" y="647.05" width="18.35" height="5.795" fill="#dffaf3"/><rect x="442.50" y="652.54" width="18.35" height="5.795" fill="#dffaf3"/><rect x="442.50" y="658.04" width="18.35" height="5.795" fill="#c0f6e8"/><rect x="442.50" y="663.53" width="18.35" height="5.795" fill="#c0f6e8"/><rect x="442.50" y="669.03" width="18.35" height="5.795" fill="#c0f6e8"/><rect x="442.50" y="674.52" width="18.35" height="5.795" fill="#c0f6e8"/><rect x="442.50" y="680.02" width="18.35" height="5.795" fill="#c0f6e8"/><rect x="442.50" y="685.51" width="18.35" height="5.795" fill="#c0f6e8"/><rect x="442.50" y="691.00" width="18.35" height="5.795" fill="#c0f6e8"/><rect x="442.50" y="696.50" width="18.35" height="5.795" fill="#dffaf3"/><rect x="442.50" y="702.00" width="18.35" height="5.795" fill="#c0f6e8"/><rect x="442.50" y="707.49" width="18.35" height="5.795" fill="#c0f6e8"/><rect x="442.50" y="712.99" width="18.35" height="5.795" fill="#f6ebf6"/><rect x="442.50" y="718.48" width="18.35" height="5.795" fill="#dffaf3"/><rect x="442.50" y="723.98" width="18.35" height="5.795" fill="#dffaf3"/><rect x="442.50" y="729.47" width="18.35" height="5.795" fill="#dffaf3"/><rect x="442.50" y="734.97" width="18.35" height="5.795" fill="#dffaf3"/><rect x="442.50" y="740.46" width="18.35" height="5.795" fill="#eed3ee"/><rect x="442.50" y="745.96" width="18.35" height="5.795" fill="#dffaf3"/><rect x="442.50" y="751.45" width="18.35" height="5.795" fill="#dffaf3"/><rect x="442.50" y="756.94" width="18.35" height="5.795" fill="#fafcfc"/><rect x="442.50" y="762.44" width="18.35" height="5.795" fill="#cd76cd"/><rect x="442.50" y="767.93" width="18.35" height="5.795" fill="#cd76cd"/><rect x="442.50" y="773.43" width="18.35" height="5.795" fill="#dea6de"/><rect x="442.50" y="778.92" width="18.35" height="5.795" fill="#dea6de"/><rect x="442.50" y="784.42" width="18.35" height="5.795" fill="#f6ebf6"/><rect x="442.50" y="789.91" width="18.35" height="5.795" fill="#f6ebf6"/><rect x="442.50" y="795.41" width="18.35" height="5.795" fill="#dea6de"/><rect x="442.50" y="800.90" width="18.35" height="5.795" fill="#f6ebf6"/><rect x="442.50" y="806.40" width="18.35" height="5.795" fill="#dea6de"/><rect x="442.50" y="811.89" width="18.35" height="5.795" fill="#cd76cd"/><rect x="442.50" y="817.39" width="18.35" height="5.795" fill="#dea6de"/><rect x="460.85" y="366.80" width="18.35" height="5.795" fill="#c0f6e8"/><rect x="460.85" y="372.30" width="18.35" height="5.795" fill="#fafcfc"/><rect x="460.85" y="377.79" width="18.35" height="5.795" fill="#fafcfc"/><rect x="460.85" y="383.29" width="18.35" height="5.795" fill="#fafcfc"/><rect x="460.85" y="388.78" width="18.35" height="5.795" fill="#fafcfc"/><rect x="460.85" y="394.28" width="18.35" height="5.795" fill="#dffaf3"/><rect x="460.85" y="399.77" width="18.35" height="5.795" fill="#dffaf3"/><rect x="460.85" y="405.26" width="18.35" height="5.795" fill="#dffaf3"/><rect x="460.85" y="410.76" width="18.35" height="5.795" fill="#c0f6e8"/><rect x="460.85" y="416.25" width="18.35" height="5.795" fill="#dffaf3"/><rect x="460.85" y="421.75" width="18.35" height="5.795" fill="#c0f6e8"/><rect x="460.85" y="427.25" width="18.35" height="5.795" fill="#c0f6e8"/><rect x="460.85" y="432.74" width="18.35" height="5.795" fill="#c0f6e8"/><rect x="460.85" y="438.24" width="18.35" height="5.795" fill="#97f1dc"/><rect x="460.85" y="443.73" width="18.35" height="5.795" fill="#dea6de"/><rect x="460.85" y="449.23" width="18.35" height="5.795" fill="#dea6de"/><rect x="460.85" y="454.72" width="18.35" height="5.795" fill="#dea6de"/><rect x="460.85" y="460.22" width="18.35" height="5.795" fill="#cd76cd"/><rect x="460.85" y="465.71" width="18.35" height="5.795" fill="#dea6de"/><rect x="460.85" y="471.21" width="18.35" height="5.795" fill="#cd76cd"/><rect x="460.85" y="476.70" width="18.35" height="5.795" fill="#cd76cd"/><rect x="460.85" y="482.19" width="18.35" height="5.795" fill="#dea6de"/><rect x="460.85" y="487.69" width="18.35" height="5.795" fill="#dea6de"/><rect x="460.85" y="493.19" width="18.35" height="5.795" fill="#eed3ee"/><rect x="460.85" y="498.68" width="18.35" height="5.795" fill="#eed3ee"/><rect x="460.85" y="504.18" width="18.35" height="5.795" fill="#eed3ee"/><rect x="460.85" y="509.67" width="18.35" height="5.795" fill="#eed3ee"/><rect x="460.85" y="515.16" width="18.35" height="5.795" fill="#eed3ee"/><rect x="460.85" y="520.66" width="18.35" height="5.795" fill="#fafcfc"/><rect x="460.85" y="526.15" width="18.35" height="5.795" fill="#dea6de"/><rect x="460.85" y="531.65" width="18.35" height="5.795" fill="#dea6de"/><rect x="460.85" y="537.14" width="18.35" height="5.795" fill="#dea6de"/><rect x="460.85" y="542.64" width="18.35" height="5.795" fill="#cd76cd"/><rect x="460.85" y="548.13" width="18.35" height="5.795" fill="#dffaf3"/><rect x="460.85" y="553.63" width="18.35" height="5.795" fill="#fafcfc"/><rect x="460.85" y="559.12" width="18.35" height="5.795" fill="#dffaf3"/><rect x="460.85" y="564.62" width="18.35" height="5.795" fill="#fafcfc"/><rect x="460.85" y="570.12" width="18.35" height="5.795" fill="#f6ebf6"/><rect x="460.85" y="575.61" width="18.35" height="5.795" fill="#fafcfc"/><rect x="460.85" y="581.11" width="18.35" height="5.795" fill="#f6ebf6"/><rect x="460.85" y="586.60" width="18.35" height="5.795" fill="#dffaf3"/><rect x="460.85" y="592.10" width="18.35" height="5.795" fill="#f6ebf6"/><rect x="460.85" y="597.59" width="18.35" height="5.795" fill="#f6ebf6"/><rect x="460.85" y="603.09" width="18.35" height="5.795" fill="#f6ebf6"/><rect x="460.85" y="608.58" width="18.35" height="5.795" fill="#f6ebf6"/><rect x="460.85" y="614.08" width="18.35" height="5.795" fill="#eed3ee"/><rect x="460.85" y="619.57" width="18.35" height="5.795" fill="#f6ebf6"/><rect x="460.85" y="625.07" width="18.35" height="5.795" fill="#fafcfc"/><rect x="460.85" y="630.56" width="18.35" height="5.795" fill="#cd76cd"/><rect x="460.85" y="636.06" width="18.35" height="5.795" fill="#dea6de"/><rect x="460.85" y="641.55" width="18.35" height="5.795" fill="#eed3ee"/><rect x="460.85" y="647.05" width="18.35" height="5.795" fill="#eed3ee"/><rect x="460.85" y="652.54" width="18.35" height="5.795" fill="#f6ebf6"/><rect x="460.85" y="658.04" width="18.35" height="5.795" fill="#dea6de"/><rect x="460.85" y="663.53" width="18.35" height="5.795" fill="#fafcfc"/><rect x="460.85" y="669.03" width="18.35" height="5.795" fill="#dffaf3"/><rect x="460.85" y="674.52" width="18.35" height="5.795" fill="#f6ebf6"/><rect x="460.85" y="680.02" width="18.35" height="5.795" fill="#dffaf3"/><rect x="460.85" y="685.51" width="18.35" height="5.795" fill="#fafcfc"/><rect x="460.85" y="691.00" width="18.35" height="5.795" fill="#f6ebf6"/><rect x="460.85" y="696.50" width="18.35" height="5.795" fill="#f6ebf6"/><rect x="460.85" y="702.00" width="18.35" height="5.795" fill="#78efd2"/><rect x="460.85" y="707.49" width="18.35" height="5.795" fill="#dffaf3"/><rect x="460.85" y="712.99" width="18.35" height="5.795" fill="#c0f6e8"/><rect x="460.85" y="718.48" width="18.35" height="5.795" fill="#c0f6e8"/><rect x="460.85" y="723.98" width="18.35" height="5.795" fill="#c0f6e8"/><rect x="460.85" y="729.47" width="18.35" height="5.795" fill="#c0f6e8"/><rect x="460.85" y="734.97" width="18.35" height="5.795" fill="#c0f6e8"/><rect x="460.85" y="740.46" width="18.35" height="5.795" fill="#97f1dc"/><rect x="460.85" y="745.96" width="18.35" height="5.795" fill="#c0f6e8"/><rect x="460.85" y="751.45" width="18.35" height="5.795" fill="#dffaf3"/><rect x="460.85" y="756.94" width="18.35" height="5.795" fill="#dffaf3"/><rect x="460.85" y="762.44" width="18.35" height="5.795" fill="#78efd2"/><rect x="460.85" y="767.93" width="18.35" height="5.795" fill="#97f1dc"/><rect x="460.85" y="773.43" width="18.35" height="5.795" fill="#78efd2"/><rect x="460.85" y="778.92" width="18.35" height="5.795" fill="#78efd2"/><rect x="460.85" y="784.42" width="18.35" height="5.795" fill="#78efd2"/><rect x="460.85" y="789.91" width="18.35" height="5.795" fill="#c0f6e8"/><rect x="460.85" y="795.41" width="18.35" height="5.795" fill="#dffaf3"/><rect x="460.85" y="800.90" width="18.35" height="5.795" fill="#78efd2"/><rect x="460.85" y="806.40" width="18.35" height="5.795" fill="#dffaf3"/><rect x="460.85" y="811.89" width="18.35" height="5.795" fill="#fafcfc"/><rect x="460.85" y="817.39" width="18.35" height="5.795" fill="#dffaf3"/><rect x="479.20" y="366.80" width="18.35" height="5.795" fill="#78efd2"/><rect x="479.20" y="372.30" width="18.35" height="5.795" fill="#78efd2"/><rect x="479.20" y="377.79" width="18.35" height="5.795" fill="#78efd2"/><rect x="479.20" y="383.29" width="18.35" height="5.795" fill="#78efd2"/><rect x="479.20" y="388.78" width="18.35" height="5.795" fill="#78efd2"/><rect x="479.20" y="394.28" width="18.35" height="5.795" fill="#78efd2"/><rect x="479.20" y="399.77" width="18.35" height="5.795" fill="#78efd2"/><rect x="479.20" y="405.26" width="18.35" height="5.795" fill="#78efd2"/><rect x="479.20" y="410.76" width="18.35" height="5.795" fill="#78efd2"/><rect x="479.20" y="416.25" width="18.35" height="5.795" fill="#78efd2"/><rect x="479.20" y="421.75" width="18.35" height="5.795" fill="#78efd2"/><rect x="479.20" y="427.25" width="18.35" height="5.795" fill="#78efd2"/><rect x="479.20" y="432.74" width="18.35" height="5.795" fill="#78efd2"/><rect x="479.20" y="438.24" width="18.35" height="5.795" fill="#78efd2"/><rect x="479.20" y="443.73" width="18.35" height="5.795" fill="#78efd2"/><rect x="479.20" y="449.23" width="18.35" height="5.795" fill="#78efd2"/><rect x="479.20" y="454.72" width="18.35" height="5.795" fill="#c0f6e8"/><rect x="479.20" y="460.22" width="18.35" height="5.795" fill="#dffaf3"/><rect x="479.20" y="465.71" width="18.35" height="5.795" fill="#97f1dc"/><rect x="479.20" y="471.21" width="18.35" height="5.795" fill="#97f1dc"/><rect x="479.20" y="476.70" width="18.35" height="5.795" fill="#97f1dc"/><rect x="479.20" y="482.19" width="18.35" height="5.795" fill="#97f1dc"/><rect x="479.20" y="487.69" width="18.35" height="5.795" fill="#97f1dc"/><rect x="479.20" y="493.19" width="18.35" height="5.795" fill="#78efd2"/><rect x="479.20" y="498.68" width="18.35" height="5.795" fill="#97f1dc"/><rect x="479.20" y="504.18" width="18.35" height="5.795" fill="#97f1dc"/><rect x="479.20" y="509.67" width="18.35" height="5.795" fill="#97f1dc"/><rect x="479.20" y="515.16" width="18.35" height="5.795" fill="#78efd2"/><rect x="479.20" y="520.66" width="18.35" height="5.795" fill="#78efd2"/><rect x="479.20" y="526.15" width="18.35" height="5.795" fill="#78efd2"/><rect x="479.20" y="531.65" width="18.35" height="5.795" fill="#78efd2"/><rect x="479.20" y="537.14" width="18.35" height="5.795" fill="#97f1dc"/><rect x="479.20" y="542.64" width="18.35" height="5.795" fill="#97f1dc"/><rect x="479.20" y="548.13" width="18.35" height="5.795" fill="#78efd2"/><rect x="479.20" y="553.63" width="18.35" height="5.795" fill="#78efd2"/><rect x="479.20" y="559.12" width="18.35" height="5.795" fill="#78efd2"/><rect x="479.20" y="564.62" width="18.35" height="5.795" fill="#78efd2"/><rect x="479.20" y="570.12" width="18.35" height="5.795" fill="#78efd2"/><rect x="479.20" y="575.61" width="18.35" height="5.795" fill="#78efd2"/><rect x="479.20" y="581.11" width="18.35" height="5.795" fill="#78efd2"/><rect x="479.20" y="586.60" width="18.35" height="5.795" fill="#78efd2"/><rect x="479.20" y="592.10" width="18.35" height="5.795" fill="#97f1dc"/><rect x="479.20" y="597.59" width="18.35" height="5.795" fill="#78efd2"/><rect x="479.20" y="603.09" width="18.35" height="5.795" fill="#78efd2"/><rect x="479.20" y="608.58" width="18.35" height="5.795" fill="#78efd2"/><rect x="479.20" y="614.08" width="18.35" height="5.795" fill="#78efd2"/><rect x="479.20" y="619.57" width="18.35" height="5.795" fill="#78efd2"/><rect x="479.20" y="625.07" width="18.35" height="5.795" fill="#78efd2"/><rect x="479.20" y="630.56" width="18.35" height="5.795" fill="#c0f6e8"/><rect x="479.20" y="636.06" width="18.35" height="5.795" fill="#c0f6e8"/><rect x="479.20" y="641.55" width="18.35" height="5.795" fill="#fafcfc"/><rect x="479.20" y="647.05" width="18.35" height="5.795" fill="#fafcfc"/><rect x="479.20" y="652.54" width="18.35" height="5.795" fill="#fafcfc"/><rect x="479.20" y="658.04" width="18.35" height="5.795" fill="#97f1dc"/><rect x="479.20" y="663.53" width="18.35" height="5.795" fill="#eed3ee"/><rect x="479.20" y="669.03" width="18.35" height="5.795" fill="#eed3ee"/><rect x="479.20" y="674.52" width="18.35" height="5.795" fill="#f6ebf6"/><rect x="479.20" y="680.02" width="18.35" height="5.795" fill="#cd76cd"/><rect x="479.20" y="685.51" width="18.35" height="5.795" fill="#cd76cd"/><rect x="479.20" y="691.00" width="18.35" height="5.795" fill="#f6ebf6"/><rect x="479.20" y="696.50" width="18.35" height="5.795" fill="#eed3ee"/><rect x="479.20" y="702.00" width="18.35" height="5.795" fill="#f6ebf6"/><rect x="479.20" y="707.49" width="18.35" height="5.795" fill="#dea6de"/><rect x="479.20" y="712.99" width="18.35" height="5.795" fill="#fafcfc"/><rect x="479.20" y="718.48" width="18.35" height="5.795" fill="#fafcfc"/><rect x="479.20" y="723.98" width="18.35" height="5.795" fill="#f6ebf6"/><rect x="479.20" y="729.47" width="18.35" height="5.795" fill="#eed3ee"/><rect x="479.20" y="734.97" width="18.35" height="5.795" fill="#eed3ee"/><rect x="479.20" y="740.46" width="18.35" height="5.795" fill="#dffaf3"/><rect x="479.20" y="745.96" width="18.35" height="5.795" fill="#cd76cd"/><rect x="479.20" y="751.45" width="18.35" height="5.795" fill="#cd76cd"/><rect x="479.20" y="756.94" width="18.35" height="5.795" fill="#cd76cd"/><rect x="479.20" y="762.44" width="18.35" height="5.795" fill="#eed3ee"/><rect x="479.20" y="767.93" width="18.35" height="5.795" fill="#eed3ee"/><rect x="479.20" y="773.43" width="18.35" height="5.795" fill="#dea6de"/><rect x="479.20" y="778.92" width="18.35" height="5.795" fill="#dea6de"/><rect x="479.20" y="784.42" width="18.35" height="5.795" fill="#cd76cd"/><rect x="479.20" y="789.91" width="18.35" height="5.795" fill="#cd76cd"/><rect x="479.20" y="795.41" width="18.35" height="5.795" fill="#dea6de"/><rect x="479.20" y="800.90" width="18.35" height="5.795" fill="#cd76cd"/><rect x="479.20" y="806.40" width="18.35" height="5.795" fill="#cd76cd"/><rect x="479.20" y="811.89" width="18.35" height="5.795" fill="#f6ebf6"/><rect x="479.20" y="817.39" width="18.35" height="5.795" fill="#f6ebf6"/><rect x="497.55" y="366.80" width="18.35" height="5.795" fill="#78efd2"/><rect x="497.55" y="372.30" width="18.35" height="5.795" fill="#78efd2"/><rect x="497.55" y="377.79" width="18.35" height="5.795" fill="#78efd2"/><rect x="497.55" y="383.29" width="18.35" height="5.795" fill="#78efd2"/><rect x="497.55" y="388.78" width="18.35" height="5.795" fill="#78efd2"/><rect x="497.55" y="394.28" width="18.35" height="5.795" fill="#78efd2"/><rect x="497.55" y="399.77" width="18.35" height="5.795" fill="#78efd2"/><rect x="497.55" y="405.26" width="18.35" height="5.795" fill="#78efd2"/><rect x="497.55" y="410.76" width="18.35" height="5.795" fill="#78efd2"/><rect x="497.55" y="416.25" width="18.35" height="5.795" fill="#78efd2"/><rect x="497.55" y="421.75" width="18.35" height="5.795" fill="#78efd2"/><rect x="497.55" y="427.25" width="18.35" height="5.795" fill="#78efd2"/><rect x="497.55" y="432.74" width="18.35" height="5.795" fill="#78efd2"/><rect x="497.55" y="438.24" width="18.35" height="5.795" fill="#78efd2"/><rect x="497.55" y="443.73" width="18.35" height="5.795" fill="#97f1dc"/><rect x="497.55" y="449.23" width="18.35" height="5.795" fill="#97f1dc"/><rect x="497.55" y="454.72" width="18.35" height="5.795" fill="#dffaf3"/><rect x="497.55" y="460.22" width="18.35" height="5.795" fill="#dffaf3"/><rect x="497.55" y="465.71" width="18.35" height="5.795" fill="#fafcfc"/><rect x="497.55" y="471.21" width="18.35" height="5.795" fill="#dffaf3"/><rect x="497.55" y="476.70" width="18.35" height="5.795" fill="#dffaf3"/><rect x="497.55" y="482.19" width="18.35" height="5.795" fill="#c0f6e8"/><rect x="497.55" y="487.69" width="18.35" height="5.795" fill="#c0f6e8"/><rect x="497.55" y="493.19" width="18.35" height="5.795" fill="#c0f6e8"/><rect x="497.55" y="498.68" width="18.35" height="5.795" fill="#dffaf3"/><rect x="497.55" y="504.18" width="18.35" height="5.795" fill="#c0f6e8"/><rect x="497.55" y="509.67" width="18.35" height="5.795" fill="#97f1dc"/><rect x="497.55" y="515.16" width="18.35" height="5.795" fill="#97f1dc"/><rect x="497.55" y="520.66" width="18.35" height="5.795" fill="#97f1dc"/><rect x="497.55" y="526.15" width="18.35" height="5.795" fill="#97f1dc"/><rect x="497.55" y="531.65" width="18.35" height="5.795" fill="#97f1dc"/><rect x="497.55" y="537.14" width="18.35" height="5.795" fill="#c0f6e8"/><rect x="497.55" y="542.64" width="18.35" height="5.795" fill="#c0f6e8"/><rect x="497.55" y="548.13" width="18.35" height="5.795" fill="#78efd2"/><rect x="497.55" y="553.63" width="18.35" height="5.795" fill="#78efd2"/><rect x="497.55" y="559.12" width="18.35" height="5.795" fill="#97f1dc"/><rect x="497.55" y="564.62" width="18.35" height="5.795" fill="#97f1dc"/><rect x="497.55" y="570.12" width="18.35" height="5.795" fill="#97f1dc"/><rect x="497.55" y="575.61" width="18.35" height="5.795" fill="#78efd2"/><rect x="497.55" y="581.11" width="18.35" height="5.795" fill="#78efd2"/><rect x="497.55" y="586.60" width="18.35" height="5.795" fill="#78efd2"/><rect x="497.55" y="592.10" width="18.35" height="5.795" fill="#97f1dc"/><rect x="497.55" y="597.59" width="18.35" height="5.795" fill="#78efd2"/><rect x="497.55" y="603.09" width="18.35" height="5.795" fill="#97f1dc"/><rect x="497.55" y="608.58" width="18.35" height="5.795" fill="#97f1dc"/><rect x="497.55" y="614.08" width="18.35" height="5.795" fill="#97f1dc"/><rect x="497.55" y="619.57" width="18.35" height="5.795" fill="#97f1dc"/><rect x="497.55" y="625.07" width="18.35" height="5.795" fill="#78efd2"/><rect x="497.55" y="630.56" width="18.35" height="5.795" fill="#dffaf3"/><rect x="497.55" y="636.06" width="18.35" height="5.795" fill="#dffaf3"/><rect x="497.55" y="641.55" width="18.35" height="5.795" fill="#f6ebf6"/><rect x="497.55" y="647.05" width="18.35" height="5.795" fill="#eed3ee"/><rect x="497.55" y="652.54" width="18.35" height="5.795" fill="#eed3ee"/><rect x="497.55" y="658.04" width="18.35" height="5.795" fill="#fafcfc"/><rect x="497.55" y="663.53" width="18.35" height="5.795" fill="#dffaf3"/><rect x="497.55" y="669.03" width="18.35" height="5.795" fill="#dffaf3"/><rect x="497.55" y="674.52" width="18.35" height="5.795" fill="#dffaf3"/><rect x="497.55" y="680.02" width="18.35" height="5.795" fill="#dffaf3"/><rect x="497.55" y="685.51" width="18.35" height="5.795" fill="#c0f6e8"/><rect x="497.55" y="691.00" width="18.35" height="5.795" fill="#c0f6e8"/><rect x="497.55" y="696.50" width="18.35" height="5.795" fill="#f6ebf6"/><rect x="497.55" y="702.00" width="18.35" height="5.795" fill="#dffaf3"/><rect x="497.55" y="707.49" width="18.35" height="5.795" fill="#dffaf3"/><rect x="497.55" y="712.99" width="18.35" height="5.795" fill="#fafcfc"/><rect x="497.55" y="718.48" width="18.35" height="5.795" fill="#fafcfc"/><rect x="497.55" y="723.98" width="18.35" height="5.795" fill="#dffaf3"/><rect x="497.55" y="729.47" width="18.35" height="5.795" fill="#fafcfc"/><rect x="497.55" y="734.97" width="18.35" height="5.795" fill="#fafcfc"/><rect x="497.55" y="740.46" width="18.35" height="5.795" fill="#f6ebf6"/><rect x="497.55" y="745.96" width="18.35" height="5.795" fill="#f6ebf6"/><rect x="497.55" y="751.45" width="18.35" height="5.795" fill="#fafcfc"/><rect x="497.55" y="756.94" width="18.35" height="5.795" fill="#dea6de"/><rect x="497.55" y="762.44" width="18.35" height="5.795" fill="#cd76cd"/><rect x="497.55" y="767.93" width="18.35" height="5.795" fill="#cd76cd"/><rect x="497.55" y="773.43" width="18.35" height="5.795" fill="#dea6de"/><rect x="497.55" y="778.92" width="18.35" height="5.795" fill="#dea6de"/><rect x="497.55" y="784.42" width="18.35" height="5.795" fill="#dea6de"/><rect x="497.55" y="789.91" width="18.35" height="5.795" fill="#dea6de"/><rect x="497.55" y="795.41" width="18.35" height="5.795" fill="#dea6de"/><rect x="497.55" y="800.90" width="18.35" height="5.795" fill="#dea6de"/><rect x="497.55" y="806.40" width="18.35" height="5.795" fill="#dea6de"/><rect x="497.55" y="811.89" width="18.35" height="5.795" fill="#cd76cd"/><rect x="497.55" y="817.39" width="18.35" height="5.795" fill="#cd76cd"/><rect x="515.90" y="366.80" width="18.35" height="5.795" fill="#dea6de"/><rect x="515.90" y="372.30" width="18.35" height="5.795" fill="#dea6de"/><rect x="515.90" y="377.79" width="18.35" height="5.795" fill="#eed3ee"/><rect x="515.90" y="383.29" width="18.35" height="5.795" fill="#dea6de"/><rect x="515.90" y="388.78" width="18.35" height="5.795" fill="#dea6de"/><rect x="515.90" y="394.28" width="18.35" height="5.795" fill="#dea6de"/><rect x="515.90" y="399.77" width="18.35" height="5.795" fill="#cd76cd"/><rect x="515.90" y="405.26" width="18.35" height="5.795" fill="#dea6de"/><rect x="515.90" y="410.76" width="18.35" height="5.795" fill="#dea6de"/><rect x="515.90" y="416.25" width="18.35" height="5.795" fill="#fafcfc"/><rect x="515.90" y="421.75" width="18.35" height="5.795" fill="#dea6de"/><rect x="515.90" y="427.25" width="18.35" height="5.795" fill="#eed3ee"/><rect x="515.90" y="432.74" width="18.35" height="5.795" fill="#eed3ee"/><rect x="515.90" y="438.24" width="18.35" height="5.795" fill="#f6ebf6"/><rect x="515.90" y="443.73" width="18.35" height="5.795" fill="#dea6de"/><rect x="515.90" y="449.23" width="18.35" height="5.795" fill="#dea6de"/><rect x="515.90" y="454.72" width="18.35" height="5.795" fill="#eed3ee"/><rect x="515.90" y="460.22" width="18.35" height="5.795" fill="#eed3ee"/><rect x="515.90" y="465.71" width="18.35" height="5.795" fill="#dea6de"/><rect x="515.90" y="471.21" width="18.35" height="5.795" fill="#eed3ee"/><rect x="515.90" y="476.70" width="18.35" height="5.795" fill="#eed3ee"/><rect x="515.90" y="482.19" width="18.35" height="5.795" fill="#dea6de"/><rect x="515.90" y="487.69" width="18.35" height="5.795" fill="#dea6de"/><rect x="515.90" y="493.19" width="18.35" height="5.795" fill="#dea6de"/><rect x="515.90" y="498.68" width="18.35" height="5.795" fill="#cd76cd"/><rect x="515.90" y="504.18" width="18.35" height="5.795" fill="#dea6de"/><rect x="515.90" y="509.67" width="18.35" height="5.795" fill="#dea6de"/><rect x="515.90" y="515.16" width="18.35" height="5.795" fill="#dea6de"/><rect x="515.90" y="520.66" width="18.35" height="5.795" fill="#dea6de"/><rect x="515.90" y="526.15" width="18.35" height="5.795" fill="#dea6de"/><rect x="515.90" y="531.65" width="18.35" height="5.795" fill="#eed3ee"/><rect x="515.90" y="537.14" width="18.35" height="5.795" fill="#dea6de"/><rect x="515.90" y="542.64" width="18.35" height="5.795" fill="#dea6de"/><rect x="515.90" y="548.13" width="18.35" height="5.795" fill="#dea6de"/><rect x="515.90" y="553.63" width="18.35" height="5.795" fill="#dea6de"/><rect x="515.90" y="559.12" width="18.35" height="5.795" fill="#dea6de"/><rect x="515.90" y="564.62" width="18.35" height="5.795" fill="#cd76cd"/><rect x="515.90" y="570.12" width="18.35" height="5.795" fill="#dea6de"/><rect x="515.90" y="575.61" width="18.35" height="5.795" fill="#dea6de"/><rect x="515.90" y="581.11" width="18.35" height="5.795" fill="#dea6de"/><rect x="515.90" y="586.60" width="18.35" height="5.795" fill="#dea6de"/><rect x="515.90" y="592.10" width="18.35" height="5.795" fill="#dea6de"/><rect x="515.90" y="597.59" width="18.35" height="5.795" fill="#dea6de"/><rect x="515.90" y="603.09" width="18.35" height="5.795" fill="#dea6de"/><rect x="515.90" y="608.58" width="18.35" height="5.795" fill="#dea6de"/><rect x="515.90" y="614.08" width="18.35" height="5.795" fill="#cd76cd"/><rect x="515.90" y="619.57" width="18.35" height="5.795" fill="#dea6de"/><rect x="515.90" y="625.07" width="18.35" height="5.795" fill="#dea6de"/><rect x="515.90" y="630.56" width="18.35" height="5.795" fill="#dea6de"/><rect x="515.90" y="636.06" width="18.35" height="5.795" fill="#eed3ee"/><rect x="515.90" y="641.55" width="18.35" height="5.795" fill="#fafcfc"/><rect x="515.90" y="647.05" width="18.35" height="5.795" fill="#f6ebf6"/><rect x="515.90" y="652.54" width="18.35" height="5.795" fill="#fafcfc"/><rect x="515.90" y="658.04" width="18.35" height="5.795" fill="#dea6de"/><rect x="515.90" y="663.53" width="18.35" height="5.795" fill="#78efd2"/><rect x="515.90" y="669.03" width="18.35" height="5.795" fill="#dffaf3"/><rect x="515.90" y="674.52" width="18.35" height="5.795" fill="#dffaf3"/><rect x="515.90" y="680.02" width="18.35" height="5.795" fill="#fafcfc"/><rect x="515.90" y="685.51" width="18.35" height="5.795" fill="#dffaf3"/><rect x="515.90" y="691.00" width="18.35" height="5.795" fill="#dffaf3"/><rect x="515.90" y="696.50" width="18.35" height="5.795" fill="#fafcfc"/><rect x="515.90" y="702.00" width="18.35" height="5.795" fill="#78efd2"/><rect x="515.90" y="707.49" width="18.35" height="5.795" fill="#c0f6e8"/><rect x="515.90" y="712.99" width="18.35" height="5.795" fill="#c0f6e8"/><rect x="515.90" y="718.48" width="18.35" height="5.795" fill="#97f1dc"/><rect x="515.90" y="723.98" width="18.35" height="5.795" fill="#c0f6e8"/><rect x="515.90" y="729.47" width="18.35" height="5.795" fill="#c0f6e8"/><rect x="515.90" y="734.97" width="18.35" height="5.795" fill="#c0f6e8"/><rect x="515.90" y="740.46" width="18.35" height="5.795" fill="#78efd2"/><rect x="515.90" y="745.96" width="18.35" height="5.795" fill="#78efd2"/><rect x="515.90" y="751.45" width="18.35" height="5.795" fill="#c0f6e8"/><rect x="515.90" y="756.94" width="18.35" height="5.795" fill="#c0f6e8"/><rect x="515.90" y="762.44" width="18.35" height="5.795" fill="#78efd2"/><rect x="515.90" y="767.93" width="18.35" height="5.795" fill="#97f1dc"/><rect x="515.90" y="773.43" width="18.35" height="5.795" fill="#dffaf3"/><rect x="515.90" y="778.92" width="18.35" height="5.795" fill="#c0f6e8"/><rect x="515.90" y="784.42" width="18.35" height="5.795" fill="#97f1dc"/><rect x="515.90" y="789.91" width="18.35" height="5.795" fill="#97f1dc"/><rect x="515.90" y="795.41" width="18.35" height="5.795" fill="#c0f6e8"/><rect x="515.90" y="800.90" width="18.35" height="5.795" fill="#78efd2"/><rect x="515.90" y="806.40" width="18.35" height="5.795" fill="#c0f6e8"/><rect x="515.90" y="811.89" width="18.35" height="5.795" fill="#78efd2"/><rect x="515.90" y="817.39" width="18.35" height="5.795" fill="#f6ebf6"/><rect x="534.25" y="366.80" width="18.35" height="5.795" fill="#dea6de"/><rect x="534.25" y="372.30" width="18.35" height="5.795" fill="#dea6de"/><rect x="534.25" y="377.79" width="18.35" height="5.795" fill="#cd76cd"/><rect x="534.25" y="383.29" width="18.35" height="5.795" fill="#dea6de"/><rect x="534.25" y="388.78" width="18.35" height="5.795" fill="#cd76cd"/><rect x="534.25" y="394.28" width="18.35" height="5.795" fill="#eed3ee"/><rect x="534.25" y="399.77" width="18.35" height="5.795" fill="#dea6de"/><rect x="534.25" y="405.26" width="18.35" height="5.795" fill="#dea6de"/><rect x="534.25" y="410.76" width="18.35" height="5.795" fill="#c0f6e8"/><rect x="534.25" y="416.25" width="18.35" height="5.795" fill="#f6ebf6"/><rect x="534.25" y="421.75" width="18.35" height="5.795" fill="#dffaf3"/><rect x="534.25" y="427.25" width="18.35" height="5.795" fill="#f6ebf6"/><rect x="534.25" y="432.74" width="18.35" height="5.795" fill="#dea6de"/><rect x="534.25" y="438.24" width="18.35" height="5.795" fill="#eed3ee"/><rect x="534.25" y="443.73" width="18.35" height="5.795" fill="#97f1dc"/><rect x="534.25" y="449.23" width="18.35" height="5.795" fill="#97f1dc"/><rect x="534.25" y="454.72" width="18.35" height="5.795" fill="#c0f6e8"/><rect x="534.25" y="460.22" width="18.35" height="5.795" fill="#c0f6e8"/><rect x="534.25" y="465.71" width="18.35" height="5.795" fill="#c0f6e8"/><rect x="534.25" y="471.21" width="18.35" height="5.795" fill="#97f1dc"/><rect x="534.25" y="476.70" width="18.35" height="5.795" fill="#78efd2"/><rect x="534.25" y="482.19" width="18.35" height="5.795" fill="#78efd2"/><rect x="534.25" y="487.69" width="18.35" height="5.795" fill="#97f1dc"/><rect x="534.25" y="493.19" width="18.35" height="5.795" fill="#78efd2"/><rect x="534.25" y="498.68" width="18.35" height="5.795" fill="#78efd2"/><rect x="534.25" y="504.18" width="18.35" height="5.795" fill="#c0f6e8"/><rect x="534.25" y="509.67" width="18.35" height="5.795" fill="#97f1dc"/><rect x="534.25" y="515.16" width="18.35" height="5.795" fill="#97f1dc"/><rect x="534.25" y="520.66" width="18.35" height="5.795" fill="#97f1dc"/><rect x="534.25" y="526.15" width="18.35" height="5.795" fill="#78efd2"/><rect x="534.25" y="531.65" width="18.35" height="5.795" fill="#c0f6e8"/><rect x="534.25" y="537.14" width="18.35" height="5.795" fill="#97f1dc"/><rect x="534.25" y="542.64" width="18.35" height="5.795" fill="#78efd2"/><rect x="534.25" y="548.13" width="18.35" height="5.795" fill="#dffaf3"/><rect x="534.25" y="553.63" width="18.35" height="5.795" fill="#dffaf3"/><rect x="534.25" y="559.12" width="18.35" height="5.795" fill="#c0f6e8"/><rect x="534.25" y="564.62" width="18.35" height="5.795" fill="#c0f6e8"/><rect x="534.25" y="570.12" width="18.35" height="5.795" fill="#c0f6e8"/><rect x="534.25" y="575.61" width="18.35" height="5.795" fill="#c0f6e8"/><rect x="534.25" y="581.11" width="18.35" height="5.795" fill="#f6ebf6"/><rect x="534.25" y="586.60" width="18.35" height="5.795" fill="#f6ebf6"/><rect x="534.25" y="592.10" width="18.35" height="5.795" fill="#fafcfc"/><rect x="534.25" y="597.59" width="18.35" height="5.795" fill="#f6ebf6"/><rect x="534.25" y="603.09" width="18.35" height="5.795" fill="#f6ebf6"/><rect x="534.25" y="608.58" width="18.35" height="5.795" fill="#f6ebf6"/><rect x="534.25" y="614.08" width="18.35" height="5.795" fill="#f6ebf6"/><rect x="534.25" y="619.57" width="18.35" height="5.795" fill="#f6ebf6"/><rect x="534.25" y="625.07" width="18.35" height="5.795" fill="#dea6de"/><rect x="534.25" y="630.56" width="18.35" height="5.795" fill="#dffaf3"/><rect x="534.25" y="636.06" width="18.35" height="5.795" fill="#c0f6e8"/><rect x="534.25" y="641.55" width="18.35" height="5.795" fill="#97f1dc"/><rect x="534.25" y="647.05" width="18.35" height="5.795" fill="#c0f6e8"/><rect x="534.25" y="652.54" width="18.35" height="5.795" fill="#c0f6e8"/><rect x="534.25" y="658.04" width="18.35" height="5.795" fill="#c0f6e8"/><rect x="534.25" y="663.53" width="18.35" height="5.795" fill="#c0f6e8"/><rect x="534.25" y="669.03" width="18.35" height="5.795" fill="#97f1dc"/><rect x="534.25" y="674.52" width="18.35" height="5.795" fill="#78efd2"/><rect x="534.25" y="680.02" width="18.35" height="5.795" fill="#78efd2"/><rect x="534.25" y="685.51" width="18.35" height="5.795" fill="#78efd2"/><rect x="534.25" y="691.00" width="18.35" height="5.795" fill="#97f1dc"/><rect x="534.25" y="696.50" width="18.35" height="5.795" fill="#78efd2"/><rect x="534.25" y="702.00" width="18.35" height="5.795" fill="#78efd2"/><rect x="534.25" y="707.49" width="18.35" height="5.795" fill="#78efd2"/><rect x="534.25" y="712.99" width="18.35" height="5.795" fill="#97f1dc"/><rect x="534.25" y="718.48" width="18.35" height="5.795" fill="#97f1dc"/><rect x="534.25" y="723.98" width="18.35" height="5.795" fill="#97f1dc"/><rect x="534.25" y="729.47" width="18.35" height="5.795" fill="#97f1dc"/><rect x="534.25" y="734.97" width="18.35" height="5.795" fill="#78efd2"/><rect x="534.25" y="740.46" width="18.35" height="5.795" fill="#97f1dc"/><rect x="534.25" y="745.96" width="18.35" height="5.795" fill="#c0f6e8"/><rect x="534.25" y="751.45" width="18.35" height="5.795" fill="#c0f6e8"/><rect x="534.25" y="756.94" width="18.35" height="5.795" fill="#c0f6e8"/><rect x="534.25" y="762.44" width="18.35" height="5.795" fill="#dffaf3"/><rect x="534.25" y="767.93" width="18.35" height="5.795" fill="#c0f6e8"/><rect x="534.25" y="773.43" width="18.35" height="5.795" fill="#dffaf3"/><rect x="534.25" y="778.92" width="18.35" height="5.795" fill="#dffaf3"/><rect x="534.25" y="784.42" width="18.35" height="5.795" fill="#c0f6e8"/><rect x="534.25" y="789.91" width="18.35" height="5.795" fill="#dffaf3"/><rect x="534.25" y="795.41" width="18.35" height="5.795" fill="#c0f6e8"/><rect x="534.25" y="800.90" width="18.35" height="5.795" fill="#dffaf3"/><rect x="534.25" y="806.40" width="18.35" height="5.795" fill="#dffaf3"/><rect x="534.25" y="811.89" width="18.35" height="5.795" fill="#c0f6e8"/><rect x="534.25" y="817.39" width="18.35" height="5.795" fill="#c0f6e8"/><rect x="552.60" y="366.80" width="18.35" height="5.795" fill="#dea6de"/><rect x="552.60" y="372.30" width="18.35" height="5.795" fill="#dea6de"/><rect x="552.60" y="377.79" width="18.35" height="5.795" fill="#dea6de"/><rect x="552.60" y="383.29" width="18.35" height="5.795" fill="#dea6de"/><rect x="552.60" y="388.78" width="18.35" height="5.795" fill="#cd76cd"/><rect x="552.60" y="394.28" width="18.35" height="5.795" fill="#cd76cd"/><rect x="552.60" y="399.77" width="18.35" height="5.795" fill="#cd76cd"/><rect x="552.60" y="405.26" width="18.35" height="5.795" fill="#dea6de"/><rect x="552.60" y="410.76" width="18.35" height="5.795" fill="#fafcfc"/><rect x="552.60" y="416.25" width="18.35" height="5.795" fill="#eed3ee"/><rect x="552.60" y="421.75" width="18.35" height="5.795" fill="#f6ebf6"/><rect x="552.60" y="427.25" width="18.35" height="5.795" fill="#f6ebf6"/><rect x="552.60" y="432.74" width="18.35" height="5.795" fill="#eed3ee"/><rect x="552.60" y="438.24" width="18.35" height="5.795" fill="#eed3ee"/><rect x="552.60" y="443.73" width="18.35" height="5.795" fill="#f6ebf6"/><rect x="552.60" y="449.23" width="18.35" height="5.795" fill="#dffaf3"/><rect x="552.60" y="454.72" width="18.35" height="5.795" fill="#dffaf3"/><rect x="552.60" y="460.22" width="18.35" height="5.795" fill="#dffaf3"/><rect x="552.60" y="465.71" width="18.35" height="5.795" fill="#dffaf3"/><rect x="552.60" y="471.21" width="18.35" height="5.795" fill="#dffaf3"/><rect x="552.60" y="476.70" width="18.35" height="5.795" fill="#78efd2"/><rect x="552.60" y="482.19" width="18.35" height="5.795" fill="#fafcfc"/><rect x="552.60" y="487.69" width="18.35" height="5.795" fill="#dffaf3"/><rect x="552.60" y="493.19" width="18.35" height="5.795" fill="#dffaf3"/><rect x="552.60" y="498.68" width="18.35" height="5.795" fill="#f6ebf6"/><rect x="552.60" y="504.18" width="18.35" height="5.795" fill="#dea6de"/><rect x="552.60" y="509.67" width="18.35" height="5.795" fill="#eed3ee"/><rect x="552.60" y="515.16" width="18.35" height="5.795" fill="#f6ebf6"/><rect x="552.60" y="520.66" width="18.35" height="5.795" fill="#f6ebf6"/><rect x="552.60" y="526.15" width="18.35" height="5.795" fill="#dea6de"/><rect x="552.60" y="531.65" width="18.35" height="5.795" fill="#fafcfc"/><rect x="552.60" y="537.14" width="18.35" height="5.795" fill="#78efd2"/><rect x="552.60" y="542.64" width="18.35" height="5.795" fill="#78efd2"/><rect x="552.60" y="548.13" width="18.35" height="5.795" fill="#dea6de"/><rect x="552.60" y="553.63" width="18.35" height="5.795" fill="#dea6de"/><rect x="552.60" y="559.12" width="18.35" height="5.795" fill="#dea6de"/><rect x="552.60" y="564.62" width="18.35" height="5.795" fill="#dea6de"/><rect x="552.60" y="570.12" width="18.35" height="5.795" fill="#eed3ee"/><rect x="552.60" y="575.61" width="18.35" height="5.795" fill="#dea6de"/><rect x="552.60" y="581.11" width="18.35" height="5.795" fill="#dea6de"/><rect x="552.60" y="586.60" width="18.35" height="5.795" fill="#dea6de"/><rect x="552.60" y="592.10" width="18.35" height="5.795" fill="#eed3ee"/><rect x="552.60" y="597.59" width="18.35" height="5.795" fill="#dea6de"/><rect x="552.60" y="603.09" width="18.35" height="5.795" fill="#dea6de"/><rect x="552.60" y="608.58" width="18.35" height="5.795" fill="#dea6de"/><rect x="552.60" y="614.08" width="18.35" height="5.795" fill="#eed3ee"/><rect x="552.60" y="619.57" width="18.35" height="5.795" fill="#f6ebf6"/><rect x="552.60" y="625.07" width="18.35" height="5.795" fill="#dea6de"/><rect x="552.60" y="630.56" width="18.35" height="5.795" fill="#78efd2"/><rect x="552.60" y="636.06" width="18.35" height="5.795" fill="#78efd2"/><rect x="552.60" y="641.55" width="18.35" height="5.795" fill="#dffaf3"/><rect x="552.60" y="647.05" width="18.35" height="5.795" fill="#78efd2"/><rect x="552.60" y="652.54" width="18.35" height="5.795" fill="#78efd2"/><rect x="552.60" y="658.04" width="18.35" height="5.795" fill="#eed3ee"/><rect x="552.60" y="663.53" width="18.35" height="5.795" fill="#78efd2"/><rect x="552.60" y="669.03" width="18.35" height="5.795" fill="#78efd2"/><rect x="552.60" y="674.52" width="18.35" height="5.795" fill="#78efd2"/><rect x="552.60" y="680.02" width="18.35" height="5.795" fill="#78efd2"/><rect x="552.60" y="685.51" width="18.35" height="5.795" fill="#c0f6e8"/><rect x="552.60" y="691.00" width="18.35" height="5.795" fill="#78efd2"/><rect x="552.60" y="696.50" width="18.35" height="5.795" fill="#78efd2"/><rect x="552.60" y="702.00" width="18.35" height="5.795" fill="#78efd2"/><rect x="552.60" y="707.49" width="18.35" height="5.795" fill="#78efd2"/><rect x="552.60" y="712.99" width="18.35" height="5.795" fill="#78efd2"/><rect x="552.60" y="718.48" width="18.35" height="5.795" fill="#78efd2"/><rect x="552.60" y="723.98" width="18.35" height="5.795" fill="#78efd2"/><rect x="552.60" y="729.47" width="18.35" height="5.795" fill="#97f1dc"/><rect x="552.60" y="734.97" width="18.35" height="5.795" fill="#78efd2"/><rect x="552.60" y="740.46" width="18.35" height="5.795" fill="#97f1dc"/><rect x="552.60" y="745.96" width="18.35" height="5.795" fill="#78efd2"/><rect x="552.60" y="751.45" width="18.35" height="5.795" fill="#78efd2"/><rect x="552.60" y="756.94" width="18.35" height="5.795" fill="#78efd2"/><rect x="552.60" y="762.44" width="18.35" height="5.795" fill="#78efd2"/><rect x="552.60" y="767.93" width="18.35" height="5.795" fill="#78efd2"/><rect x="552.60" y="773.43" width="18.35" height="5.795" fill="#78efd2"/><rect x="552.60" y="778.92" width="18.35" height="5.795" fill="#78efd2"/><rect x="552.60" y="784.42" width="18.35" height="5.795" fill="#78efd2"/><rect x="552.60" y="789.91" width="18.35" height="5.795" fill="#78efd2"/><rect x="552.60" y="795.41" width="18.35" height="5.795" fill="#78efd2"/><rect x="552.60" y="800.90" width="18.35" height="5.795" fill="#78efd2"/><rect x="552.60" y="806.40" width="18.35" height="5.795" fill="#78efd2"/><rect x="552.60" y="811.89" width="18.35" height="5.795" fill="#78efd2"/><rect x="552.60" y="817.39" width="18.35" height="5.795" fill="#78efd2"/><rect x="570.95" y="366.80" width="18.35" height="5.795" fill="#fafcfc"/><rect x="570.95" y="372.30" width="18.35" height="5.795" fill="#f6ebf6"/><rect x="570.95" y="377.79" width="18.35" height="5.795" fill="#dea6de"/><rect x="570.95" y="383.29" width="18.35" height="5.795" fill="#eed3ee"/><rect x="570.95" y="388.78" width="18.35" height="5.795" fill="#eed3ee"/><rect x="570.95" y="394.28" width="18.35" height="5.795" fill="#f6ebf6"/><rect x="570.95" y="399.77" width="18.35" height="5.795" fill="#f6ebf6"/><rect x="570.95" y="405.26" width="18.35" height="5.795" fill="#fafcfc"/><rect x="570.95" y="410.76" width="18.35" height="5.795" fill="#c0f6e8"/><rect x="570.95" y="416.25" width="18.35" height="5.795" fill="#fafcfc"/><rect x="570.95" y="421.75" width="18.35" height="5.795" fill="#dffaf3"/><rect x="570.95" y="427.25" width="18.35" height="5.795" fill="#dffaf3"/><rect x="570.95" y="432.74" width="18.35" height="5.795" fill="#dffaf3"/><rect x="570.95" y="438.24" width="18.35" height="5.795" fill="#dffaf3"/><rect x="570.95" y="443.73" width="18.35" height="5.795" fill="#eed3ee"/><rect x="570.95" y="449.23" width="18.35" height="5.795" fill="#f6ebf6"/><rect x="570.95" y="454.72" width="18.35" height="5.795" fill="#dffaf3"/><rect x="570.95" y="460.22" width="18.35" height="5.795" fill="#f6ebf6"/><rect x="570.95" y="465.71" width="18.35" height="5.795" fill="#f6ebf6"/><rect x="570.95" y="471.21" width="18.35" height="5.795" fill="#f6ebf6"/><rect x="570.95" y="476.70" width="18.35" height="5.795" fill="#cd76cd"/><rect x="570.95" y="482.19" width="18.35" height="5.795" fill="#cd76cd"/><rect x="570.95" y="487.69" width="18.35" height="5.795" fill="#eed3ee"/><rect x="570.95" y="493.19" width="18.35" height="5.795" fill="#dea6de"/><rect x="570.95" y="498.68" width="18.35" height="5.795" fill="#dea6de"/><rect x="570.95" y="504.18" width="18.35" height="5.795" fill="#dea6de"/><rect x="570.95" y="509.67" width="18.35" height="5.795" fill="#cd76cd"/><rect x="570.95" y="515.16" width="18.35" height="5.795" fill="#dea6de"/><rect x="570.95" y="520.66" width="18.35" height="5.795" fill="#dea6de"/><rect x="570.95" y="526.15" width="18.35" height="5.795" fill="#dea6de"/><rect x="570.95" y="531.65" width="18.35" height="5.795" fill="#dea6de"/><rect x="570.95" y="537.14" width="18.35" height="5.795" fill="#eed3ee"/><rect x="570.95" y="542.64" width="18.35" height="5.795" fill="#cd76cd"/><rect x="570.95" y="548.13" width="18.35" height="5.795" fill="#eed3ee"/><rect x="570.95" y="553.63" width="18.35" height="5.795" fill="#eed3ee"/><rect x="570.95" y="559.12" width="18.35" height="5.795" fill="#dea6de"/><rect x="570.95" y="564.62" width="18.35" height="5.795" fill="#dea6de"/><rect x="570.95" y="570.12" width="18.35" height="5.795" fill="#cd76cd"/><rect x="570.95" y="575.61" width="18.35" height="5.795" fill="#dea6de"/><rect x="570.95" y="581.11" width="18.35" height="5.795" fill="#f6ebf6"/><rect x="570.95" y="586.60" width="18.35" height="5.795" fill="#f6ebf6"/><rect x="570.95" y="592.10" width="18.35" height="5.795" fill="#f6ebf6"/><rect x="570.95" y="597.59" width="18.35" height="5.795" fill="#f6ebf6"/><rect x="570.95" y="603.09" width="18.35" height="5.795" fill="#f6ebf6"/><rect x="570.95" y="608.58" width="18.35" height="5.795" fill="#f6ebf6"/><rect x="570.95" y="614.08" width="18.35" height="5.795" fill="#eed3ee"/><rect x="570.95" y="619.57" width="18.35" height="5.795" fill="#f6ebf6"/><rect x="570.95" y="625.07" width="18.35" height="5.795" fill="#f6ebf6"/><rect x="570.95" y="630.56" width="18.35" height="5.795" fill="#78efd2"/><rect x="570.95" y="636.06" width="18.35" height="5.795" fill="#f6ebf6"/><rect x="570.95" y="641.55" width="18.35" height="5.795" fill="#eed3ee"/><rect x="570.95" y="647.05" width="18.35" height="5.795" fill="#f6ebf6"/><rect x="570.95" y="652.54" width="18.35" height="5.795" fill="#f6ebf6"/><rect x="570.95" y="658.04" width="18.35" height="5.795" fill="#eed3ee"/><rect x="570.95" y="663.53" width="18.35" height="5.795" fill="#fafcfc"/><rect x="570.95" y="669.03" width="18.35" height="5.795" fill="#fafcfc"/><rect x="570.95" y="674.52" width="18.35" height="5.795" fill="#fafcfc"/><rect x="570.95" y="680.02" width="18.35" height="5.795" fill="#dea6de"/><rect x="570.95" y="685.51" width="18.35" height="5.795" fill="#dea6de"/><rect x="570.95" y="691.00" width="18.35" height="5.795" fill="#f6ebf6"/><rect x="570.95" y="696.50" width="18.35" height="5.795" fill="#f6ebf6"/><rect x="570.95" y="702.00" width="18.35" height="5.795" fill="#78efd2"/><rect x="570.95" y="707.49" width="18.35" height="5.795" fill="#eed3ee"/><rect x="570.95" y="712.99" width="18.35" height="5.795" fill="#eed3ee"/><rect x="570.95" y="718.48" width="18.35" height="5.795" fill="#dea6de"/><rect x="570.95" y="723.98" width="18.35" height="5.795" fill="#dea6de"/><rect x="570.95" y="729.47" width="18.35" height="5.795" fill="#eed3ee"/><rect x="570.95" y="734.97" width="18.35" height="5.795" fill="#eed3ee"/><rect x="570.95" y="740.46" width="18.35" height="5.795" fill="#fafcfc"/><rect x="570.95" y="745.96" width="18.35" height="5.795" fill="#fafcfc"/><rect x="570.95" y="751.45" width="18.35" height="5.795" fill="#dffaf3"/><rect x="570.95" y="756.94" width="18.35" height="5.795" fill="#fafcfc"/><rect x="570.95" y="762.44" width="18.35" height="5.795" fill="#78efd2"/><rect x="570.95" y="767.93" width="18.35" height="5.795" fill="#c0f6e8"/><rect x="570.95" y="773.43" width="18.35" height="5.795" fill="#78efd2"/><rect x="570.95" y="778.92" width="18.35" height="5.795" fill="#dffaf3"/><rect x="570.95" y="784.42" width="18.35" height="5.795" fill="#fafcfc"/><rect x="570.95" y="789.91" width="18.35" height="5.795" fill="#dffaf3"/><rect x="570.95" y="795.41" width="18.35" height="5.795" fill="#eed3ee"/><rect x="570.95" y="800.90" width="18.35" height="5.795" fill="#78efd2"/><rect x="570.95" y="806.40" width="18.35" height="5.795" fill="#78efd2"/><rect x="570.95" y="811.89" width="18.35" height="5.795" fill="#78efd2"/><rect x="570.95" y="817.39" width="18.35" height="5.795" fill="#fafcfc"/><rect x="589.30" y="366.80" width="18.35" height="5.795" fill="#78efd2"/><rect x="589.30" y="372.30" width="18.35" height="5.795" fill="#78efd2"/><rect x="589.30" y="377.79" width="18.35" height="5.795" fill="#78efd2"/><rect x="589.30" y="383.29" width="18.35" height="5.795" fill="#78efd2"/><rect x="589.30" y="388.78" width="18.35" height="5.795" fill="#97f1dc"/><rect x="589.30" y="394.28" width="18.35" height="5.795" fill="#78efd2"/><rect x="589.30" y="399.77" width="18.35" height="5.795" fill="#78efd2"/><rect x="589.30" y="405.26" width="18.35" height="5.795" fill="#78efd2"/><rect x="589.30" y="410.76" width="18.35" height="5.795" fill="#78efd2"/><rect x="589.30" y="416.25" width="18.35" height="5.795" fill="#78efd2"/><rect x="589.30" y="421.75" width="18.35" height="5.795" fill="#78efd2"/><rect x="589.30" y="427.25" width="18.35" height="5.795" fill="#78efd2"/><rect x="589.30" y="432.74" width="18.35" height="5.795" fill="#78efd2"/><rect x="589.30" y="438.24" width="18.35" height="5.795" fill="#78efd2"/><rect x="589.30" y="443.73" width="18.35" height="5.795" fill="#c0f6e8"/><rect x="589.30" y="449.23" width="18.35" height="5.795" fill="#c0f6e8"/><rect x="589.30" y="454.72" width="18.35" height="5.795" fill="#dffaf3"/><rect x="589.30" y="460.22" width="18.35" height="5.795" fill="#dffaf3"/><rect x="589.30" y="465.71" width="18.35" height="5.795" fill="#c0f6e8"/><rect x="589.30" y="471.21" width="18.35" height="5.795" fill="#c0f6e8"/><rect x="589.30" y="476.70" width="18.35" height="5.795" fill="#c0f6e8"/><rect x="589.30" y="482.19" width="18.35" height="5.795" fill="#c0f6e8"/><rect x="589.30" y="487.69" width="18.35" height="5.795" fill="#c0f6e8"/><rect x="589.30" y="493.19" width="18.35" height="5.795" fill="#c0f6e8"/><rect x="589.30" y="498.68" width="18.35" height="5.795" fill="#c0f6e8"/><rect x="589.30" y="504.18" width="18.35" height="5.795" fill="#97f1dc"/><rect x="589.30" y="509.67" width="18.35" height="5.795" fill="#97f1dc"/><rect x="589.30" y="515.16" width="18.35" height="5.795" fill="#97f1dc"/><rect x="589.30" y="520.66" width="18.35" height="5.795" fill="#97f1dc"/><rect x="589.30" y="526.15" width="18.35" height="5.795" fill="#97f1dc"/><rect x="589.30" y="531.65" width="18.35" height="5.795" fill="#97f1dc"/><rect x="589.30" y="537.14" width="18.35" height="5.795" fill="#c0f6e8"/><rect x="589.30" y="542.64" width="18.35" height="5.795" fill="#c0f6e8"/><rect x="589.30" y="548.13" width="18.35" height="5.795" fill="#78efd2"/><rect x="589.30" y="553.63" width="18.35" height="5.795" fill="#97f1dc"/><rect x="589.30" y="559.12" width="18.35" height="5.795" fill="#97f1dc"/><rect x="589.30" y="564.62" width="18.35" height="5.795" fill="#97f1dc"/><rect x="589.30" y="570.12" width="18.35" height="5.795" fill="#97f1dc"/><rect x="589.30" y="575.61" width="18.35" height="5.795" fill="#78efd2"/><rect x="589.30" y="581.11" width="18.35" height="5.795" fill="#97f1dc"/><rect x="589.30" y="586.60" width="18.35" height="5.795" fill="#97f1dc"/><rect x="589.30" y="592.10" width="18.35" height="5.795" fill="#c0f6e8"/><rect x="589.30" y="597.59" width="18.35" height="5.795" fill="#97f1dc"/><rect x="589.30" y="603.09" width="18.35" height="5.795" fill="#97f1dc"/><rect x="589.30" y="608.58" width="18.35" height="5.795" fill="#97f1dc"/><rect x="589.30" y="614.08" width="18.35" height="5.795" fill="#c0f6e8"/><rect x="589.30" y="619.57" width="18.35" height="5.795" fill="#c0f6e8"/><rect x="589.30" y="625.07" width="18.35" height="5.795" fill="#97f1dc"/><rect x="589.30" y="630.56" width="18.35" height="5.795" fill="#dffaf3"/><rect x="589.30" y="636.06" width="18.35" height="5.795" fill="#dffaf3"/><rect x="589.30" y="641.55" width="18.35" height="5.795" fill="#fafcfc"/><rect x="589.30" y="647.05" width="18.35" height="5.795" fill="#f6ebf6"/><rect x="589.30" y="652.54" width="18.35" height="5.795" fill="#f6ebf6"/><rect x="589.30" y="658.04" width="18.35" height="5.795" fill="#dffaf3"/><rect x="589.30" y="663.53" width="18.35" height="5.795" fill="#dffaf3"/><rect x="589.30" y="669.03" width="18.35" height="5.795" fill="#dffaf3"/><rect x="589.30" y="674.52" width="18.35" height="5.795" fill="#dffaf3"/><rect x="589.30" y="680.02" width="18.35" height="5.795" fill="#dffaf3"/><rect x="589.30" y="685.51" width="18.35" height="5.795" fill="#c0f6e8"/><rect x="589.30" y="691.00" width="18.35" height="5.795" fill="#c0f6e8"/><rect x="589.30" y="696.50" width="18.35" height="5.795" fill="#c0f6e8"/><rect x="589.30" y="702.00" width="18.35" height="5.795" fill="#fafcfc"/><rect x="589.30" y="707.49" width="18.35" height="5.795" fill="#dffaf3"/><rect x="589.30" y="712.99" width="18.35" height="5.795" fill="#fafcfc"/><rect x="589.30" y="718.48" width="18.35" height="5.795" fill="#fafcfc"/><rect x="589.30" y="723.98" width="18.35" height="5.795" fill="#c0f6e8"/><rect x="589.30" y="729.47" width="18.35" height="5.795" fill="#dffaf3"/><rect x="589.30" y="734.97" width="18.35" height="5.795" fill="#dffaf3"/><rect x="589.30" y="740.46" width="18.35" height="5.795" fill="#eed3ee"/><rect x="589.30" y="745.96" width="18.35" height="5.795" fill="#fafcfc"/><rect x="589.30" y="751.45" width="18.35" height="5.795" fill="#dffaf3"/><rect x="589.30" y="756.94" width="18.35" height="5.795" fill="#f6ebf6"/><rect x="589.30" y="762.44" width="18.35" height="5.795" fill="#cd76cd"/><rect x="589.30" y="767.93" width="18.35" height="5.795" fill="#cd76cd"/><rect x="589.30" y="773.43" width="18.35" height="5.795" fill="#dea6de"/><rect x="589.30" y="778.92" width="18.35" height="5.795" fill="#dea6de"/><rect x="589.30" y="784.42" width="18.35" height="5.795" fill="#f6ebf6"/><rect x="589.30" y="789.91" width="18.35" height="5.795" fill="#eed3ee"/><rect x="589.30" y="795.41" width="18.35" height="5.795" fill="#dea6de"/><rect x="589.30" y="800.90" width="18.35" height="5.795" fill="#f6ebf6"/><rect x="589.30" y="806.40" width="18.35" height="5.795" fill="#eed3ee"/><rect x="589.30" y="811.89" width="18.35" height="5.795" fill="#cd76cd"/><rect x="589.30" y="817.39" width="18.35" height="5.795" fill="#cd76cd"/><rect x="607.65" y="366.80" width="18.35" height="5.795" fill="#dea6de"/><rect x="607.65" y="372.30" width="18.35" height="5.795" fill="#f6ebf6"/><rect x="607.65" y="377.79" width="18.35" height="5.795" fill="#f6ebf6"/><rect x="607.65" y="383.29" width="18.35" height="5.795" fill="#fafcfc"/><rect x="607.65" y="388.78" width="18.35" height="5.795" fill="#eed3ee"/><rect x="607.65" y="394.28" width="18.35" height="5.795" fill="#dea6de"/><rect x="607.65" y="399.77" width="18.35" height="5.795" fill="#f6ebf6"/><rect x="607.65" y="405.26" width="18.35" height="5.795" fill="#dea6de"/><rect x="607.65" y="410.76" width="18.35" height="5.795" fill="#dea6de"/><rect x="607.65" y="416.25" width="18.35" height="5.795" fill="#dea6de"/><rect x="607.65" y="421.75" width="18.35" height="5.795" fill="#dea6de"/><rect x="607.65" y="427.25" width="18.35" height="5.795" fill="#cd76cd"/><rect x="607.65" y="432.74" width="18.35" height="5.795" fill="#cd76cd"/><rect x="607.65" y="438.24" width="18.35" height="5.795" fill="#eed3ee"/><rect x="607.65" y="443.73" width="18.35" height="5.795" fill="#97f1dc"/><rect x="607.65" y="449.23" width="18.35" height="5.795" fill="#97f1dc"/><rect x="607.65" y="454.72" width="18.35" height="5.795" fill="#97f1dc"/><rect x="607.65" y="460.22" width="18.35" height="5.795" fill="#78efd2"/><rect x="607.65" y="465.71" width="18.35" height="5.795" fill="#78efd2"/><rect x="607.65" y="471.21" width="18.35" height="5.795" fill="#97f1dc"/><rect x="607.65" y="476.70" width="18.35" height="5.795" fill="#78efd2"/><rect x="607.65" y="482.19" width="18.35" height="5.795" fill="#97f1dc"/><rect x="607.65" y="487.69" width="18.35" height="5.795" fill="#97f1dc"/><rect x="607.65" y="493.19" width="18.35" height="5.795" fill="#97f1dc"/><rect x="607.65" y="498.68" width="18.35" height="5.795" fill="#78efd2"/><rect x="607.65" y="504.18" width="18.35" height="5.795" fill="#97f1dc"/><rect x="607.65" y="509.67" width="18.35" height="5.795" fill="#97f1dc"/><rect x="607.65" y="515.16" width="18.35" height="5.795" fill="#97f1dc"/><rect x="607.65" y="520.66" width="18.35" height="5.795" fill="#97f1dc"/><rect x="607.65" y="526.15" width="18.35" height="5.795" fill="#97f1dc"/><rect x="607.65" y="531.65" width="18.35" height="5.795" fill="#97f1dc"/><rect x="607.65" y="537.14" width="18.35" height="5.795" fill="#78efd2"/><rect x="607.65" y="542.64" width="18.35" height="5.795" fill="#78efd2"/><rect x="607.65" y="548.13" width="18.35" height="5.795" fill="#fafcfc"/><rect x="607.65" y="553.63" width="18.35" height="5.795" fill="#dffaf3"/><rect x="607.65" y="559.12" width="18.35" height="5.795" fill="#c0f6e8"/><rect x="607.65" y="564.62" width="18.35" height="5.795" fill="#dffaf3"/><rect x="607.65" y="570.12" width="18.35" height="5.795" fill="#dffaf3"/><rect x="607.65" y="575.61" width="18.35" height="5.795" fill="#dffaf3"/><rect x="607.65" y="581.11" width="18.35" height="5.795" fill="#dffaf3"/><rect x="607.65" y="586.60" width="18.35" height="5.795" fill="#dffaf3"/><rect x="607.65" y="592.10" width="18.35" height="5.795" fill="#c0f6e8"/><rect x="607.65" y="597.59" width="18.35" height="5.795" fill="#c0f6e8"/><rect x="607.65" y="603.09" width="18.35" height="5.795" fill="#c0f6e8"/><rect x="607.65" y="608.58" width="18.35" height="5.795" fill="#c0f6e8"/><rect x="607.65" y="614.08" width="18.35" height="5.795" fill="#c0f6e8"/><rect x="607.65" y="619.57" width="18.35" height="5.795" fill="#c0f6e8"/><rect x="607.65" y="625.07" width="18.35" height="5.795" fill="#fafcfc"/><rect x="607.65" y="630.56" width="18.35" height="5.795" fill="#78efd2"/><rect x="607.65" y="636.06" width="18.35" height="5.795" fill="#78efd2"/><rect x="607.65" y="641.55" width="18.35" height="5.795" fill="#78efd2"/><rect x="607.65" y="647.05" width="18.35" height="5.795" fill="#78efd2"/><rect x="607.65" y="652.54" width="18.35" height="5.795" fill="#78efd2"/><rect x="607.65" y="658.04" width="18.35" height="5.795" fill="#78efd2"/><rect x="607.65" y="663.53" width="18.35" height="5.795" fill="#97f1dc"/><rect x="607.65" y="669.03" width="18.35" height="5.795" fill="#97f1dc"/><rect x="607.65" y="674.52" width="18.35" height="5.795" fill="#78efd2"/><rect x="607.65" y="680.02" width="18.35" height="5.795" fill="#78efd2"/><rect x="607.65" y="685.51" width="18.35" height="5.795" fill="#78efd2"/><rect x="607.65" y="691.00" width="18.35" height="5.795" fill="#97f1dc"/><rect x="607.65" y="696.50" width="18.35" height="5.795" fill="#78efd2"/><rect x="607.65" y="702.00" width="18.35" height="5.795" fill="#78efd2"/><rect x="607.65" y="707.49" width="18.35" height="5.795" fill="#97f1dc"/><rect x="607.65" y="712.99" width="18.35" height="5.795" fill="#78efd2"/><rect x="607.65" y="718.48" width="18.35" height="5.795" fill="#78efd2"/><rect x="607.65" y="723.98" width="18.35" height="5.795" fill="#78efd2"/><rect x="607.65" y="729.47" width="18.35" height="5.795" fill="#78efd2"/><rect x="607.65" y="734.97" width="18.35" height="5.795" fill="#78efd2"/><rect x="607.65" y="740.46" width="18.35" height="5.795" fill="#78efd2"/><rect x="607.65" y="745.96" width="18.35" height="5.795" fill="#78efd2"/><rect x="607.65" y="751.45" width="18.35" height="5.795" fill="#78efd2"/><rect x="607.65" y="756.94" width="18.35" height="5.795" fill="#78efd2"/><rect x="607.65" y="762.44" width="18.35" height="5.795" fill="#78efd2"/><rect x="607.65" y="767.93" width="18.35" height="5.795" fill="#78efd2"/><rect x="607.65" y="773.43" width="18.35" height="5.795" fill="#78efd2"/><rect x="607.65" y="778.92" width="18.35" height="5.795" fill="#78efd2"/><rect x="607.65" y="784.42" width="18.35" height="5.795" fill="#78efd2"/><rect x="607.65" y="789.91" width="18.35" height="5.795" fill="#78efd2"/><rect x="607.65" y="795.41" width="18.35" height="5.795" fill="#78efd2"/><rect x="607.65" y="800.90" width="18.35" height="5.795" fill="#78efd2"/><rect x="607.65" y="806.40" width="18.35" height="5.795" fill="#78efd2"/><rect x="607.65" y="811.89" width="18.35" height="5.795" fill="#78efd2"/><rect x="607.65" y="817.39" width="18.35" height="5.795" fill="#78efd2"/><rect x="626.00" y="366.80" width="18.35" height="5.795" fill="#dffaf3"/><rect x="626.00" y="372.30" width="18.35" height="5.795" fill="#c0f6e8"/><rect x="626.00" y="377.79" width="18.35" height="5.795" fill="#dffaf3"/><rect x="626.00" y="383.29" width="18.35" height="5.795" fill="#78efd2"/><rect x="626.00" y="388.78" width="18.35" height="5.795" fill="#78efd2"/><rect x="626.00" y="394.28" width="18.35" height="5.795" fill="#78efd2"/><rect x="626.00" y="399.77" width="18.35" height="5.795" fill="#c0f6e8"/><rect x="626.00" y="405.26" width="18.35" height="5.795" fill="#dffaf3"/><rect x="626.00" y="410.76" width="18.35" height="5.795" fill="#78efd2"/><rect x="626.00" y="416.25" width="18.35" height="5.795" fill="#c0f6e8"/><rect x="626.00" y="421.75" width="18.35" height="5.795" fill="#97f1dc"/><rect x="626.00" y="427.25" width="18.35" height="5.795" fill="#97f1dc"/><rect x="626.00" y="432.74" width="18.35" height="5.795" fill="#78efd2"/><rect x="626.00" y="438.24" width="18.35" height="5.795" fill="#c0f6e8"/><rect x="626.00" y="443.73" width="18.35" height="5.795" fill="#f6ebf6"/><rect x="626.00" y="449.23" width="18.35" height="5.795" fill="#f6ebf6"/><rect x="626.00" y="454.72" width="18.35" height="5.795" fill="#eed3ee"/><rect x="626.00" y="460.22" width="18.35" height="5.795" fill="#dea6de"/><rect x="626.00" y="465.71" width="18.35" height="5.795" fill="#eed3ee"/><rect x="626.00" y="471.21" width="18.35" height="5.795" fill="#f6ebf6"/><rect x="626.00" y="476.70" width="18.35" height="5.795" fill="#dea6de"/><rect x="626.00" y="482.19" width="18.35" height="5.795" fill="#dea6de"/><rect x="626.00" y="487.69" width="18.35" height="5.795" fill="#eed3ee"/><rect x="626.00" y="493.19" width="18.35" height="5.795" fill="#f6ebf6"/><rect x="626.00" y="498.68" width="18.35" height="5.795" fill="#f6ebf6"/><rect x="626.00" y="504.18" width="18.35" height="5.795" fill="#f6ebf6"/><rect x="626.00" y="509.67" width="18.35" height="5.795" fill="#eed3ee"/><rect x="626.00" y="515.16" width="18.35" height="5.795" fill="#f6ebf6"/><rect x="626.00" y="520.66" width="18.35" height="5.795" fill="#fafcfc"/><rect x="626.00" y="526.15" width="18.35" height="5.795" fill="#f6ebf6"/><rect x="626.00" y="531.65" width="18.35" height="5.795" fill="#f6ebf6"/><rect x="626.00" y="537.14" width="18.35" height="5.795" fill="#f6ebf6"/><rect x="626.00" y="542.64" width="18.35" height="5.795" fill="#dea6de"/><rect x="626.00" y="548.13" width="18.35" height="5.795" fill="#c0f6e8"/><rect x="626.00" y="553.63" width="18.35" height="5.795" fill="#fafcfc"/><rect x="626.00" y="559.12" width="18.35" height="5.795" fill="#dffaf3"/><rect x="626.00" y="564.62" width="18.35" height="5.795" fill="#dffaf3"/><rect x="626.00" y="570.12" width="18.35" height="5.795" fill="#dffaf3"/><rect x="626.00" y="575.61" width="18.35" height="5.795" fill="#c0f6e8"/><rect x="626.00" y="581.11" width="18.35" height="5.795" fill="#dffaf3"/><rect x="626.00" y="586.60" width="18.35" height="5.795" fill="#dffaf3"/><rect x="626.00" y="592.10" width="18.35" height="5.795" fill="#f6ebf6"/><rect x="626.00" y="597.59" width="18.35" height="5.795" fill="#dffaf3"/><rect x="626.00" y="603.09" width="18.35" height="5.795" fill="#fafcfc"/><rect x="626.00" y="608.58" width="18.35" height="5.795" fill="#dffaf3"/><rect x="626.00" y="614.08" width="18.35" height="5.795" fill="#f6ebf6"/><rect x="626.00" y="619.57" width="18.35" height="5.795" fill="#dffaf3"/><rect x="626.00" y="625.07" width="18.35" height="5.795" fill="#dffaf3"/><rect x="626.00" y="630.56" width="18.35" height="5.795" fill="#dea6de"/><rect x="626.00" y="636.06" width="18.35" height="5.795" fill="#eed3ee"/><rect x="626.00" y="641.55" width="18.35" height="5.795" fill="#eed3ee"/><rect x="626.00" y="647.05" width="18.35" height="5.795" fill="#f6ebf6"/><rect x="626.00" y="652.54" width="18.35" height="5.795" fill="#eed3ee"/><rect x="626.00" y="658.04" width="18.35" height="5.795" fill="#cd76cd"/><rect x="626.00" y="663.53" width="18.35" height="5.795" fill="#dffaf3"/><rect x="626.00" y="669.03" width="18.35" height="5.795" fill="#dffaf3"/><rect x="626.00" y="674.52" width="18.35" height="5.795" fill="#f6ebf6"/><rect x="626.00" y="680.02" width="18.35" height="5.795" fill="#fafcfc"/><rect x="626.00" y="685.51" width="18.35" height="5.795" fill="#fafcfc"/><rect x="626.00" y="691.00" width="18.35" height="5.795" fill="#fafcfc"/><rect x="626.00" y="696.50" width="18.35" height="5.795" fill="#f6ebf6"/><rect x="626.00" y="702.00" width="18.35" height="5.795" fill="#dffaf3"/><rect x="626.00" y="707.49" width="18.35" height="5.795" fill="#fafcfc"/><rect x="626.00" y="712.99" width="18.35" height="5.795" fill="#c0f6e8"/><rect x="626.00" y="718.48" width="18.35" height="5.795" fill="#c0f6e8"/><rect x="626.00" y="723.98" width="18.35" height="5.795" fill="#c0f6e8"/><rect x="626.00" y="729.47" width="18.35" height="5.795" fill="#dffaf3"/><rect x="626.00" y="734.97" width="18.35" height="5.795" fill="#dffaf3"/><rect x="626.00" y="740.46" width="18.35" height="5.795" fill="#97f1dc"/><rect x="626.00" y="745.96" width="18.35" height="5.795" fill="#c0f6e8"/><rect x="626.00" y="751.45" width="18.35" height="5.795" fill="#dffaf3"/><rect x="626.00" y="756.94" width="18.35" height="5.795" fill="#dffaf3"/><rect x="626.00" y="762.44" width="18.35" height="5.795" fill="#97f1dc"/><rect x="626.00" y="767.93" width="18.35" height="5.795" fill="#c0f6e8"/><rect x="626.00" y="773.43" width="18.35" height="5.795" fill="#c0f6e8"/><rect x="626.00" y="778.92" width="18.35" height="5.795" fill="#c0f6e8"/><rect x="626.00" y="784.42" width="18.35" height="5.795" fill="#c0f6e8"/><rect x="626.00" y="789.91" width="18.35" height="5.795" fill="#c0f6e8"/><rect x="626.00" y="795.41" width="18.35" height="5.795" fill="#78efd2"/><rect x="626.00" y="800.90" width="18.35" height="5.795" fill="#dffaf3"/><rect x="626.00" y="806.40" width="18.35" height="5.795" fill="#dffaf3"/><rect x="626.00" y="811.89" width="18.35" height="5.795" fill="#dffaf3"/><rect x="626.00" y="817.39" width="18.35" height="5.795" fill="#dffaf3"/><rect x="644.35" y="366.80" width="18.35" height="5.795" fill="#dea6de"/><rect x="644.35" y="372.30" width="18.35" height="5.795" fill="#f6ebf6"/><rect x="644.35" y="377.79" width="18.35" height="5.795" fill="#eed3ee"/><rect x="644.35" y="383.29" width="18.35" height="5.795" fill="#dea6de"/><rect x="644.35" y="388.78" width="18.35" height="5.795" fill="#eed3ee"/><rect x="644.35" y="394.28" width="18.35" height="5.795" fill="#eed3ee"/><rect x="644.35" y="399.77" width="18.35" height="5.795" fill="#cd76cd"/><rect x="644.35" y="405.26" width="18.35" height="5.795" fill="#eed3ee"/><rect x="644.35" y="410.76" width="18.35" height="5.795" fill="#fafcfc"/><rect x="644.35" y="416.25" width="18.35" height="5.795" fill="#eed3ee"/><rect x="644.35" y="421.75" width="18.35" height="5.795" fill="#fafcfc"/><rect x="644.35" y="427.25" width="18.35" height="5.795" fill="#fafcfc"/><rect x="644.35" y="432.74" width="18.35" height="5.795" fill="#eed3ee"/><rect x="644.35" y="438.24" width="18.35" height="5.795" fill="#eed3ee"/><rect x="644.35" y="443.73" width="18.35" height="5.795" fill="#dffaf3"/><rect x="644.35" y="449.23" width="18.35" height="5.795" fill="#dffaf3"/><rect x="644.35" y="454.72" width="18.35" height="5.795" fill="#dffaf3"/><rect x="644.35" y="460.22" width="18.35" height="5.795" fill="#fafcfc"/><rect x="644.35" y="465.71" width="18.35" height="5.795" fill="#dffaf3"/><rect x="644.35" y="471.21" width="18.35" height="5.795" fill="#dffaf3"/><rect x="644.35" y="476.70" width="18.35" height="5.795" fill="#78efd2"/><rect x="644.35" y="482.19" width="18.35" height="5.795" fill="#fafcfc"/><rect x="644.35" y="487.69" width="18.35" height="5.795" fill="#dea6de"/><rect x="644.35" y="493.19" width="18.35" height="5.795" fill="#dea6de"/><rect x="644.35" y="498.68" width="18.35" height="5.795" fill="#dea6de"/><rect x="644.35" y="504.18" width="18.35" height="5.795" fill="#eed3ee"/><rect x="644.35" y="509.67" width="18.35" height="5.795" fill="#cd76cd"/><rect x="644.35" y="515.16" width="18.35" height="5.795" fill="#eed3ee"/><rect x="644.35" y="520.66" width="18.35" height="5.795" fill="#dea6de"/><rect x="644.35" y="526.15" width="18.35" height="5.795" fill="#dea6de"/><rect x="644.35" y="531.65" width="18.35" height="5.795" fill="#fafcfc"/><rect x="644.35" y="537.14" width="18.35" height="5.795" fill="#dea6de"/><rect x="644.35" y="542.64" width="18.35" height="5.795" fill="#eed3ee"/><rect x="644.35" y="548.13" width="18.35" height="5.795" fill="#f6ebf6"/><rect x="644.35" y="553.63" width="18.35" height="5.795" fill="#dea6de"/><rect x="644.35" y="559.12" width="18.35" height="5.795" fill="#dea6de"/><rect x="644.35" y="564.62" width="18.35" height="5.795" fill="#eed3ee"/><rect x="644.35" y="570.12" width="18.35" height="5.795" fill="#eed3ee"/><rect x="644.35" y="575.61" width="18.35" height="5.795" fill="#dea6de"/><rect x="644.35" y="581.11" width="18.35" height="5.795" fill="#eed3ee"/><rect x="644.35" y="586.60" width="18.35" height="5.795" fill="#eed3ee"/><rect x="644.35" y="592.10" width="18.35" height="5.795" fill="#eed3ee"/><rect x="644.35" y="597.59" width="18.35" height="5.795" fill="#eed3ee"/><rect x="644.35" y="603.09" width="18.35" height="5.795" fill="#f6ebf6"/><rect x="644.35" y="608.58" width="18.35" height="5.795" fill="#dea6de"/><rect x="644.35" y="614.08" width="18.35" height="5.795" fill="#fafcfc"/><rect x="644.35" y="619.57" width="18.35" height="5.795" fill="#f6ebf6"/><rect x="644.35" y="625.07" width="18.35" height="5.795" fill="#78efd2"/><rect x="644.35" y="630.56" width="18.35" height="5.795" fill="#78efd2"/><rect x="644.35" y="636.06" width="18.35" height="5.795" fill="#78efd2"/><rect x="644.35" y="641.55" width="18.35" height="5.795" fill="#78efd2"/><rect x="644.35" y="647.05" width="18.35" height="5.795" fill="#eed3ee"/><rect x="644.35" y="652.54" width="18.35" height="5.795" fill="#78efd2"/><rect x="644.35" y="658.04" width="18.35" height="5.795" fill="#eed3ee"/><rect x="644.35" y="663.53" width="18.35" height="5.795" fill="#dffaf3"/><rect x="644.35" y="669.03" width="18.35" height="5.795" fill="#78efd2"/><rect x="644.35" y="674.52" width="18.35" height="5.795" fill="#78efd2"/><rect x="644.35" y="680.02" width="18.35" height="5.795" fill="#eed3ee"/><rect x="644.35" y="685.51" width="18.35" height="5.795" fill="#dffaf3"/><rect x="644.35" y="691.00" width="18.35" height="5.795" fill="#f6ebf6"/><rect x="644.35" y="696.50" width="18.35" height="5.795" fill="#cd76cd"/><rect x="644.35" y="702.00" width="18.35" height="5.795" fill="#fafcfc"/><rect x="644.35" y="707.49" width="18.35" height="5.795" fill="#78efd2"/><rect x="644.35" y="712.99" width="18.35" height="5.795" fill="#78efd2"/><rect x="644.35" y="718.48" width="18.35" height="5.795" fill="#c0f6e8"/><rect x="644.35" y="723.98" width="18.35" height="5.795" fill="#c0f6e8"/><rect x="644.35" y="729.47" width="18.35" height="5.795" fill="#78efd2"/><rect x="644.35" y="734.97" width="18.35" height="5.795" fill="#78efd2"/><rect x="644.35" y="740.46" width="18.35" height="5.795" fill="#97f1dc"/><rect x="644.35" y="745.96" width="18.35" height="5.795" fill="#c0f6e8"/><rect x="644.35" y="751.45" width="18.35" height="5.795" fill="#c0f6e8"/><rect x="644.35" y="756.94" width="18.35" height="5.795" fill="#78efd2"/><rect x="644.35" y="762.44" width="18.35" height="5.795" fill="#78efd2"/><rect x="644.35" y="767.93" width="18.35" height="5.795" fill="#78efd2"/><rect x="644.35" y="773.43" width="18.35" height="5.795" fill="#dffaf3"/><rect x="644.35" y="778.92" width="18.35" height="5.795" fill="#c0f6e8"/><rect x="644.35" y="784.42" width="18.35" height="5.795" fill="#78efd2"/><rect x="644.35" y="789.91" width="18.35" height="5.795" fill="#c0f6e8"/><rect x="644.35" y="795.41" width="18.35" height="5.795" fill="#c0f6e8"/><rect x="644.35" y="800.90" width="18.35" height="5.795" fill="#78efd2"/><rect x="644.35" y="806.40" width="18.35" height="5.795" fill="#78efd2"/><rect x="644.35" y="811.89" width="18.35" height="5.795" fill="#78efd2"/><rect x="644.35" y="817.39" width="18.35" height="5.795" fill="#f6ebf6"/><rect x="662.70" y="366.80" width="18.35" height="5.795" fill="#78efd2"/><rect x="662.70" y="372.30" width="18.35" height="5.795" fill="#78efd2"/><rect x="662.70" y="377.79" width="18.35" height="5.795" fill="#78efd2"/><rect x="662.70" y="383.29" width="18.35" height="5.795" fill="#78efd2"/><rect x="662.70" y="388.78" width="18.35" height="5.795" fill="#78efd2"/><rect x="662.70" y="394.28" width="18.35" height="5.795" fill="#78efd2"/><rect x="662.70" y="399.77" width="18.35" height="5.795" fill="#78efd2"/><rect x="662.70" y="405.26" width="18.35" height="5.795" fill="#78efd2"/><rect x="662.70" y="410.76" width="18.35" height="5.795" fill="#78efd2"/><rect x="662.70" y="416.25" width="18.35" height="5.795" fill="#78efd2"/><rect x="662.70" y="421.75" width="18.35" height="5.795" fill="#78efd2"/><rect x="662.70" y="427.25" width="18.35" height="5.795" fill="#78efd2"/><rect x="662.70" y="432.74" width="18.35" height="5.795" fill="#78efd2"/><rect x="662.70" y="438.24" width="18.35" height="5.795" fill="#78efd2"/><rect x="662.70" y="443.73" width="18.35" height="5.795" fill="#78efd2"/><rect x="662.70" y="449.23" width="18.35" height="5.795" fill="#78efd2"/><rect x="662.70" y="454.72" width="18.35" height="5.795" fill="#78efd2"/><rect x="662.70" y="460.22" width="18.35" height="5.795" fill="#78efd2"/><rect x="662.70" y="465.71" width="18.35" height="5.795" fill="#78efd2"/><rect x="662.70" y="471.21" width="18.35" height="5.795" fill="#78efd2"/><rect x="662.70" y="476.70" width="18.35" height="5.795" fill="#78efd2"/><rect x="662.70" y="482.19" width="18.35" height="5.795" fill="#78efd2"/><rect x="662.70" y="487.69" width="18.35" height="5.795" fill="#78efd2"/><rect x="662.70" y="493.19" width="18.35" height="5.795" fill="#78efd2"/><rect x="662.70" y="498.68" width="18.35" height="5.795" fill="#78efd2"/><rect x="662.70" y="504.18" width="18.35" height="5.795" fill="#78efd2"/><rect x="662.70" y="509.67" width="18.35" height="5.795" fill="#78efd2"/><rect x="662.70" y="515.16" width="18.35" height="5.795" fill="#78efd2"/><rect x="662.70" y="520.66" width="18.35" height="5.795" fill="#78efd2"/><rect x="662.70" y="526.15" width="18.35" height="5.795" fill="#78efd2"/><rect x="662.70" y="531.65" width="18.35" height="5.795" fill="#78efd2"/><rect x="662.70" y="537.14" width="18.35" height="5.795" fill="#78efd2"/><rect x="662.70" y="542.64" width="18.35" height="5.795" fill="#78efd2"/><rect x="662.70" y="548.13" width="18.35" height="5.795" fill="#78efd2"/><rect x="662.70" y="553.63" width="18.35" height="5.795" fill="#78efd2"/><rect x="662.70" y="559.12" width="18.35" height="5.795" fill="#78efd2"/><rect x="662.70" y="564.62" width="18.35" height="5.795" fill="#78efd2"/><rect x="662.70" y="570.12" width="18.35" height="5.795" fill="#78efd2"/><rect x="662.70" y="575.61" width="18.35" height="5.795" fill="#78efd2"/><rect x="662.70" y="581.11" width="18.35" height="5.795" fill="#78efd2"/><rect x="662.70" y="586.60" width="18.35" height="5.795" fill="#78efd2"/><rect x="662.70" y="592.10" width="18.35" height="5.795" fill="#78efd2"/><rect x="662.70" y="597.59" width="18.35" height="5.795" fill="#78efd2"/><rect x="662.70" y="603.09" width="18.35" height="5.795" fill="#78efd2"/><rect x="662.70" y="608.58" width="18.35" height="5.795" fill="#78efd2"/><rect x="662.70" y="614.08" width="18.35" height="5.795" fill="#78efd2"/><rect x="662.70" y="619.57" width="18.35" height="5.795" fill="#78efd2"/><rect x="662.70" y="625.07" width="18.35" height="5.795" fill="#78efd2"/><rect x="662.70" y="630.56" width="18.35" height="5.795" fill="#78efd2"/><rect x="662.70" y="636.06" width="18.35" height="5.795" fill="#78efd2"/><rect x="662.70" y="641.55" width="18.35" height="5.795" fill="#78efd2"/><rect x="662.70" y="647.05" width="18.35" height="5.795" fill="#78efd2"/><rect x="662.70" y="652.54" width="18.35" height="5.795" fill="#78efd2"/><rect x="662.70" y="658.04" width="18.35" height="5.795" fill="#78efd2"/><rect x="662.70" y="663.53" width="18.35" height="5.795" fill="#78efd2"/><rect x="662.70" y="669.03" width="18.35" height="5.795" fill="#78efd2"/><rect x="662.70" y="674.52" width="18.35" height="5.795" fill="#78efd2"/><rect x="662.70" y="680.02" width="18.35" height="5.795" fill="#78efd2"/><rect x="662.70" y="685.51" width="18.35" height="5.795" fill="#78efd2"/><rect x="662.70" y="691.00" width="18.35" height="5.795" fill="#78efd2"/><rect x="662.70" y="696.50" width="18.35" height="5.795" fill="#78efd2"/><rect x="662.70" y="702.00" width="18.35" height="5.795" fill="#dea6de"/><rect x="662.70" y="707.49" width="18.35" height="5.795" fill="#eed3ee"/><rect x="662.70" y="712.99" width="18.35" height="5.795" fill="#cd76cd"/><rect x="662.70" y="718.48" width="18.35" height="5.795" fill="#cd76cd"/><rect x="662.70" y="723.98" width="18.35" height="5.795" fill="#dea6de"/><rect x="662.70" y="729.47" width="18.35" height="5.795" fill="#eed3ee"/><rect x="662.70" y="734.97" width="18.35" height="5.795" fill="#dea6de"/><rect x="662.70" y="740.46" width="18.35" height="5.795" fill="#cd76cd"/><rect x="662.70" y="745.96" width="18.35" height="5.795" fill="#78efd2"/><rect x="662.70" y="751.45" width="18.35" height="5.795" fill="#78efd2"/><rect x="662.70" y="756.94" width="18.35" height="5.795" fill="#78efd2"/><rect x="662.70" y="762.44" width="18.35" height="5.795" fill="#dffaf3"/><rect x="662.70" y="767.93" width="18.35" height="5.795" fill="#c0f6e8"/><rect x="662.70" y="773.43" width="18.35" height="5.795" fill="#c0f6e8"/><rect x="662.70" y="778.92" width="18.35" height="5.795" fill="#c0f6e8"/><rect x="662.70" y="784.42" width="18.35" height="5.795" fill="#c0f6e8"/><rect x="662.70" y="789.91" width="18.35" height="5.795" fill="#97f1dc"/><rect x="662.70" y="795.41" width="18.35" height="5.795" fill="#97f1dc"/><rect x="662.70" y="800.90" width="18.35" height="5.795" fill="#97f1dc"/><rect x="662.70" y="806.40" width="18.35" height="5.795" fill="#97f1dc"/><rect x="662.70" y="811.89" width="18.35" height="5.795" fill="#97f1dc"/><rect x="662.70" y="817.39" width="18.35" height="5.795" fill="#97f1dc"/></g>
<rect x="222.30" y="349.0" width="110.10" height="17.80" fill="#2171b5"/>
<rect x="332.40" y="349.0" width="55.05" height="17.80" fill="#fd7f0e"/>
<rect x="387.45" y="349.0" width="18.35" height="17.80" fill="#aac4e6"/>
<rect x="405.80" y="349.0" width="18.35" height="17.80" fill="#2171b5"/>
<rect x="424.15" y="349.0" width="36.70" height="17.80" fill="#fd7f0e"/>
<rect x="460.85" y="349.0" width="18.35" height="17.80" fill="#2171b5"/>
<rect x="479.20" y="349.0" width="36.70" height="17.80" fill="#fd7f0e"/>
<rect x="515.90" y="349.0" width="18.35" height="17.80" fill="#2171b5"/>
<rect x="534.25" y="349.0" width="18.35" height="17.80" fill="#aac4e6"/>
<rect x="552.60" y="349.0" width="36.70" height="17.80" fill="#2171b5"/>
<rect x="589.30" y="349.0" width="18.35" height="17.80" fill="#fd7f0e"/>
<rect x="607.65" y="349.0" width="18.35" height="17.80" fill="#aac4e6"/>
<rect x="626.00" y="349.0" width="36.70" height="17.80" fill="#2171b5"/>
<rect x="662.70" y="349.0" width="18.35" height="17.80" fill="#000000"/>
<g font-family="Liberation Sans, sans-serif" shape-rendering="auto">
<rect x="126.05" y="56.04" width="16.5" height="239.66" fill="#22122e" shape-rendering="crispEdges"/>
<rect x="142.55" y="92.51" width="16.5" height="203.19" fill="#ab9fc6" shape-rendering="crispEdges"/>
<rect x="159.05" y="144.61" width="16.5" height="151.09" fill="#80e1c9" shape-rendering="crispEdges"/>
<rect x="175.55" y="87.30" width="16.5" height="208.40" fill="#c079c0" shape-rendering="crispEdges"/>
<rect x="209.15" y="40.41" width="16.5" height="255.29" fill="#22122e" shape-rendering="crispEdges"/>
<rect x="225.65" y="45.62" width="16.5" height="250.08" fill="#ab9fc6" shape-rendering="crispEdges"/>
<rect x="242.15" y="76.88" width="16.5" height="218.82" fill="#80e1c9" shape-rendering="crispEdges"/>
<rect x="258.65" y="43.01" width="16.5" height="252.69" fill="#c079c0" shape-rendering="crispEdges"/>
<rect x="292.25" y="37.81" width="16.5" height="257.89" fill="#22122e" shape-rendering="crispEdges"/>
<rect x="308.75" y="37.81" width="16.5" height="257.89" fill="#ab9fc6" shape-rendering="crispEdges"/>
<rect x="325.25" y="87.30" width="16.5" height="208.40" fill="#80e1c9" shape-rendering="crispEdges"/>
<rect x="341.75" y="40.41" width="16.5" height="255.29" fill="#c079c0" shape-rendering="crispEdges"/>
<line x1="117.4" y1="165.45" x2="366.6" y2="165.45" stroke="#858585" stroke-width="1.4" stroke-dasharray="4.2 2.3"/>
<rect x="117.4" y="24.8" width="249.20" height="270.90" fill="none" stroke="#4d4d4d" stroke-width="0.9"/>
<line x1="113.60" y1="295.70" x2="117.4" y2="295.70" stroke="#4d4d4d" stroke-width="0.9"/>
<text x="104.60" y="301.80" font-size="12.5" text-anchor="end" fill="#111111" textLength="18.00" lengthAdjust="spacing" >0.0</text>
<line x1="113.60" y1="243.60" x2="117.4" y2="243.60" stroke="#4d4d4d" stroke-width="0.9"/>
<text x="104.60" y="249.70" font-size="12.5" text-anchor="end" fill="#111111" textLength="18.00" lengthAdjust="spacing" >0.2</text>
<line x1="113.60" y1="191.50" x2="117.4" y2="191.50" stroke="#4d4d4d" stroke-width="0.9"/>
<text x="104.60" y="197.60" font-size="12.5" text-anchor="end" fill="#111111" textLength="18.00" lengthAdjust="spacing" >0.4</text>
<line x1="113.60" y1="139.40" x2="117.4" y2="139.40" stroke="#4d4d4d" stroke-width="0.9"/>
<text x="104.60" y="145.50" font-size="12.5" text-anchor="end" fill="#111111" textLength="18.00" lengthAdjust="spacing" >0.6</text>
<line x1="113.60" y1="87.30" x2="117.4" y2="87.30" stroke="#4d4d4d" stroke-width="0.9"/>
<text x="104.60" y="93.40" font-size="12.5" text-anchor="end" fill="#111111" textLength="18.00" lengthAdjust="spacing" >0.8</text>
<line x1="113.60" y1="35.20" x2="117.4" y2="35.20" stroke="#4d4d4d" stroke-width="0.9"/>
<text x="104.60" y="41.30" font-size="12.5" text-anchor="end" fill="#111111" textLength="18.00" lengthAdjust="spacing" >1.0</text>
<line x1="159.05" y1="295.7" x2="159.05" y2="299.50" stroke="#4d4d4d" stroke-width="0.9"/>
<text x="159.05" y="317.90" font-size="12" text-anchor="middle" fill="#111111" textLength="22.80" lengthAdjust="spacing" >Day</text>
<line x1="242.15" y1="295.7" x2="242.15" y2="299.50" stroke="#4d4d4d" stroke-width="0.9"/>
<text x="242.15" y="317.90" font-size="12" text-anchor="middle" fill="#111111" textLength="75.20" lengthAdjust="spacing" >Temperature</text>
<line x1="325.25" y1="295.7" x2="325.25" y2="299.50" stroke="#4d4d4d" stroke-width="0.9"/>
<text x="325.25" y="317.90" font-size="12" text-anchor="middle" fill="#111111" textLength="60.80" lengthAdjust="spacing" >Day-temp.</text>
<text x="241.60" y="19.90" font-size="13" text-anchor="middle" fill="#111111" textLength="148.50" lengthAdjust="spacing" >Prediction performances</text>
<text x="82.20" y="172.60" font-size="12.5" text-anchor="middle" fill="#111111" textLength="123.60" lengthAdjust="spacing" transform="rotate(-90 82.20 172.60)" >Macro-average AUC</text>
<text x="64.20" y="13.90" font-size="24" text-anchor="start" fill="#000" font-weight="bold" >a</text>
<rect x="385.5" y="39.5" width="167.3" height="91.7" rx="2" fill="#fff" stroke="#d9d9d9" stroke-width="0.9"/>
<line x1="389.9" y1="48.70" x2="413.9" y2="48.70" stroke="#858585" stroke-width="1.4" stroke-dasharray="4.2 2.3"/>
<text x="423.70" y="52.90" font-size="12" text-anchor="start" fill="#111111" textLength="123.00" lengthAdjust="spacing" >Random (AUC=&#160; 0.5)</text>
<rect x="389.9" y="62.40" width="24" height="7.8" fill="#22122e" shape-rendering="crispEdges"/>
<text x="423.70" y="70.50" font-size="12" text-anchor="start" fill="#111111" textLength="112.00" lengthAdjust="spacing" >HPLC and metadata</text>
<rect x="389.9" y="80.20" width="24" height="7.8" fill="#ab9fc6" shape-rendering="crispEdges"/>
<text x="423.70" y="88.30" font-size="12" text-anchor="start" fill="#111111" textLength="39.40" lengthAdjust="spacing" >FIA-MS</text>
<rect x="389.9" y="98.00" width="24" height="7.8" fill="#80e1c9" shape-rendering="crispEdges"/>
<text x="423.70" y="106.10" font-size="12" text-anchor="start" fill="#111111" textLength="123.40" lengthAdjust="spacing" >16S and ITS combined</text>
<rect x="389.9" y="115.80" width="24" height="7.8" fill="#c079c0" shape-rendering="crispEdges"/>
<text x="423.70" y="123.90" font-size="12" text-anchor="start" fill="#111111" textLength="118.50" lengthAdjust="spacing" >All layers integrated</text>
<rect x="385.5" y="143.5" width="167.9" height="86.7" rx="2" fill="#fff" stroke="#d9d9d9" stroke-width="0.9"/>
<rect x="396.2" y="157.60" width="23.6" height="8.2" fill="#2171b5" shape-rendering="crispEdges"/>
<text x="428.70" y="165.90" font-size="12" text-anchor="start" fill="#111111" textLength="54.10" lengthAdjust="spacing" >Cluster 0</text>
<rect x="396.2" y="174.00" width="23.6" height="8.2" fill="#aac4e6" shape-rendering="crispEdges"/>
<text x="428.70" y="182.30" font-size="12" text-anchor="start" fill="#111111" textLength="54.10" lengthAdjust="spacing" >Cluster 1</text>
<rect x="396.2" y="190.40" width="23.6" height="8.2" fill="#fd7f0e" shape-rendering="crispEdges"/>
<text x="428.70" y="198.70" font-size="12" text-anchor="start" fill="#111111" textLength="54.10" lengthAdjust="spacing" >Cluster 2</text>
<rect x="396.2" y="206.90" width="23.6" height="8.2" fill="#000000" shape-rendering="crispEdges"/>
<text x="428.70" y="215.20" font-size="12" text-anchor="start" fill="#111111" textLength="118.20" lengthAdjust="spacing" >No FIA-MS feature</text>
<defs><linearGradient id="cb" x1="0" x2="1" y1="0" y2="0"><stop offset="0" stop-color="#b0f5e4"/><stop offset="0.25" stop-color="#d6f9f0"/><stop offset="0.5" stop-color="#ffffff"/><stop offset="0.75" stop-color="#f0d6f1"/><stop offset="1" stop-color="#e0afe4"/></linearGradient></defs>
<rect x="389.3" y="239.3" width="163.00" height="24.20" fill="url(#cb)"/>
<line x1="389.30" y1="263.5" x2="389.30" y2="267.20" stroke="#4d4d4d" stroke-width="0.9"/>
<text x="389.30" y="285.10" font-size="12.5" text-anchor="middle" fill="#111111" >0.0</text>
<line x1="421.90" y1="263.5" x2="421.90" y2="267.20" stroke="#4d4d4d" stroke-width="0.9"/>
<text x="421.90" y="285.10" font-size="12.5" text-anchor="middle" fill="#111111" >0.2</text>
<line x1="454.50" y1="263.5" x2="454.50" y2="267.20" stroke="#4d4d4d" stroke-width="0.9"/>
<text x="454.50" y="285.10" font-size="12.5" text-anchor="middle" fill="#111111" >0.4</text>
<line x1="487.10" y1="263.5" x2="487.10" y2="267.20" stroke="#4d4d4d" stroke-width="0.9"/>
<text x="487.10" y="285.10" font-size="12.5" text-anchor="middle" fill="#111111" >0.6</text>
<line x1="519.70" y1="263.5" x2="519.70" y2="267.20" stroke="#4d4d4d" stroke-width="0.9"/>
<text x="519.70" y="285.10" font-size="12.5" text-anchor="middle" fill="#111111" >0.8</text>
<line x1="552.30" y1="263.5" x2="552.30" y2="267.20" stroke="#4d4d4d" stroke-width="0.9"/>
<text x="552.30" y="285.10" font-size="12.5" text-anchor="middle" fill="#111111" >1.0</text>
<text x="465.40" y="308.70" font-size="12" text-anchor="middle" fill="#111111" textLength="137.21" lengthAdjust="spacing" >Scaled feature intensity</text>
<rect x="577.1" y="39.5" width="107.2" height="251.2" rx="2" fill="#fff" stroke="#d9d9d9" stroke-width="0.9"/>
<rect x="580.9" y="55.00" width="23.3" height="8.6" fill="#9fc6fb" shape-rendering="crispEdges"/>
<text x="613.10" y="63.50" font-size="12" text-anchor="start" fill="#111111" textLength="22.25" lengthAdjust="spacing" >4°C</text>
<rect x="580.9" y="71.53" width="23.3" height="8.6" fill="#fdbb69" shape-rendering="crispEdges"/>
<text x="613.10" y="80.03" font-size="12" text-anchor="start" fill="#111111" textLength="29.63" lengthAdjust="spacing" >17°C</text>
<rect x="580.9" y="88.06" width="23.3" height="8.6" fill="#771a6d" shape-rendering="crispEdges"/>
<text x="613.10" y="96.56" font-size="12" text-anchor="start" fill="#111111" textLength="29.63" lengthAdjust="spacing" >30°C</text>
<text x="613.10" y="113.09" font-size="12" text-anchor="start" fill="#111111" textLength="34.64" lengthAdjust="spacing" >Day 1</text>
<rect x="580.9" y="121.12" width="23.3" height="8.6" fill="#f0f0f0" shape-rendering="crispEdges"/>
<text x="613.10" y="129.62" font-size="12" text-anchor="start" fill="#111111" textLength="34.64" lengthAdjust="spacing" >Day 2</text>
<rect x="580.9" y="137.65" width="23.3" height="8.6" fill="#dfdfdf" shape-rendering="crispEdges"/>
<text x="613.10" y="146.15" font-size="12" text-anchor="start" fill="#111111" textLength="34.64" lengthAdjust="spacing" >Day 3</text>
<rect x="580.9" y="154.18" width="23.3" height="8.6" fill="#cbcbcb" shape-rendering="crispEdges"/>
<text x="613.10" y="162.68" font-size="12" text-anchor="start" fill="#111111" textLength="34.64" lengthAdjust="spacing" >Day 4</text>
<rect x="580.9" y="170.71" width="23.3" height="8.6" fill="#b3b3b3" shape-rendering="crispEdges"/>
<text x="613.10" y="179.21" font-size="12" text-anchor="start" fill="#111111" textLength="34.64" lengthAdjust="spacing" >Day 5</text>
<rect x="580.9" y="187.24" width="23.3" height="8.6" fill="#979797" shape-rendering="crispEdges"/>
<text x="613.10" y="195.74" font-size="12" text-anchor="start" fill="#111111" textLength="34.64" lengthAdjust="spacing" >Day 6</text>
<rect x="580.9" y="203.77" width="23.3" height="8.6" fill="#7c7c7c" shape-rendering="crispEdges"/>
<text x="613.10" y="212.27" font-size="12" text-anchor="start" fill="#111111" textLength="34.64" lengthAdjust="spacing" >Day 7</text>
<rect x="580.9" y="220.30" width="23.3" height="8.6" fill="#646464" shape-rendering="crispEdges"/>
<text x="613.10" y="228.80" font-size="12" text-anchor="start" fill="#111111" textLength="42.01" lengthAdjust="spacing" >Day 10</text>
<rect x="580.9" y="236.83" width="23.3" height="8.6" fill="#404040" shape-rendering="crispEdges"/>
<text x="613.10" y="245.33" font-size="12" text-anchor="start" fill="#111111" textLength="42.01" lengthAdjust="spacing" >Day 14</text>
<rect x="580.9" y="253.36" width="23.3" height="8.6" fill="#1a1a1a" shape-rendering="crispEdges"/>
<text x="613.10" y="261.86" font-size="12" text-anchor="start" fill="#111111" textLength="42.01" lengthAdjust="spacing" >Day 21</text>
<rect x="580.9" y="269.89" width="23.3" height="8.6" fill="#000000" shape-rendering="crispEdges"/>
<text x="613.10" y="278.39" font-size="12" text-anchor="start" fill="#111111" textLength="42.01" lengthAdjust="spacing" >Day 28</text>
<text x="63.30" y="347.00" font-size="25" text-anchor="start" fill="#000" font-weight="bold" >b</text>
<text x="212.90" y="362.00" font-size="12" text-anchor="end" fill="#111111" textLength="106.90" lengthAdjust="spacing" >Metabolite cluster</text>
<line x1="218.5" y1="357.90" x2="222.3" y2="357.90" stroke="#4d4d4d" stroke-width="0.9"/>
<line x1="194.70" y1="822.88" x2="194.70" y2="826.59" stroke="#4d4d4d" stroke-width="0.9"/>
<text x="198.30" y="830.80" font-size="12" text-anchor="end" fill="#111111" textLength="77.00" lengthAdjust="spacing" transform="rotate(-90 198.30 830.80)" >Temperature</text>
<line x1="213.15" y1="822.88" x2="213.15" y2="826.59" stroke="#4d4d4d" stroke-width="0.9"/>
<text x="216.75" y="830.80" font-size="12" text-anchor="end" fill="#111111" textLength="23.30" lengthAdjust="spacing" transform="rotate(-90 216.75 830.80)" >Day</text>
<line x1="231.48" y1="822.88" x2="231.48" y2="826.59" stroke="#4d4d4d" stroke-width="0.9"/>
<text x="235.08" y="830.80" font-size="12" text-anchor="end" fill="#111111" textLength="70.60" lengthAdjust="spacing" transform="rotate(-90 235.08 830.80)" >Lucyoside J</text>
<line x1="249.83" y1="822.88" x2="249.83" y2="826.59" stroke="#4d4d4d" stroke-width="0.9"/>
<text x="253.43" y="830.80" font-size="12" text-anchor="end" fill="#111111" textLength="152.60" lengthAdjust="spacing" transform="rotate(-90 253.43 830.80)" >13-OH octadecenoic acid</text>
<line x1="268.18" y1="822.88" x2="268.18" y2="826.59" stroke="#4d4d4d" stroke-width="0.9"/>
<text x="271.78" y="830.80" font-size="12" text-anchor="end" fill="#111111" textLength="66.10" lengthAdjust="spacing" transform="rotate(-90 271.78 830.80)" >M712.4007</text>
<line x1="286.53" y1="822.88" x2="286.53" y2="826.59" stroke="#4d4d4d" stroke-width="0.9"/>
<text x="290.13" y="830.80" font-size="12" text-anchor="end" fill="#111111" textLength="58.10" lengthAdjust="spacing" transform="rotate(-90 290.13 830.80)" >M705.355</text>
<line x1="304.88" y1="822.88" x2="304.88" y2="826.59" stroke="#4d4d4d" stroke-width="0.9"/>
<text x="308.48" y="830.80" font-size="12" text-anchor="end" fill="#111111" textLength="58.10" lengthAdjust="spacing" transform="rotate(-90 308.48 830.80)" >M871.388</text>
<line x1="323.23" y1="822.88" x2="323.23" y2="826.59" stroke="#4d4d4d" stroke-width="0.9"/>
<text x="326.83" y="830.80" font-size="12" text-anchor="end" fill="#111111" textLength="65.20" lengthAdjust="spacing" transform="rotate(-90 326.83 830.80)" >M937.6324</text>
<line x1="341.58" y1="822.88" x2="341.58" y2="826.59" stroke="#4d4d4d" stroke-width="0.9"/>
<text x="345.18" y="830.80" font-size="12" text-anchor="end" fill="#111111" textLength="65.20" lengthAdjust="spacing" transform="rotate(-90 345.18 830.80)" >M980.3154</text>
<line x1="359.93" y1="822.88" x2="359.93" y2="826.59" stroke="#4d4d4d" stroke-width="0.9"/>
<text x="363.53" y="830.80" font-size="12" text-anchor="end" fill="#111111" textLength="83.70" lengthAdjust="spacing" transform="rotate(-90 363.53 830.80)" >Maltohexaose</text>
<line x1="378.28" y1="822.88" x2="378.28" y2="826.59" stroke="#4d4d4d" stroke-width="0.9"/>
<text x="381.88" y="830.80" font-size="12" text-anchor="end" fill="#111111" textLength="65.20" lengthAdjust="spacing" transform="rotate(-90 381.88 830.80)" >M439.0794</text>
<line x1="396.62" y1="822.88" x2="396.62" y2="826.59" stroke="#4d4d4d" stroke-width="0.9"/>
<text x="400.23" y="830.80" font-size="12" text-anchor="end" fill="#111111" textLength="133.00" lengthAdjust="spacing" transform="rotate(-90 400.23 830.80)" >Acidissiminol epoxide</text>
<line x1="414.98" y1="822.88" x2="414.98" y2="826.59" stroke="#4d4d4d" stroke-width="0.9"/>
<text x="418.58" y="830.80" font-size="12" text-anchor="end" fill="#111111" textLength="47.50" lengthAdjust="spacing" transform="rotate(-90 418.58 830.80)" >Biocytin</text>
<line x1="433.33" y1="822.88" x2="433.33" y2="826.59" stroke="#4d4d4d" stroke-width="0.9"/>
<text x="436.93" y="830.80" font-size="12" text-anchor="end" fill="#111111" textLength="82.00" lengthAdjust="spacing" transform="rotate(-90 436.93 830.80)" >Clavamycin A</text>
<line x1="451.68" y1="822.88" x2="451.68" y2="826.59" stroke="#4d4d4d" stroke-width="0.9"/>
<text x="455.28" y="830.80" font-size="12" text-anchor="end" fill="#111111" textLength="65.70" lengthAdjust="spacing" transform="rotate(-90 455.28 830.80)" >M494.1562</text>
<line x1="470.03" y1="822.88" x2="470.03" y2="826.59" stroke="#4d4d4d" stroke-width="0.9"/>
<text x="473.63" y="830.80" font-size="12" text-anchor="end" fill="#111111" textLength="65.70" lengthAdjust="spacing" transform="rotate(-90 473.63 830.80)" >M663.3298</text>
<line x1="488.38" y1="822.88" x2="488.38" y2="826.59" stroke="#4d4d4d" stroke-width="0.9"/>
<text x="491.98" y="830.80" font-size="12" text-anchor="end" fill="#111111" textLength="123.80" lengthAdjust="spacing" transform="rotate(-90 491.98 830.80)" >α-Galactosylglycerol</text>
<line x1="506.73" y1="822.88" x2="506.73" y2="826.59" stroke="#4d4d4d" stroke-width="0.9"/>
<text x="510.33" y="830.80" font-size="12" text-anchor="end" fill="#111111" textLength="65.70" lengthAdjust="spacing" transform="rotate(-90 510.33 830.80)" >M575.6843</text>
<line x1="525.08" y1="822.88" x2="525.08" y2="826.59" stroke="#4d4d4d" stroke-width="0.9"/>
<text x="528.68" y="830.80" font-size="12" text-anchor="end" fill="#111111" textLength="65.70" lengthAdjust="spacing" transform="rotate(-90 528.68 830.80)" >M937.4337</text>
<line x1="543.42" y1="822.88" x2="543.42" y2="826.59" stroke="#4d4d4d" stroke-width="0.9"/>
<text x="547.02" y="830.80" font-size="12" text-anchor="end" fill="#111111" textLength="139.20" lengthAdjust="spacing" transform="rotate(-90 547.02 830.80)" >4-Hydroxy-L-threonine</text>
<line x1="561.78" y1="822.88" x2="561.78" y2="826.59" stroke="#4d4d4d" stroke-width="0.9"/>
<text x="565.38" y="830.80" font-size="12" text-anchor="end" fill="#111111" textLength="58.00" lengthAdjust="spacing" transform="rotate(-90 565.38 830.80)" >M914.962</text>
<line x1="580.12" y1="822.88" x2="580.12" y2="826.59" stroke="#4d4d4d" stroke-width="0.9"/>
<text x="583.73" y="830.80" font-size="12" text-anchor="end" fill="#111111" textLength="65.70" lengthAdjust="spacing" transform="rotate(-90 583.73 830.80)" >M316.0795</text>
<line x1="598.48" y1="822.88" x2="598.48" y2="826.59" stroke="#4d4d4d" stroke-width="0.9"/>
<text x="602.08" y="830.80" font-size="12" text-anchor="end" fill="#111111" textLength="85.80" lengthAdjust="spacing" transform="rotate(-90 602.08 830.80)" >Cellopentaose</text>
<line x1="616.83" y1="822.88" x2="616.83" y2="826.59" stroke="#4d4d4d" stroke-width="0.9"/>
<text x="620.43" y="830.80" font-size="12" text-anchor="end" fill="#111111" textLength="73.50" lengthAdjust="spacing" transform="rotate(-90 620.43 830.80)" >L-Glutamine</text>
<line x1="635.18" y1="822.88" x2="635.18" y2="826.59" stroke="#4d4d4d" stroke-width="0.9"/>
<text x="638.78" y="830.80" font-size="12" text-anchor="end" fill="#111111" textLength="65.70" lengthAdjust="spacing" transform="rotate(-90 638.78 830.80)" >M665.2974</text>
<line x1="653.53" y1="822.88" x2="653.53" y2="826.59" stroke="#4d4d4d" stroke-width="0.9"/>
<text x="657.13" y="830.80" font-size="12" text-anchor="end" fill="#111111" textLength="72.70" lengthAdjust="spacing" transform="rotate(-90 657.13 830.80)" >M1087.5171</text>
<line x1="671.88" y1="822.88" x2="671.88" y2="826.59" stroke="#4d4d4d" stroke-width="0.9"/>
<text x="675.48" y="830.80" font-size="12" text-anchor="end" fill="#111111" textLength="46.40" lengthAdjust="spacing" transform="rotate(-90 675.48 830.80)" >maltose</text>
</g></svg></body></html>
